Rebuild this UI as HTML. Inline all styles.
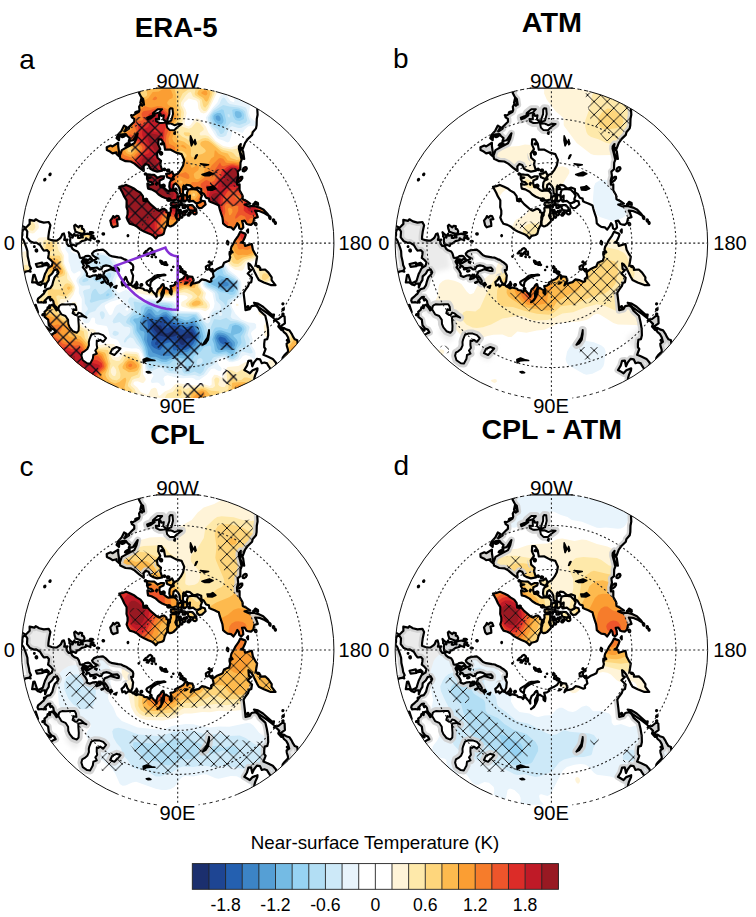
<!DOCTYPE html><html><head><meta charset="utf-8"><title>Near-surface Temperature</title><style>html,body{margin:0;padding:0;background:#fff}svg{display:block}</style></head><body>
<svg width="756" height="917" viewBox="0 0 756 917" font-family="'Liberation Sans', Arial, Helvetica, sans-serif" fill="#000">
<rect width="756" height="917" fill="#fff"/>
<defs>
<clipPath id="circ"><path d="M-19.3 -155.1L19.3 -155.1A156.3 156.3 0 0 1 20.9 154.9L-20.9 154.9A156.3 156.3 0 0 1 -19.3 -155.1Z"/></clipPath>
<g id="perim" fill="none" stroke="#111" stroke-width="1"><path d="M38 -151.6A156.3 156.3 0 0 1 60 144.3M-60 144.3A156.3 156.3 0 0 1 -38 -151.6" /><path d="M-21.5 -155.0H21.5" stroke-width="1.1"/><path stroke-dasharray="4.2 2.6" d="M-38 -151.6A156.3 156.3 0 0 1 -19.3 -155.1M19.3 -155.1A156.3 156.3 0 0 1 38 -151.6"/><path stroke-dasharray="3.2 3.4" stroke-width="0.95" d="M60 144.3A156.3 156.3 0 0 1 20.9 154.9M-20.9 154.9A156.3 156.3 0 0 1 -60 144.3"/></g>
<clipPath id="land"><path d="M75.1 -146.8L76.3 -140.5L80.3 -135.8L79.6 -134.0L79.9 -128.4L79.1 -124.2L78.9 -117.8L78.3 -114.7L75.0 -110.8L74.4 -108.2L70.3 -104.2L67.4 -100.3L65.0 -93.9L62.5 -96.3L63.1 -99.1L61.3 -96.7L61.2 -94.3L62.4 -89.8L63.9 -83.3L62.8 -80.4L62.6 -73.8L60.0 -71.5L60.5 -67.2L59.3 -62.5L59.5 -58.4L61.9 -58.7L61.9 -52.9L64.7 -47.9L65.1 -43.9L68.7 -42.1L72.5 -39.4L66.8 -38.6L70.7 -36.8L76.2 -37.2L81.7 -35.5L85.5 -33.7L89.3 -29.9L91.4 -27.1L86.9 -29.9L81.5 -32.1L77.4 -32.4L78.6 -30.2L80.1 -26.0L76.6 -24.9L75.6 -20.3L73.3 -18.3L70.2 -18.8L69.0 -19.1L66.9 -22.4L64.3 -22.1L65.2 -19.3L65.6 -15.7L63.6 -13.5L61.6 -14.8L61.0 -18.1L59.6 -19.9L58.4 -17.3L55.8 -13.4L53.4 -15.8L49.9 -16.2L47.6 -17.8L45.4 -19.7L45.1 -23.0L44.7 -25.8L43.5 -29.3L42.0 -34.0L41.1 -37.6L39.2 -38.5L36.9 -39.6L33.7 -40.9L31.6 -41.9L31.2 -44.5L28.4 -45.4L26.2 -49.2L23.7 -50.7L23.5 -54.1L19.7 -55.6L17.8 -54.8L15.3 -55.0L12.3 -57.7L8.7 -58.3L7.4 -56.6L6.1 -57.6L5.2 -54.1L5.3 -50.0L3.8 -47.7L2.2 -50.3L1.9 -54.3L0.5 -57.1L-2.1 -59.8L-4.1 -58.3L-4.7 -54.2L-7.5 -53.0L-8.4 -56.4L-8.0 -60.6L-6.6 -62.7L-3.9 -63.8L-4.6 -66.5L-3.0 -68.0L-0.0 -69.4L3.2 -73.5L5.4 -77.6L6.5 -83.1L3.9 -89.0L-1.6 -90.5L-7.4 -93.6L-12.6 -93.4L-13.7 -99.6L-16.4 -103.7L-19.2 -103.8L-19.5 -98.7L-17.4 -94.0L-20.7 -89.5L-20.2 -85.3L-16.7 -82.2L-17.4 -78.6L-15.4 -72.5L-20.5 -71.5L-25.1 -73.0L-27.3 -74.3L-29.2 -78.1L-32.0 -79.1L-34.1 -76.7L-33.9 -72.1L-38.5 -75.5L-43.2 -79.5L-47.1 -81.6L-52.2 -81.9L-57.4 -84.4L-57.9 -87.5L-55.9 -93.0L-50.9 -95.8L-43.4 -99.8L-41.2 -104.6L-40.0 -109.8L-41.4 -107.7L-44.7 -102.8L-49.0 -101.8L-47.9 -105.0L-50.4 -107.1L-52.0 -109.1L-55.4 -108.8L-58.4 -107.5L-58.7 -102.9L-61.1 -105.0L-59.9 -108.1L-56.1 -112.5L-53.6 -117.5L-51.1 -115.9L-53.2 -111.6L-48.7 -114.6L-49.1 -115.7L-45.7 -119.1L-43.4 -121.3L-43.5 -124.2L-45.8 -125.8L-46.1 -126.7L-43.1 -128.7L-38.9 -131.3L-38.2 -133.2L-38.6 -136.4L-37.2 -138.8L-35.5 -137.3L-37.4 -140.4L-36.4 -144.7L-33.7 -138.4L-34.6 -144.1L-36.3 -145.7L-38.9 -150.5L-36.8 -153.1L-33.6 -156.6L-31.0 -159.5L-28.6 -162.4L-26.6 -168.0L-27.1 -171.4L-15.1 -172.9L-3.0 -173.5L9.2 -173.3L21.3 -172.2L33.3 -170.3L45.1 -167.6L56.7 -164.0L68.1 -159.6L79.1 -154.5ZM-58.4 -56.2L-55.3 -50.6L-53.4 -46.4L-51.1 -42.8L-51.1 -39.2L-51.2 -35.9L-50.1 -32.6L-50.1 -28.9L-51.1 -25.5L-49.7 -22.1L-47.9 -19.3L-44.0 -18.2L-40.4 -16.3L-37.2 -13.5L-33.6 -11.6L-30.0 -10.0L-26.3 -8.5L-24.0 -6.9L-21.9 -4.6L-19.8 -7.2L-15.9 -8.1L-14.1 -9.2L-13.5 -11.3L-12.9 -13.8L-11.6 -16.6L-10.5 -18.2L-10.5 -20.6L-10.0 -23.5L-10.1 -25.7L-9.4 -28.8L-9.2 -30.2L-11.3 -30.9L-11.2 -32.4L-13.5 -34.3L-15.2 -34.2L-18.7 -32.4L-21.0 -33.6L-24.1 -36.3L-27.3 -39.0L-30.0 -42.1L-34.2 -42.2L-34.8 -47.0L-37.2 -50.3L-41.0 -52.5L-43.2 -54.3L-47.3 -56.3L-51.5 -58.2L-55.0 -56.9ZM-59.4 -27.1L-58.0 -24.0L-60.9 -23.4L-60.2 -19.6L-60.1 -17.2L-63.2 -16.3L-64.7 -15.8L-66.2 -17.7L-67.4 -22.5L-65.3 -25.1L-64.5 -27.0L-63.1 -25.5L-61.1 -27.2ZM-152.4 -14.9L-150.6 -16.6L-148.0 -19.2L-148.1 -23.2L-143.3 -22.2L-142.0 -23.8L-138.5 -21.7L-133.9 -20.5L-129.0 -21.1L-127.3 -17.9L-128.7 -11.3L-129.3 -6.8L-129.4 -4.1L-126.0 -2.9L-123.0 -2.4L-120.8 -2.5L-118.0 -4.5L-116.8 -5.7L-115.3 -9.1L-113.8 -9.6L-112.8 -5.9L-113.5 -3.2L-110.2 -3.5L-111.2 -1.9L-110.9 0.4L-109.1 2.9L-106.7 3.0L-105.4 5.5L-103.3 7.2L-100.2 8.4L-98.9 10.4L-98.4 12.1L-97.7 14.6L-96.5 14.9L-93.7 14.2L-92.1 13.1L-89.6 12.7L-87.8 13.3L-85.6 16.0L-88.4 16.1L-89.4 17.2L-91.9 16.2L-94.0 16.2L-95.0 16.8L-95.9 18.6L-95.0 20.2L-93.8 22.5L-94.9 24.2L-92.3 27.3L-90.7 30.3L-90.8 32.7L-87.9 33.8L-84.5 32.4L-81.5 32.1L-80.4 33.3L-81.3 36.2L-77.8 35.1L-75.9 33.0L-74.3 34.6L-72.4 38.5L-69.9 40.7L-69.6 37.8L-71.4 34.8L-74.4 31.6L-73.0 28.4L-69.8 27.2L-67.3 26.1L-64.6 26.8L-61.1 27.9L-59.0 27.9L-58.8 26.3L-60.5 24.4L-63.4 24.7L-65.8 24.6L-68.4 22.9L-71.6 22.3L-74.3 23.0L-75.4 24.2L-76.2 26.0L-78.3 26.2L-80.9 24.4L-84.0 24.9L-87.5 25.1L-89.0 23.0L-90.8 23.0L-91.3 20.9L-89.1 19.9L-85.8 17.9L-82.3 16.3L-81.3 15.8L-80.6 14.9L-82.8 13.9L-85.1 12.0L-85.6 10.5L-83.5 8.2L-80.2 7.0L-77.4 6.8L-74.7 6.5L-72.3 8.2L-70.0 10.5L-68.3 12.1L-65.3 13.3L-62.4 13.8L-59.5 14.3L-56.6 14.6L-53.9 16.0L-51.7 16.8L-49.8 18.1L-47.9 19.3L-45.0 21.8L-44.4 23.6L-44.7 26.9L-46.6 26.9L-45.8 29.8L-44.6 32.4L-45.2 37.9L-46.4 40.6L-48.5 40.7L-50.4 38.0L-51.3 35.3L-52.0 33.8L-53.8 37.0L-56.1 39.0L-55.3 42.4L-52.9 41.4L-51.9 43.5L-49.4 41.4L-46.1 42.2L-45.0 43.4L-42.9 41.7L-41.2 39.5L-41.1 38.8L-40.0 41.4L-42.1 44.4L-43.8 43.8L-41.5 45.3L-39.3 44.4L-34.3 45.6L-33.5 46.9L-29.7 47.5L-28.4 49.2L-26.4 46.6L-23.8 49.8L-22.7 50.9L-22.0 51.8L-21.1 53.6L-21.2 50.0L-20.7 48.8L-19.8 46.2L-17.4 44.3L-16.1 41.9L-14.1 42.1L-13.5 43.7L-14.7 46.7L-16.4 50.4L-16.2 54.7L-18.9 58.2L-20.4 59.1L-17.5 57.2L-15.4 53.6L-13.8 49.8L-13.7 46.2L-11.6 44.8L-9.8 46.0L-7.9 47.0L-7.9 49.7L-6.3 51.3L-5.9 48.1L-7.2 43.0L-4.5 42.5L-2.1 40.9L-2.8 39.5L-0.0 38.0L3.2 36.5L5.6 35.1L8.0 31.4L9.5 32.1L9.6 35.7L10.8 33.3L14.7 33.8L16.0 37.7L13.8 39.9L13.0 42.4L14.7 40.5L17.4 40.0L21.2 39.0L24.1 36.3L27.8 37.0L32.0 38.8L33.7 38.1L33.4 35.8L36.0 33.6L35.2 30.0L35.1 28.9L38.8 26.2L42.4 24.5L44.9 23.4L46.3 19.7L49.8 18.1L51.4 17.7L52.5 14.1L51.8 11.0L52.0 8.7L54.9 9.2L53.1 6.5L53.7 3.8L56.0 0.0L57.5 -3.0L60.7 -7.5L62.6 -11.3L67.4 -9.5L68.1 -8.4L67.0 -5.3L65.2 -1.7L63.3 -0.6L66.6 0.0L67.4 2.9L72.2 1.3L74.1 0.9L75.2 6.6L77.5 10.9L79.4 13.6L78.4 19.6L78.0 22.4L82.6 24.8L82.5 26.8L87.4 26.4L90.7 29.5L94.0 34.2L93.9 37.0L97.8 42.1L93.0 42.0L86.2 39.3L81.1 36.8L79.3 33.7L76.8 28.7L75.1 25.1L72.4 21.4L70.7 20.3L71.2 25.9L73.5 27.0L70.0 30.4L74.3 34.6L73.6 39.1L71.5 40.0L70.4 43.1L67.8 46.6L65.9 49.7L66.5 54.8L67.2 60.5L67.8 67.1L72.0 66.0L73.8 63.1L77.8 62.3L80.3 64.3L82.1 67.7L87.6 72.7L89.1 78.9L90.3 85.7L90.5 92.1L89.6 96.0L87.0 96.7L86.5 100.5L86.5 104.2L87.9 105.9L85.7 111.7L89.9 113.4L95.1 115.8L98.3 119.6L98.5 121.6L96.1 125.2L93.6 127.5L92.9 126.0L90.1 121.8L89.4 120.3L86.7 119.4L84.1 120.1L82.3 116.2L79.2 115.7L76.2 119.6L74.6 123.2L73.4 117.5L70.7 117.7L69.3 122.6L66.6 126.9L70.0 128.8L72.2 130.2L74.9 127.2L79.8 125.3L79.6 127.4L77.6 131.7L76.6 135.3L76.6 136.5L82.0 139.2L87.1 142.1L91.0 145.7L92.0 147.2L81.2 153.4L69.9 158.8L58.3 163.5L46.4 167.2L34.3 170.1L22.0 172.2L9.6 173.3L-2.9 173.5L-15.3 172.9L-27.7 171.3L-40.0 168.9L-52.0 165.6L-63.7 161.4L-75.2 156.4L-86.2 150.6L-96.8 144.0L-106.9 136.7L-116.4 128.7L-125.4 120.0L-133.7 110.7L-141.3 100.8L-136.8 95.1L-130.4 93.0L-126.8 91.8L-123.9 90.0L-122.0 89.3L-123.6 86.5L-126.4 85.3L-128.9 82.1L-129.6 76.6L-133.1 73.8L-132.9 70.7L-133.2 68.7L-130.6 66.6L-130.0 64.2L-127.8 65.1L-127.3 62.4L-125.5 61.7L-123.2 64.1L-121.2 67.2L-119.8 66.4L-121.0 64.3L-122.9 62.6L-124.0 60.5L-124.4 58.0L-126.0 56.1L-127.2 57.4L-128.2 55.2L-127.4 53.8L-129.4 53.9L-131.1 55.6L-133.0 57.8L-133.9 59.6L-135.9 59.1L-139.4 59.4L-140.2 57.5L-139.6 55.5L-137.2 53.5L-135.7 52.1L-134.1 50.7L-132.6 48.3L-130.7 46.0L-127.6 45.2L-125.4 42.0L-124.4 38.0L-123.0 34.1L-120.0 31.0L-119.2 29.1L-120.8 26.3L-123.7 27.2L-125.5 30.4L-128.7 33.3L-129.0 37.0L-131.0 40.1L-132.6 44.4L-132.5 40.5L-135.2 40.3L-137.0 42.2L-139.6 41.4L-141.5 39.8L-138.4 39.7L-134.9 37.9L-133.9 34.6L-132.6 30.6L-131.4 28.4L-129.8 25.2L-127.6 23.6L-125.9 22.7L-124.9 19.3L-127.1 16.7L-129.6 14.8L-129.0 11.3L-128.8 9.0L-130.5 7.1L-132.7 7.4L-133.9 7.5L-135.6 5.2L-137.6 1.9L-141.5 -0.5L-144.0 -0.3L-147.6 -1.8L-150.1 -5.0L-150.7 -5.8L-150.4 -11.6L-152.2 -14.4ZM-162.9 -25.8L-159.8 -21.3L-158.7 -18.9L-155.5 -17.2L-153.0 -15.8L-152.8 -14.2L-154.6 -13.5L-155.4 -10.9L-155.3 -8.1L-156.1 -5.4L-154.1 -2.7L-152.5 1.3L-151.1 5.3L-150.3 7.9L-150.0 13.1L-148.8 18.3L-148.2 22.2L-146.7 25.3L-147.8 26.9L-147.1 28.6L-149.3 27.9L-152.2 28.5L-153.6 29.9L-157.4 27.8L-159.2 30.9L-159.4 36.8L-159.8 43.4L-166.8 47.8L-170.2 48.8L-173.3 36.3L-175.5 23.6L-176.7 10.8L-177.1 -2.1L-176.4 -14.9L-174.9 -27.7ZM-108.9 -10.9L-108.2 -8.5L-108.3 -6.6L-107.2 -5.6L-107.6 -2.8L-107.3 0.6L-105.8 2.6L-105.0 1.5L-101.7 3.0L-100.6 0.5L-98.8 0.2L-95.9 -2.0L-93.3 -2.6L-91.8 -3.2L-91.8 -4.8L-90.4 -3.9L-87.6 -3.1L-87.3 -2.7L-87.1 -6.1L-84.4 -4.6L-84.2 -7.4L-87.2 -8.4L-89.7 -9.4L-92.9 -8.9L-94.4 -8.3L-95.3 -8.0L-94.9 -5.6L-96.3 -5.9L-98.1 -5.1L-99.6 -5.2L-99.4 -7.8L-100.9 -7.9L-102.4 -7.3L-103.4 -9.4L-104.4 -7.7L-105.1 -5.5L-105.6 -7.8L-107.5 -9.4ZM-102.3 -11.5L-99.2 -10.4L-95.8 -9.2L-93.7 -9.8L-93.2 -11.9L-94.3 -14.1L-95.7 -14.3L-95.6 -16.9L-97.9 -17.3L-99.1 -15.7L-101.4 -17.5L-102.4 -18.4L-103.5 -17.3L-103.1 -14.5L-102.4 -12.6ZM-29.6 -54.5L-26.2 -53.7L-21.8 -51.3L-19.1 -48.6L-15.5 -46.4L-12.5 -45.1L-9.8 -44.4L-7.1 -42.5L-3.8 -42.9L-0.4 -43.6L-0.0 -49.0L-1.8 -51.6L-4.6 -52.8L-9.2 -52.2L-11.3 -53.2L-14.4 -55.8L-17.1 -55.9L-18.3 -59.8L-18.0 -62.7L-14.2 -64.3L-13.6 -66.7L-16.7 -66.8L-20.0 -65.3L-23.5 -68.2L-27.0 -68.4L-30.6 -68.7L-30.7 -65.9L-27.1 -65.4L-30.7 -64.4L-29.3 -61.4L-26.6 -61.1L-24.5 -59.0L-27.2 -58.4L-30.3 -59.4L-30.0 -56.4ZM-9.7 -17.8L-7.8 -16.7L-6.2 -17.0L-4.4 -17.8L-2.7 -19.5L-1.1 -21.0L-0.0 -22.9L-1.3 -24.9L-2.4 -27.5L-1.3 -30.2L-1.1 -32.9L-1.2 -35.6L-5.7 -35.9L-7.1 -34.9L-6.8 -32.2L-7.7 -29.8L-7.7 -27.9L-9.0 -26.1L-9.2 -24.1L-9.8 -22.1L-9.9 -19.1ZM-1.1 -25.0L1.2 -23.1L2.7 -26.2L1.6 -30.2L-0.8 -30.3L-1.0 -27.6ZM-6.6 -37.7L-6.7 -40.1L-3.6 -40.8L-0.0 -40.6L1.4 -39.6L1.6 -36.1L-0.3 -35.6L-0.7 -38.0L-4.6 -37.2ZM10.4 -53.4L14.6 -54.3L19.4 -53.4L22.4 -50.4L24.2 -47.5L22.9 -43.9L23.6 -42.6L20.9 -40.1L17.9 -40.3L15.4 -42.2L11.9 -41.6L12.3 -47.4L9.2 -45.3L9.3 -50.3ZM27.1 -41.7L27.9 -38.6L24.2 -35.3L21.4 -34.9L19.3 -37.0L19.0 -39.8L22.7 -40.9L24.5 -42.4ZM10.9 -38.0L9.9 -35.6L11.4 -33.1L14.5 -32.5L17.0 -32.7L17.1 -35.1L14.6 -37.9ZM6.0 -48.6L5.3 -43.3L7.3 -41.6L9.7 -43.9L8.8 -47.3ZM0.4 -45.7L0.4 -42.5L3.7 -42.1L4.4 -46.1L2.9 -47.5ZM5.1 -38.7L5.0 -35.2L7.5 -35.3L7.4 -38.3ZM-11.6 -69.3L-10.4 -65.8L-6.2 -64.1L-3.5 -67.1L-5.6 -71.4L-8.5 -69.4ZM5.4 -56.3L6.1 -53.7L9.1 -54.4L7.9 -56.2ZM-59.5 -100.3L-59.5 -97.1L-58.8 -92.3L-58.5 -86.8L-61.1 -88.9L-61.2 -90.7L-65.2 -89.7L-67.7 -91.5L-70.8 -93.0L-71.0 -95.9L-67.1 -97.6L-65.2 -96.7ZM62.9 -95.3L65.4 -91.7L66.5 -84.2L65.0 -84.7L63.1 -89.4L62.2 -92.9ZM80.4 -38.3L76.5 -39.8L77.6 -41.3L80.2 -40.0ZM70.3 -10.5L70.3 -13.7L69.2 -12.2ZM76.3 59.6L80.3 60.5L85.3 63.6L89.8 67.6L94.3 71.6L96.3 71.5L95.7 74.8L90.9 71.0L84.8 66.7L81.2 64.2L77.9 61.3ZM103.7 87.0L100.6 83.5L101.6 80.8L96.9 76.2L100.7 75.9L104.9 72.6L106.9 73.5L107.2 80.2L102.8 83.2L104.7 84.8ZM120.0 101.0L119.6 97.2L117.1 96.2L115.2 93.3L114.0 90.7L111.7 87.3L108.5 86.3L106.1 84.7L105.2 87.3L106.2 89.1L108.6 91.1L110.3 94.2L111.5 98.7L108.9 100.5L109.1 102.8L110.2 106.4L110.4 108.5L106.6 112.3L105.0 114.6L104.2 119.9L107.1 123.2L113.8 126.4L126.4 113.8L123.2 107.1ZM-143.1 31.7L-140.6 39.3L-145.6 39.3L-144.4 32.0ZM-135.6 19.5L-135.0 23.1L-140.7 23.8L-141.8 20.9ZM-130.8 19.8L-128.9 21.6L-133.6 22.3L-134.1 20.8ZM-132.3 83.6L-130.4 84.7L-126.9 87.5L-129.7 87.5L-132.4 86.0ZM-142.0 61.7L-139.7 69.0L-142.1 66.3L-142.9 62.1ZM15.1 -31.6L15.1 -30.2L16.1 -29.0L17.6 -28.8L18.8 -29.6L19.0 -31.0L17.9 -32.3L16.2 -32.5ZM11.1 -30.1L11.1 -29.3L11.6 -28.7L12.4 -28.7L13.0 -29.4L13.0 -30.3L12.5 -30.9L11.7 -30.8ZM9.9 -28.6L9.9 -27.9L10.5 -27.4L11.3 -27.4L11.8 -27.9L11.8 -28.6L11.2 -29.1L10.4 -29.1ZM4.8 -29.6L5.0 -28.4L5.9 -27.8L7.0 -28.0L7.7 -29.0L7.5 -30.2L6.6 -30.9L5.4 -30.7ZM3.0 -30.7L3.1 -29.9L3.5 -29.5L4.0 -29.8L4.3 -30.5L4.2 -31.3L3.8 -31.6L3.3 -31.4ZM2.5 -39.2L2.7 -38.4L3.3 -38.0L4.0 -38.2L4.4 -39.1L4.2 -39.9L3.5 -40.4L2.8 -40.1ZM-10.5 -43.1L-9.8 -42.4L-8.6 -42.3L-7.5 -42.9L-7.2 -43.8L-7.8 -44.6L-9.1 -44.7L-10.2 -44.1ZM-15.2 -57.0L-14.6 -56.1L-13.7 -56.0L-13.1 -56.5L-13.0 -57.5L-13.5 -58.4L-14.4 -58.6L-15.1 -58.0ZM-10.8 -72.5L-10.4 -71.8L-9.4 -71.7L-8.6 -72.1L-8.3 -72.8L-8.7 -73.4L-9.7 -73.6L-10.6 -73.2ZM-14.0 -73.6L-13.7 -73.1L-13.1 -72.9L-12.6 -73.3L-12.5 -73.9L-12.8 -74.4L-13.4 -74.6L-13.9 -74.2ZM-16.9 -99.1L-16.4 -98.8L-15.3 -98.8L-14.2 -99.2L-13.8 -99.6L-14.3 -100.0L-15.5 -100.0L-16.6 -99.6ZM-52.7 -97.6L-51.7 -97.4L-49.9 -98.0L-48.4 -99.1L-47.9 -100.0L-48.9 -100.2L-50.8 -99.6L-52.3 -98.5ZM-56.3 -106.3L-55.4 -106.0L-53.8 -106.5L-52.5 -107.5L-52.1 -108.3L-53.0 -108.6L-54.6 -108.1L-56.0 -107.1ZM-33.0 -42.1L-32.2 -41.7L-31.1 -42.1L-30.5 -43.0L-30.6 -43.9L-31.5 -44.4L-32.6 -44.0L-33.2 -43.1ZM17.2 -33.3L17.1 -32.7L17.5 -32.2L18.1 -32.1L18.6 -32.5L18.6 -33.1L18.2 -33.6L17.6 -33.7ZM9.0 -37.4L9.0 -36.8L9.4 -36.5L10.0 -36.6L10.3 -37.1L10.2 -37.7L9.8 -38.1L9.3 -37.9ZM8.1 -32.2L8.1 -31.6L8.5 -31.2L9.1 -31.3L9.4 -31.8L9.4 -32.4L9.0 -32.8L8.4 -32.7ZM6.2 -31.8L6.3 -31.3L6.6 -31.0L7.0 -31.1L7.3 -31.6L7.2 -32.1L6.9 -32.3L6.4 -32.2ZM-0.5 -33.2L-0.2 -32.6L0.3 -32.4L0.8 -32.6L1.0 -33.2L0.8 -33.7L0.3 -34.0L-0.2 -33.7ZM2.0 -32.6L2.1 -32.0L2.5 -31.8L2.9 -32.0L3.1 -32.5L3.0 -33.1L2.6 -33.3L2.2 -33.1ZM10.8 -42.5L10.9 -41.8L11.5 -41.4L12.2 -41.4L12.6 -42.0L12.5 -42.7L12.0 -43.2L11.3 -43.1ZM-16.3 -57.0L-16.0 -56.4L-15.6 -56.3L-15.3 -56.6L-15.3 -57.2L-15.6 -57.7L-16.1 -57.9L-16.3 -57.6ZM-32.9 -68.9L-32.5 -68.5L-32.0 -68.6L-31.6 -68.9L-31.7 -69.5L-32.0 -69.8L-32.6 -69.8L-32.9 -69.4ZM-17.7 -89.6L-17.2 -88.7L-16.4 -88.4L-15.7 -88.9L-15.5 -90.0L-16.0 -90.9L-16.9 -91.2L-17.6 -90.6ZM3.6 -26.1L3.7 -25.6L4.0 -25.3L4.4 -25.5L4.7 -25.9L4.6 -26.4L4.2 -26.6L3.8 -26.5ZM-0.4 -35.0L-0.3 -34.7L-0.0 -34.5L0.3 -34.7L0.4 -35.0L0.3 -35.4L-0.0 -35.6L-0.3 -35.4ZM5.6 -42.1L5.8 -41.7L6.2 -41.5L6.7 -41.6L6.9 -41.9L6.8 -42.3L6.4 -42.6L5.9 -42.5ZM-2.5 -54.0L-2.3 -53.7L-1.9 -53.5L-1.5 -53.7L-1.3 -54.1L-1.5 -54.4L-1.9 -54.6L-2.3 -54.4ZM65.8 -74.9L64.9 -73.2L65.2 -71.9L66.5 -71.8L68.1 -72.8L69.1 -74.5L68.7 -75.8L67.4 -76.0ZM61.2 -64.7L59.8 -62.7L59.8 -61.3L61.2 -61.3L63.2 -62.7L64.6 -64.7L64.6 -66.2L63.2 -66.2ZM77.7 -20.2L77.2 -19.7L77.2 -18.8L77.6 -18.0L78.3 -17.8L78.8 -18.3L78.8 -19.2L78.3 -20.0ZM91.8 -27.0L91.4 -26.4L91.5 -25.4L92.0 -24.4L92.6 -24.1L92.9 -24.7L92.9 -25.8L92.4 -26.7ZM95.6 -23.8L95.2 -23.4L95.2 -22.5L95.6 -21.7L96.2 -21.5L96.6 -22.0L96.6 -22.8L96.2 -23.6ZM97.4 -21.2L97.1 -20.9L97.1 -20.1L97.4 -19.4L97.8 -19.2L98.2 -19.6L98.2 -20.3L97.9 -21.0ZM105.6 70.5L105.2 70.4L104.8 70.7L104.6 71.1L104.9 71.6L105.4 71.6L105.8 71.4L105.9 70.9ZM106.0 65.3L105.5 65.4L105.0 65.8L104.7 66.5L105.0 67.0L105.5 67.0L106.0 66.5L106.2 65.8ZM105.5 60.2L105.1 60.2L104.8 60.5L104.7 61.0L104.9 61.3L105.2 61.3L105.6 61.0L105.7 60.5ZM-141.2 8.5L-140.6 8.2L-140.5 7.4L-140.7 6.6L-141.3 6.3L-141.9 6.6L-142.1 7.4L-141.8 8.2ZM-82.9 28.3L-82.1 27.9L-81.9 27.4L-82.3 27.2L-83.3 27.3L-84.1 27.7L-84.3 28.2L-83.8 28.5ZM-86.0 26.1L-85.1 25.7L-84.7 25.4L-85.2 25.4L-86.2 25.6L-87.1 26.0L-87.5 26.2L-87.0 26.3ZM-78.2 33.5L-77.8 33.0L-77.9 32.3L-78.4 31.7L-79.0 31.6L-79.3 32.1L-79.2 32.8L-78.8 33.4ZM-77.0 32.7L-76.8 32.4L-76.8 32.0L-77.1 31.6L-77.4 31.6L-77.7 31.9L-77.6 32.3L-77.3 32.6ZM-91.1 20.1L-90.4 19.7L-90.2 19.0L-90.7 18.5L-91.5 18.4L-92.3 18.8L-92.5 19.5L-92.0 20.0ZM-92.3 17.6L-91.8 17.3L-91.7 16.8L-92.0 16.4L-92.5 16.3L-93.0 16.6L-93.1 17.1L-92.8 17.5ZM-93.3 19.5L-93.2 19.3L-93.2 18.8L-93.4 18.3L-93.6 18.2L-93.8 18.4L-93.8 18.9L-93.6 19.4ZM-91.2 24.6L-91.1 24.5L-91.0 24.2L-91.2 24.0L-91.4 24.0L-91.6 24.1L-91.6 24.4L-91.4 24.6ZM80.8 22.9L79.8 22.8L79.4 23.1L79.6 23.6L80.4 24.0L81.3 24.1L81.8 23.8L81.6 23.3ZM70.7 63.2L70.1 63.0L69.6 63.3L69.3 63.9L69.5 64.4L70.1 64.6L70.6 64.3L70.9 63.7ZM52.6 10.2L52.2 10.3L51.9 10.6L52.0 10.9L52.4 11.1L52.8 11.1L53.0 10.8L52.9 10.4ZM-134.4 72.1L-134.0 71.7L-133.9 71.2L-134.3 71.0L-134.9 71.1L-135.3 71.5L-135.4 72.0L-135.0 72.2ZM-127.7 63.7L-127.6 63.4L-127.7 62.8L-128.1 62.4L-128.4 62.3L-128.5 62.7L-128.4 63.2L-128.1 63.6ZM-131.9 59.5L-131.8 59.1L-132.0 58.2L-132.5 57.5L-132.9 57.2L-133.0 57.7L-132.7 58.5L-132.3 59.3ZM-133.0 48.2L-132.5 47.9L-132.3 47.6L-132.6 47.5L-133.2 47.6L-133.7 47.9L-133.8 48.2L-133.6 48.3ZM-129.2 23.8L-129.0 23.6L-129.0 23.4L-129.1 23.3L-129.3 23.2L-129.4 23.3L-129.4 23.5L-129.3 23.7ZM-143.3 3.9L-143.1 3.8L-143.0 3.5L-143.1 3.2L-143.3 3.1L-143.6 3.2L-143.7 3.5L-143.6 3.8ZM97.1 129.5L96.7 129.5L96.0 129.8L95.5 130.3L95.5 130.7L95.9 130.8L96.5 130.4L97.0 129.9ZM100.6 122.5L100.2 122.1L99.9 122.0L99.9 122.3L100.2 122.8L100.6 123.2L100.9 123.3L100.9 123.0ZM109.9 97.1L109.5 96.8L109.2 96.9L109.1 97.2L109.4 97.6L109.8 97.8L110.1 97.8L110.2 97.4ZM96.7 77.5L96.5 77.4L96.4 77.5L96.3 77.6L96.4 77.8L96.6 77.9L96.8 77.8L96.8 77.6ZM75.8 -39.3L75.5 -38.9L75.5 -38.5L75.9 -38.2L76.3 -38.2L76.6 -38.6L76.5 -39.0L76.2 -39.3ZM-42.5 -130.7L-41.9 -130.7L-40.6 -131.0L-39.3 -131.5L-38.8 -131.9L-39.4 -131.9L-40.7 -131.6L-42.0 -131.1ZM-46.6 -127.8L-46.5 -127.7L-46.3 -127.8L-46.0 -127.9L-46.0 -128.0L-46.1 -128.1L-46.4 -128.1L-46.6 -127.9ZM-17.6 -120.8L-17.2 -120.6L-16.3 -120.6L-15.4 -120.8L-15.1 -121.1L-15.5 -121.3L-16.4 -121.3L-17.3 -121.1ZM-96.8 -7.4L-96.5 -7.5L-96.4 -7.6L-96.5 -7.7L-96.8 -7.8L-97.1 -7.8L-97.2 -7.7L-97.1 -7.5Z"/></clipPath>
<path id="landp" d="M75.1 -146.8L76.3 -140.5L80.3 -135.8L79.6 -134.0L79.9 -128.4L79.1 -124.2L78.9 -117.8L78.3 -114.7L75.0 -110.8L74.4 -108.2L70.3 -104.2L67.4 -100.3L65.0 -93.9L62.5 -96.3L63.1 -99.1L61.3 -96.7L61.2 -94.3L62.4 -89.8L63.9 -83.3L62.8 -80.4L62.6 -73.8L60.0 -71.5L60.5 -67.2L59.3 -62.5L59.5 -58.4L61.9 -58.7L61.9 -52.9L64.7 -47.9L65.1 -43.9L68.7 -42.1L72.5 -39.4L66.8 -38.6L70.7 -36.8L76.2 -37.2L81.7 -35.5L85.5 -33.7L89.3 -29.9L91.4 -27.1L86.9 -29.9L81.5 -32.1L77.4 -32.4L78.6 -30.2L80.1 -26.0L76.6 -24.9L75.6 -20.3L73.3 -18.3L70.2 -18.8L69.0 -19.1L66.9 -22.4L64.3 -22.1L65.2 -19.3L65.6 -15.7L63.6 -13.5L61.6 -14.8L61.0 -18.1L59.6 -19.9L58.4 -17.3L55.8 -13.4L53.4 -15.8L49.9 -16.2L47.6 -17.8L45.4 -19.7L45.1 -23.0L44.7 -25.8L43.5 -29.3L42.0 -34.0L41.1 -37.6L39.2 -38.5L36.9 -39.6L33.7 -40.9L31.6 -41.9L31.2 -44.5L28.4 -45.4L26.2 -49.2L23.7 -50.7L23.5 -54.1L19.7 -55.6L17.8 -54.8L15.3 -55.0L12.3 -57.7L8.7 -58.3L7.4 -56.6L6.1 -57.6L5.2 -54.1L5.3 -50.0L3.8 -47.7L2.2 -50.3L1.9 -54.3L0.5 -57.1L-2.1 -59.8L-4.1 -58.3L-4.7 -54.2L-7.5 -53.0L-8.4 -56.4L-8.0 -60.6L-6.6 -62.7L-3.9 -63.8L-4.6 -66.5L-3.0 -68.0L-0.0 -69.4L3.2 -73.5L5.4 -77.6L6.5 -83.1L3.9 -89.0L-1.6 -90.5L-7.4 -93.6L-12.6 -93.4L-13.7 -99.6L-16.4 -103.7L-19.2 -103.8L-19.5 -98.7L-17.4 -94.0L-20.7 -89.5L-20.2 -85.3L-16.7 -82.2L-17.4 -78.6L-15.4 -72.5L-20.5 -71.5L-25.1 -73.0L-27.3 -74.3L-29.2 -78.1L-32.0 -79.1L-34.1 -76.7L-33.9 -72.1L-38.5 -75.5L-43.2 -79.5L-47.1 -81.6L-52.2 -81.9L-57.4 -84.4L-57.9 -87.5L-55.9 -93.0L-50.9 -95.8L-43.4 -99.8L-41.2 -104.6L-40.0 -109.8L-41.4 -107.7L-44.7 -102.8L-49.0 -101.8L-47.9 -105.0L-50.4 -107.1L-52.0 -109.1L-55.4 -108.8L-58.4 -107.5L-58.7 -102.9L-61.1 -105.0L-59.9 -108.1L-56.1 -112.5L-53.6 -117.5L-51.1 -115.9L-53.2 -111.6L-48.7 -114.6L-49.1 -115.7L-45.7 -119.1L-43.4 -121.3L-43.5 -124.2L-45.8 -125.8L-46.1 -126.7L-43.1 -128.7L-38.9 -131.3L-38.2 -133.2L-38.6 -136.4L-37.2 -138.8L-35.5 -137.3L-37.4 -140.4L-36.4 -144.7L-33.7 -138.4L-34.6 -144.1L-36.3 -145.7L-38.9 -150.5L-36.8 -153.1L-33.6 -156.6L-31.0 -159.5L-28.6 -162.4L-26.6 -168.0L-27.1 -171.4L-15.1 -172.9L-3.0 -173.5L9.2 -173.3L21.3 -172.2L33.3 -170.3L45.1 -167.6L56.7 -164.0L68.1 -159.6L79.1 -154.5ZM-58.4 -56.2L-55.3 -50.6L-53.4 -46.4L-51.1 -42.8L-51.1 -39.2L-51.2 -35.9L-50.1 -32.6L-50.1 -28.9L-51.1 -25.5L-49.7 -22.1L-47.9 -19.3L-44.0 -18.2L-40.4 -16.3L-37.2 -13.5L-33.6 -11.6L-30.0 -10.0L-26.3 -8.5L-24.0 -6.9L-21.9 -4.6L-19.8 -7.2L-15.9 -8.1L-14.1 -9.2L-13.5 -11.3L-12.9 -13.8L-11.6 -16.6L-10.5 -18.2L-10.5 -20.6L-10.0 -23.5L-10.1 -25.7L-9.4 -28.8L-9.2 -30.2L-11.3 -30.9L-11.2 -32.4L-13.5 -34.3L-15.2 -34.2L-18.7 -32.4L-21.0 -33.6L-24.1 -36.3L-27.3 -39.0L-30.0 -42.1L-34.2 -42.2L-34.8 -47.0L-37.2 -50.3L-41.0 -52.5L-43.2 -54.3L-47.3 -56.3L-51.5 -58.2L-55.0 -56.9ZM-59.4 -27.1L-58.0 -24.0L-60.9 -23.4L-60.2 -19.6L-60.1 -17.2L-63.2 -16.3L-64.7 -15.8L-66.2 -17.7L-67.4 -22.5L-65.3 -25.1L-64.5 -27.0L-63.1 -25.5L-61.1 -27.2ZM-152.4 -14.9L-150.6 -16.6L-148.0 -19.2L-148.1 -23.2L-143.3 -22.2L-142.0 -23.8L-138.5 -21.7L-133.9 -20.5L-129.0 -21.1L-127.3 -17.9L-128.7 -11.3L-129.3 -6.8L-129.4 -4.1L-126.0 -2.9L-123.0 -2.4L-120.8 -2.5L-118.0 -4.5L-116.8 -5.7L-115.3 -9.1L-113.8 -9.6L-112.8 -5.9L-113.5 -3.2L-110.2 -3.5L-111.2 -1.9L-110.9 0.4L-109.1 2.9L-106.7 3.0L-105.4 5.5L-103.3 7.2L-100.2 8.4L-98.9 10.4L-98.4 12.1L-97.7 14.6L-96.5 14.9L-93.7 14.2L-92.1 13.1L-89.6 12.7L-87.8 13.3L-85.6 16.0L-88.4 16.1L-89.4 17.2L-91.9 16.2L-94.0 16.2L-95.0 16.8L-95.9 18.6L-95.0 20.2L-93.8 22.5L-94.9 24.2L-92.3 27.3L-90.7 30.3L-90.8 32.7L-87.9 33.8L-84.5 32.4L-81.5 32.1L-80.4 33.3L-81.3 36.2L-77.8 35.1L-75.9 33.0L-74.3 34.6L-72.4 38.5L-69.9 40.7L-69.6 37.8L-71.4 34.8L-74.4 31.6L-73.0 28.4L-69.8 27.2L-67.3 26.1L-64.6 26.8L-61.1 27.9L-59.0 27.9L-58.8 26.3L-60.5 24.4L-63.4 24.7L-65.8 24.6L-68.4 22.9L-71.6 22.3L-74.3 23.0L-75.4 24.2L-76.2 26.0L-78.3 26.2L-80.9 24.4L-84.0 24.9L-87.5 25.1L-89.0 23.0L-90.8 23.0L-91.3 20.9L-89.1 19.9L-85.8 17.9L-82.3 16.3L-81.3 15.8L-80.6 14.9L-82.8 13.9L-85.1 12.0L-85.6 10.5L-83.5 8.2L-80.2 7.0L-77.4 6.8L-74.7 6.5L-72.3 8.2L-70.0 10.5L-68.3 12.1L-65.3 13.3L-62.4 13.8L-59.5 14.3L-56.6 14.6L-53.9 16.0L-51.7 16.8L-49.8 18.1L-47.9 19.3L-45.0 21.8L-44.4 23.6L-44.7 26.9L-46.6 26.9L-45.8 29.8L-44.6 32.4L-45.2 37.9L-46.4 40.6L-48.5 40.7L-50.4 38.0L-51.3 35.3L-52.0 33.8L-53.8 37.0L-56.1 39.0L-55.3 42.4L-52.9 41.4L-51.9 43.5L-49.4 41.4L-46.1 42.2L-45.0 43.4L-42.9 41.7L-41.2 39.5L-41.1 38.8L-40.0 41.4L-42.1 44.4L-43.8 43.8L-41.5 45.3L-39.3 44.4L-34.3 45.6L-33.5 46.9L-29.7 47.5L-28.4 49.2L-26.4 46.6L-23.8 49.8L-22.7 50.9L-22.0 51.8L-21.1 53.6L-21.2 50.0L-20.7 48.8L-19.8 46.2L-17.4 44.3L-16.1 41.9L-14.1 42.1L-13.5 43.7L-14.7 46.7L-16.4 50.4L-16.2 54.7L-18.9 58.2L-20.4 59.1L-17.5 57.2L-15.4 53.6L-13.8 49.8L-13.7 46.2L-11.6 44.8L-9.8 46.0L-7.9 47.0L-7.9 49.7L-6.3 51.3L-5.9 48.1L-7.2 43.0L-4.5 42.5L-2.1 40.9L-2.8 39.5L-0.0 38.0L3.2 36.5L5.6 35.1L8.0 31.4L9.5 32.1L9.6 35.7L10.8 33.3L14.7 33.8L16.0 37.7L13.8 39.9L13.0 42.4L14.7 40.5L17.4 40.0L21.2 39.0L24.1 36.3L27.8 37.0L32.0 38.8L33.7 38.1L33.4 35.8L36.0 33.6L35.2 30.0L35.1 28.9L38.8 26.2L42.4 24.5L44.9 23.4L46.3 19.7L49.8 18.1L51.4 17.7L52.5 14.1L51.8 11.0L52.0 8.7L54.9 9.2L53.1 6.5L53.7 3.8L56.0 0.0L57.5 -3.0L60.7 -7.5L62.6 -11.3L67.4 -9.5L68.1 -8.4L67.0 -5.3L65.2 -1.7L63.3 -0.6L66.6 0.0L67.4 2.9L72.2 1.3L74.1 0.9L75.2 6.6L77.5 10.9L79.4 13.6L78.4 19.6L78.0 22.4L82.6 24.8L82.5 26.8L87.4 26.4L90.7 29.5L94.0 34.2L93.9 37.0L97.8 42.1L93.0 42.0L86.2 39.3L81.1 36.8L79.3 33.7L76.8 28.7L75.1 25.1L72.4 21.4L70.7 20.3L71.2 25.9L73.5 27.0L70.0 30.4L74.3 34.6L73.6 39.1L71.5 40.0L70.4 43.1L67.8 46.6L65.9 49.7L66.5 54.8L67.2 60.5L67.8 67.1L72.0 66.0L73.8 63.1L77.8 62.3L80.3 64.3L82.1 67.7L87.6 72.7L89.1 78.9L90.3 85.7L90.5 92.1L89.6 96.0L87.0 96.7L86.5 100.5L86.5 104.2L87.9 105.9L85.7 111.7L89.9 113.4L95.1 115.8L98.3 119.6L98.5 121.6L96.1 125.2L93.6 127.5L92.9 126.0L90.1 121.8L89.4 120.3L86.7 119.4L84.1 120.1L82.3 116.2L79.2 115.7L76.2 119.6L74.6 123.2L73.4 117.5L70.7 117.7L69.3 122.6L66.6 126.9L70.0 128.8L72.2 130.2L74.9 127.2L79.8 125.3L79.6 127.4L77.6 131.7L76.6 135.3L76.6 136.5L82.0 139.2L87.1 142.1L91.0 145.7L92.0 147.2L81.2 153.4L69.9 158.8L58.3 163.5L46.4 167.2L34.3 170.1L22.0 172.2L9.6 173.3L-2.9 173.5L-15.3 172.9L-27.7 171.3L-40.0 168.9L-52.0 165.6L-63.7 161.4L-75.2 156.4L-86.2 150.6L-96.8 144.0L-106.9 136.7L-116.4 128.7L-125.4 120.0L-133.7 110.7L-141.3 100.8L-136.8 95.1L-130.4 93.0L-126.8 91.8L-123.9 90.0L-122.0 89.3L-123.6 86.5L-126.4 85.3L-128.9 82.1L-129.6 76.6L-133.1 73.8L-132.9 70.7L-133.2 68.7L-130.6 66.6L-130.0 64.2L-127.8 65.1L-127.3 62.4L-125.5 61.7L-123.2 64.1L-121.2 67.2L-119.8 66.4L-121.0 64.3L-122.9 62.6L-124.0 60.5L-124.4 58.0L-126.0 56.1L-127.2 57.4L-128.2 55.2L-127.4 53.8L-129.4 53.9L-131.1 55.6L-133.0 57.8L-133.9 59.6L-135.9 59.1L-139.4 59.4L-140.2 57.5L-139.6 55.5L-137.2 53.5L-135.7 52.1L-134.1 50.7L-132.6 48.3L-130.7 46.0L-127.6 45.2L-125.4 42.0L-124.4 38.0L-123.0 34.1L-120.0 31.0L-119.2 29.1L-120.8 26.3L-123.7 27.2L-125.5 30.4L-128.7 33.3L-129.0 37.0L-131.0 40.1L-132.6 44.4L-132.5 40.5L-135.2 40.3L-137.0 42.2L-139.6 41.4L-141.5 39.8L-138.4 39.7L-134.9 37.9L-133.9 34.6L-132.6 30.6L-131.4 28.4L-129.8 25.2L-127.6 23.6L-125.9 22.7L-124.9 19.3L-127.1 16.7L-129.6 14.8L-129.0 11.3L-128.8 9.0L-130.5 7.1L-132.7 7.4L-133.9 7.5L-135.6 5.2L-137.6 1.9L-141.5 -0.5L-144.0 -0.3L-147.6 -1.8L-150.1 -5.0L-150.7 -5.8L-150.4 -11.6L-152.2 -14.4ZM-162.9 -25.8L-159.8 -21.3L-158.7 -18.9L-155.5 -17.2L-153.0 -15.8L-152.8 -14.2L-154.6 -13.5L-155.4 -10.9L-155.3 -8.1L-156.1 -5.4L-154.1 -2.7L-152.5 1.3L-151.1 5.3L-150.3 7.9L-150.0 13.1L-148.8 18.3L-148.2 22.2L-146.7 25.3L-147.8 26.9L-147.1 28.6L-149.3 27.9L-152.2 28.5L-153.6 29.9L-157.4 27.8L-159.2 30.9L-159.4 36.8L-159.8 43.4L-166.8 47.8L-170.2 48.8L-173.3 36.3L-175.5 23.6L-176.7 10.8L-177.1 -2.1L-176.4 -14.9L-174.9 -27.7ZM-108.9 -10.9L-108.2 -8.5L-108.3 -6.6L-107.2 -5.6L-107.6 -2.8L-107.3 0.6L-105.8 2.6L-105.0 1.5L-101.7 3.0L-100.6 0.5L-98.8 0.2L-95.9 -2.0L-93.3 -2.6L-91.8 -3.2L-91.8 -4.8L-90.4 -3.9L-87.6 -3.1L-87.3 -2.7L-87.1 -6.1L-84.4 -4.6L-84.2 -7.4L-87.2 -8.4L-89.7 -9.4L-92.9 -8.9L-94.4 -8.3L-95.3 -8.0L-94.9 -5.6L-96.3 -5.9L-98.1 -5.1L-99.6 -5.2L-99.4 -7.8L-100.9 -7.9L-102.4 -7.3L-103.4 -9.4L-104.4 -7.7L-105.1 -5.5L-105.6 -7.8L-107.5 -9.4ZM-102.3 -11.5L-99.2 -10.4L-95.8 -9.2L-93.7 -9.8L-93.2 -11.9L-94.3 -14.1L-95.7 -14.3L-95.6 -16.9L-97.9 -17.3L-99.1 -15.7L-101.4 -17.5L-102.4 -18.4L-103.5 -17.3L-103.1 -14.5L-102.4 -12.6ZM-27.2 5.0L-25.5 6.4L-25.4 7.8L-27.4 9.4L-28.2 11.1L-29.9 10.3L-33.8 10.3L-31.9 8.0L-30.2 7.3L-28.9 5.6ZM-25.0 8.1L-23.5 8.5L-23.3 10.4L-23.4 11.9L-25.8 11.2L-26.0 9.4ZM-28.9 11.4L-29.5 12.8L-31.0 12.5ZM-17.5 17.5L-15.7 18.1L-15.7 19.4L-17.2 19.2ZM-14.1 19.4L-11.8 18.9L-11.1 20.9L-12.6 21.9L-14.3 21.1ZM-31.3 39.4L-30.6 41.3L-27.6 43.3L-27.0 39.2L-24.7 36.6L-21.7 34.7L-18.5 33.4L-15.0 32.2L-12.3 32.0L-13.7 31.4L-17.0 31.9L-20.0 32.0L-22.4 32.6L-25.6 35.3L-29.3 37.5L-30.5 38.3ZM2.5 28.8L3.1 25.6L4.6 25.9L5.3 28.5L4.1 29.2ZM5.3 30.3L6.5 28.2L8.1 29.2L7.5 31.2ZM1.3 24.9L2.0 23.0L3.2 24.2ZM28.4 26.4L28.1 23.6L30.1 22.3L31.8 22.2L31.4 25.0L30.0 26.6ZM33.6 28.2L34.8 25.8L35.2 27.5ZM32.1 21.7L34.0 19.2L34.2 21.0ZM50.3 1.3L49.0 0.0L49.7 -2.2L50.8 -0.9ZM-29.6 -54.5L-26.2 -53.7L-21.8 -51.3L-19.1 -48.6L-15.5 -46.4L-12.5 -45.1L-9.8 -44.4L-7.1 -42.5L-3.8 -42.9L-0.4 -43.6L-0.0 -49.0L-1.8 -51.6L-4.6 -52.8L-9.2 -52.2L-11.3 -53.2L-14.4 -55.8L-17.1 -55.9L-18.3 -59.8L-18.0 -62.7L-14.2 -64.3L-13.6 -66.7L-16.7 -66.8L-20.0 -65.3L-23.5 -68.2L-27.0 -68.4L-30.6 -68.7L-30.7 -65.9L-27.1 -65.4L-30.7 -64.4L-29.3 -61.4L-26.6 -61.1L-24.5 -59.0L-27.2 -58.4L-30.3 -59.4L-30.0 -56.4ZM-9.7 -17.8L-7.8 -16.7L-6.2 -17.0L-4.4 -17.8L-2.7 -19.5L-1.1 -21.0L-0.0 -22.9L-1.3 -24.9L-2.4 -27.5L-1.3 -30.2L-1.1 -32.9L-1.2 -35.6L-5.7 -35.9L-7.1 -34.9L-6.8 -32.2L-7.7 -29.8L-7.7 -27.9L-9.0 -26.1L-9.2 -24.1L-9.8 -22.1L-9.9 -19.1ZM-1.1 -25.0L1.2 -23.1L2.7 -26.2L1.6 -30.2L-0.8 -30.3L-1.0 -27.6ZM-6.6 -37.7L-6.7 -40.1L-3.6 -40.8L-0.0 -40.6L1.4 -39.6L1.6 -36.1L-0.3 -35.6L-0.7 -38.0L-4.6 -37.2ZM10.4 -53.4L14.6 -54.3L19.4 -53.4L22.4 -50.4L24.2 -47.5L22.9 -43.9L23.6 -42.6L20.9 -40.1L17.9 -40.3L15.4 -42.2L11.9 -41.6L12.3 -47.4L9.2 -45.3L9.3 -50.3ZM27.1 -41.7L27.9 -38.6L24.2 -35.3L21.4 -34.9L19.3 -37.0L19.0 -39.8L22.7 -40.9L24.5 -42.4ZM10.9 -38.0L9.9 -35.6L11.4 -33.1L14.5 -32.5L17.0 -32.7L17.1 -35.1L14.6 -37.9ZM6.0 -48.6L5.3 -43.3L7.3 -41.6L9.7 -43.9L8.8 -47.3ZM0.4 -45.7L0.4 -42.5L3.7 -42.1L4.4 -46.1L2.9 -47.5ZM5.1 -38.7L5.0 -35.2L7.5 -35.3L7.4 -38.3ZM-11.6 -69.3L-10.4 -65.8L-6.2 -64.1L-3.5 -67.1L-5.6 -71.4L-8.5 -69.4ZM5.4 -56.3L6.1 -53.7L9.1 -54.4L7.9 -56.2ZM-59.5 -100.3L-59.5 -97.1L-58.8 -92.3L-58.5 -86.8L-61.1 -88.9L-61.2 -90.7L-65.2 -89.7L-67.7 -91.5L-70.8 -93.0L-71.0 -95.9L-67.1 -97.6L-65.2 -96.7ZM62.9 -95.3L65.4 -91.7L66.5 -84.2L65.0 -84.7L63.1 -89.4L62.2 -92.9ZM80.4 -38.3L76.5 -39.8L77.6 -41.3L80.2 -40.0ZM70.3 -10.5L70.3 -13.7L69.2 -12.2ZM76.3 59.6L80.3 60.5L85.3 63.6L89.8 67.6L94.3 71.6L96.3 71.5L95.7 74.8L90.9 71.0L84.8 66.7L81.2 64.2L77.9 61.3ZM103.7 87.0L100.6 83.5L101.6 80.8L96.9 76.2L100.7 75.9L104.9 72.6L106.9 73.5L107.2 80.2L102.8 83.2L104.7 84.8ZM120.0 101.0L119.6 97.2L117.1 96.2L115.2 93.3L114.0 90.7L111.7 87.3L108.5 86.3L106.1 84.7L105.2 87.3L106.2 89.1L108.6 91.1L110.3 94.2L111.5 98.7L108.9 100.5L109.1 102.8L110.2 106.4L110.4 108.5L106.6 112.3L105.0 114.6L104.2 119.9L107.1 123.2L113.8 126.4L126.4 113.8L123.2 107.1ZM-143.1 31.7L-140.6 39.3L-145.6 39.3L-144.4 32.0ZM-135.6 19.5L-135.0 23.1L-140.7 23.8L-141.8 20.9ZM-130.8 19.8L-128.9 21.6L-133.6 22.3L-134.1 20.8ZM-132.3 83.6L-130.4 84.7L-126.9 87.5L-129.7 87.5L-132.4 86.0ZM-142.0 61.7L-139.7 69.0L-142.1 66.3L-142.9 62.1ZM15.1 -31.6L15.1 -30.2L16.1 -29.0L17.6 -28.8L18.8 -29.6L19.0 -31.0L17.9 -32.3L16.2 -32.5ZM11.1 -30.1L11.1 -29.3L11.6 -28.7L12.4 -28.7L13.0 -29.4L13.0 -30.3L12.5 -30.9L11.7 -30.8ZM9.9 -28.6L9.9 -27.9L10.5 -27.4L11.3 -27.4L11.8 -27.9L11.8 -28.6L11.2 -29.1L10.4 -29.1ZM4.8 -29.6L5.0 -28.4L5.9 -27.8L7.0 -28.0L7.7 -29.0L7.5 -30.2L6.6 -30.9L5.4 -30.7ZM3.0 -30.7L3.1 -29.9L3.5 -29.5L4.0 -29.8L4.3 -30.5L4.2 -31.3L3.8 -31.6L3.3 -31.4ZM2.5 -39.2L2.7 -38.4L3.3 -38.0L4.0 -38.2L4.4 -39.1L4.2 -39.9L3.5 -40.4L2.8 -40.1ZM-10.5 -43.1L-9.8 -42.4L-8.6 -42.3L-7.5 -42.9L-7.2 -43.8L-7.8 -44.6L-9.1 -44.7L-10.2 -44.1ZM-15.2 -57.0L-14.6 -56.1L-13.7 -56.0L-13.1 -56.5L-13.0 -57.5L-13.5 -58.4L-14.4 -58.6L-15.1 -58.0ZM-10.8 -72.5L-10.4 -71.8L-9.4 -71.7L-8.6 -72.1L-8.3 -72.8L-8.7 -73.4L-9.7 -73.6L-10.6 -73.2ZM-14.0 -73.6L-13.7 -73.1L-13.1 -72.9L-12.6 -73.3L-12.5 -73.9L-12.8 -74.4L-13.4 -74.6L-13.9 -74.2ZM-16.9 -99.1L-16.4 -98.8L-15.3 -98.8L-14.2 -99.2L-13.8 -99.6L-14.3 -100.0L-15.5 -100.0L-16.6 -99.6ZM-52.7 -97.6L-51.7 -97.4L-49.9 -98.0L-48.4 -99.1L-47.9 -100.0L-48.9 -100.2L-50.8 -99.6L-52.3 -98.5ZM-56.3 -106.3L-55.4 -106.0L-53.8 -106.5L-52.5 -107.5L-52.1 -108.3L-53.0 -108.6L-54.6 -108.1L-56.0 -107.1ZM-33.0 -42.1L-32.2 -41.7L-31.1 -42.1L-30.5 -43.0L-30.6 -43.9L-31.5 -44.4L-32.6 -44.0L-33.2 -43.1ZM17.2 -33.3L17.1 -32.7L17.5 -32.2L18.1 -32.1L18.6 -32.5L18.6 -33.1L18.2 -33.6L17.6 -33.7ZM9.0 -37.4L9.0 -36.8L9.4 -36.5L10.0 -36.6L10.3 -37.1L10.2 -37.7L9.8 -38.1L9.3 -37.9ZM8.1 -32.2L8.1 -31.6L8.5 -31.2L9.1 -31.3L9.4 -31.8L9.4 -32.4L9.0 -32.8L8.4 -32.7ZM6.2 -31.8L6.3 -31.3L6.6 -31.0L7.0 -31.1L7.3 -31.6L7.2 -32.1L6.9 -32.3L6.4 -32.2ZM-0.5 -33.2L-0.2 -32.6L0.3 -32.4L0.8 -32.6L1.0 -33.2L0.8 -33.7L0.3 -34.0L-0.2 -33.7ZM2.0 -32.6L2.1 -32.0L2.5 -31.8L2.9 -32.0L3.1 -32.5L3.0 -33.1L2.6 -33.3L2.2 -33.1ZM10.8 -42.5L10.9 -41.8L11.5 -41.4L12.2 -41.4L12.6 -42.0L12.5 -42.7L12.0 -43.2L11.3 -43.1ZM-16.3 -57.0L-16.0 -56.4L-15.6 -56.3L-15.3 -56.6L-15.3 -57.2L-15.6 -57.7L-16.1 -57.9L-16.3 -57.6ZM-32.9 -68.9L-32.5 -68.5L-32.0 -68.6L-31.6 -68.9L-31.7 -69.5L-32.0 -69.8L-32.6 -69.8L-32.9 -69.4ZM-17.7 -89.6L-17.2 -88.7L-16.4 -88.4L-15.7 -88.9L-15.5 -90.0L-16.0 -90.9L-16.9 -91.2L-17.6 -90.6ZM3.6 -26.1L3.7 -25.6L4.0 -25.3L4.4 -25.5L4.7 -25.9L4.6 -26.4L4.2 -26.6L3.8 -26.5ZM-0.4 -35.0L-0.3 -34.7L-0.0 -34.5L0.3 -34.7L0.4 -35.0L0.3 -35.4L-0.0 -35.6L-0.3 -35.4ZM5.6 -42.1L5.8 -41.7L6.2 -41.5L6.7 -41.6L6.9 -41.9L6.8 -42.3L6.4 -42.6L5.9 -42.5ZM-2.5 -54.0L-2.3 -53.7L-1.9 -53.5L-1.5 -53.7L-1.3 -54.1L-1.5 -54.4L-1.9 -54.6L-2.3 -54.4ZM65.8 -74.9L64.9 -73.2L65.2 -71.9L66.5 -71.8L68.1 -72.8L69.1 -74.5L68.7 -75.8L67.4 -76.0ZM61.2 -64.7L59.8 -62.7L59.8 -61.3L61.2 -61.3L63.2 -62.7L64.6 -64.7L64.6 -66.2L63.2 -66.2ZM77.7 -20.2L77.2 -19.7L77.2 -18.8L77.6 -18.0L78.3 -17.8L78.8 -18.3L78.8 -19.2L78.3 -20.0ZM91.8 -27.0L91.4 -26.4L91.5 -25.4L92.0 -24.4L92.6 -24.1L92.9 -24.7L92.9 -25.8L92.4 -26.7ZM95.6 -23.8L95.2 -23.4L95.2 -22.5L95.6 -21.7L96.2 -21.5L96.6 -22.0L96.6 -22.8L96.2 -23.6ZM97.4 -21.2L97.1 -20.9L97.1 -20.1L97.4 -19.4L97.8 -19.2L98.2 -19.6L98.2 -20.3L97.9 -21.0ZM105.6 70.5L105.2 70.4L104.8 70.7L104.6 71.1L104.9 71.6L105.4 71.6L105.8 71.4L105.9 70.9ZM106.0 65.3L105.5 65.4L105.0 65.8L104.7 66.5L105.0 67.0L105.5 67.0L106.0 66.5L106.2 65.8ZM105.5 60.2L105.1 60.2L104.8 60.5L104.7 61.0L104.9 61.3L105.2 61.3L105.6 61.0L105.7 60.5ZM-133.3 -62.6L-132.9 -62.7L-132.5 -63.2L-132.3 -63.8L-132.5 -64.2L-133.0 -64.1L-133.4 -63.6L-133.5 -63.0ZM-128.1 -68.0L-127.7 -68.0L-127.2 -68.5L-127.1 -69.1L-127.2 -69.5L-127.7 -69.5L-128.1 -69.0L-128.3 -68.3ZM-74.5 -8.5L-73.9 -8.6L-73.6 -9.0L-73.7 -9.5L-74.3 -9.8L-74.9 -9.7L-75.2 -9.2L-75.0 -8.7ZM-79.7 -1.4L-78.9 -1.5L-78.6 -1.8L-78.9 -2.1L-79.7 -2.2L-80.5 -2.1L-80.8 -1.8L-80.5 -1.5ZM-83.3 -3.9L-83.0 -4.0L-82.8 -4.3L-82.9 -4.7L-83.2 -4.8L-83.5 -4.7L-83.7 -4.4L-83.6 -4.1ZM-86.2 -10.0L-85.0 -10.1L-84.4 -10.4L-84.9 -10.8L-86.1 -11.1L-87.3 -11.1L-87.8 -10.8L-87.4 -10.3ZM-141.2 8.5L-140.6 8.2L-140.5 7.4L-140.7 6.6L-141.3 6.3L-141.9 6.6L-142.1 7.4L-141.8 8.2ZM-82.9 28.3L-82.1 27.9L-81.9 27.4L-82.3 27.2L-83.3 27.3L-84.1 27.7L-84.3 28.2L-83.8 28.5ZM-86.0 26.1L-85.1 25.7L-84.7 25.4L-85.2 25.4L-86.2 25.6L-87.1 26.0L-87.5 26.2L-87.0 26.3ZM-78.2 33.5L-77.8 33.0L-77.9 32.3L-78.4 31.7L-79.0 31.6L-79.3 32.1L-79.2 32.8L-78.8 33.4ZM-77.0 32.7L-76.8 32.4L-76.8 32.0L-77.1 31.6L-77.4 31.6L-77.7 31.9L-77.6 32.3L-77.3 32.6ZM-91.1 20.1L-90.4 19.7L-90.2 19.0L-90.7 18.5L-91.5 18.4L-92.3 18.8L-92.5 19.5L-92.0 20.0ZM-92.3 17.6L-91.8 17.3L-91.7 16.8L-92.0 16.4L-92.5 16.3L-93.0 16.6L-93.1 17.1L-92.8 17.5ZM-93.3 19.5L-93.2 19.3L-93.2 18.8L-93.4 18.3L-93.6 18.2L-93.8 18.4L-93.8 18.9L-93.6 19.4ZM-91.2 24.6L-91.1 24.5L-91.0 24.2L-91.2 24.0L-91.4 24.0L-91.6 24.1L-91.6 24.4L-91.4 24.6ZM-49.8 -6.8L-49.6 -7.0L-49.4 -7.4L-49.5 -7.8L-49.7 -8.0L-49.9 -7.9L-50.1 -7.5L-50.0 -7.0ZM-38.8 13.7L-38.7 13.5L-38.7 13.3L-38.8 13.2L-39.0 13.1L-39.2 13.3L-39.2 13.5L-39.0 13.7ZM-35.7 42.4L-35.4 41.7L-35.7 41.0L-36.3 40.9L-37.0 41.3L-37.3 42.0L-37.1 42.7L-36.4 42.8ZM-26.3 46.0L-26.1 45.4L-26.4 44.9L-27.0 44.8L-27.5 45.3L-27.7 46.0L-27.4 46.5L-26.8 46.5ZM-14.1 41.8L-14.1 41.3L-14.5 41.0L-15.0 41.0L-15.4 41.4L-15.4 41.9L-15.0 42.2L-14.4 42.2ZM80.8 22.9L79.8 22.8L79.4 23.1L79.6 23.6L80.4 24.0L81.3 24.1L81.8 23.8L81.6 23.3ZM70.7 63.2L70.1 63.0L69.6 63.3L69.3 63.9L69.5 64.4L70.1 64.6L70.6 64.3L70.9 63.7ZM-15.4 20.6L-15.4 20.3L-15.6 20.0L-16.0 19.9L-16.3 20.0L-16.3 20.3L-16.1 20.6L-15.7 20.8ZM-12.7 21.2L-12.8 20.9L-13.1 20.6L-13.5 20.4L-13.8 20.5L-13.8 20.8L-13.4 21.1L-13.0 21.3ZM-10.3 21.9L-10.3 21.7L-10.5 21.5L-10.7 21.5L-10.9 21.6L-10.9 21.8L-10.7 22.0L-10.5 22.0ZM-21.8 14.2L-21.7 14.1L-21.8 13.9L-21.9 13.7L-22.1 13.8L-22.2 13.9L-22.1 14.1L-22.0 14.2ZM-25.6 14.1L-25.5 13.9L-25.6 13.6L-25.8 13.4L-26.0 13.4L-26.1 13.5L-26.0 13.8L-25.8 14.1ZM-4.2 23.8L-4.2 23.7L-4.4 23.6L-4.5 23.6L-4.6 23.7L-4.6 23.9L-4.4 24.0L-4.3 24.0ZM-6.1 26.9L-6.1 26.8L-6.2 26.8L-6.3 26.8L-6.4 26.9L-6.3 27.0L-6.2 27.1L-6.1 27.0ZM31.7 18.3L31.4 18.3L31.1 18.7L30.9 19.1L31.1 19.4L31.4 19.4L31.8 19.1L31.9 18.6ZM33.2 26.1L32.9 26.1L32.5 26.3L32.3 26.7L32.5 27.0L32.8 27.1L33.1 26.8L33.3 26.4ZM52.6 10.2L52.2 10.3L51.9 10.6L52.0 10.9L52.4 11.1L52.8 11.1L53.0 10.8L52.9 10.4ZM-134.4 72.1L-134.0 71.7L-133.9 71.2L-134.3 71.0L-134.9 71.1L-135.3 71.5L-135.4 72.0L-135.0 72.2ZM-127.7 63.7L-127.6 63.4L-127.7 62.8L-128.1 62.4L-128.4 62.3L-128.5 62.7L-128.4 63.2L-128.1 63.6ZM-131.9 59.5L-131.8 59.1L-132.0 58.2L-132.5 57.5L-132.9 57.2L-133.0 57.7L-132.7 58.5L-132.3 59.3ZM-133.0 48.2L-132.5 47.9L-132.3 47.6L-132.6 47.5L-133.2 47.6L-133.7 47.9L-133.8 48.2L-133.6 48.3ZM-129.2 23.8L-129.0 23.6L-129.0 23.4L-129.1 23.3L-129.3 23.2L-129.4 23.3L-129.4 23.5L-129.3 23.7ZM-143.3 3.9L-143.1 3.8L-143.0 3.5L-143.1 3.2L-143.3 3.1L-143.6 3.2L-143.7 3.5L-143.6 3.8ZM97.1 129.5L96.7 129.5L96.0 129.8L95.5 130.3L95.5 130.7L95.9 130.8L96.5 130.4L97.0 129.9ZM100.6 122.5L100.2 122.1L99.9 122.0L99.9 122.3L100.2 122.8L100.6 123.2L100.9 123.3L100.9 123.0ZM109.9 97.1L109.5 96.8L109.2 96.9L109.1 97.2L109.4 97.6L109.8 97.8L110.1 97.8L110.2 97.4ZM96.7 77.5L96.5 77.4L96.4 77.5L96.3 77.6L96.4 77.8L96.6 77.9L96.8 77.8L96.8 77.6ZM75.8 -39.3L75.5 -38.9L75.5 -38.5L75.9 -38.2L76.3 -38.2L76.6 -38.6L76.5 -39.0L76.2 -39.3ZM-42.5 -130.7L-41.9 -130.7L-40.6 -131.0L-39.3 -131.5L-38.8 -131.9L-39.4 -131.9L-40.7 -131.6L-42.0 -131.1ZM-46.6 -127.8L-46.5 -127.7L-46.3 -127.8L-46.0 -127.9L-46.0 -128.0L-46.1 -128.1L-46.4 -128.1L-46.6 -127.9ZM-17.6 -120.8L-17.2 -120.6L-16.3 -120.6L-15.4 -120.8L-15.1 -121.1L-15.5 -121.3L-16.4 -121.3L-17.3 -121.1ZM-96.8 -7.4L-96.5 -7.5L-96.4 -7.6L-96.5 -7.7L-96.8 -7.8L-97.1 -7.8L-97.2 -7.7L-97.1 -7.5Z"/>
<path id="waterp" d="M-119.3 66.1L-116.3 71.2L-112.2 72.9L-109.6 76.8L-109.4 80.9L-108.0 84.3L-104.9 88.1L-101.0 89.7L-99.1 87.6L-98.9 83.0L-99.3 77.6L-99.4 74.9L-99.2 73.7L-95.1 73.0L-91.3 74.5L-93.5 73.1L-96.8 70.3L-99.2 69.5L-100.6 71.8L-102.5 71.8L-105.1 70.1L-104.0 66.2L-101.3 67.0L-101.7 63.6L-103.1 61.2L-107.4 61.2L-111.9 61.3L-115.5 61.2L-117.6 62.0L-118.7 63.1ZM-88.3 96.4L-86.4 91.7L-82.9 90.4L-78.7 90.5L-74.5 92.0L-71.6 95.1L-74.4 98.7L-77.5 96.7L-79.3 98.0L-80.9 97.5L-81.0 101.8L-80.5 104.9L-82.4 107.4L-80.9 110.5L-84.4 111.9L-84.9 115.6L-87.5 120.5L-90.6 120.2L-94.9 117.2L-96.3 112.7L-95.5 109.5L-92.9 108.0L-90.4 105.9L-88.8 102.2L-88.9 98.8ZM-67.5 110.1L-65.4 105.9L-61.2 103.9L-57.2 105.4L-60.4 108.9L-63.3 111.9ZM25.0 101.7L27.3 98.3L29.8 94.5L31.2 88.0L31.3 87.0L31.3 91.0L30.4 96.5L27.8 100.3ZM4.2 -119.2L-1.0 -115.4L-3.4 -112.9L-7.9 -113.0L-10.5 -115.5L-11.3 -119.4L-7.3 -119.7L-5.2 -118.9L-3.1 -117.8L1.0 -119.3ZM-5.2 -134.7L-4.7 -129.1L-6.4 -122.5L-10.6 -121.0L-9.8 -124.7L-8.3 -128.9L-8.2 -133.6L-7.1 -134.9ZM-11.2 -121.2L-13.7 -120.4L-18.0 -120.1L-21.5 -121.7L-21.9 -124.1L-18.5 -123.8L-18.7 -128.4L-17.3 -129.6L-16.5 -127.1L-13.9 -127.8L-14.5 -123.7ZM-15.5 -133.9L-18.4 -130.7L-25.0 -128.6L-24.6 -130.0L-20.0 -133.9ZM-23.0 -127.7L-26.6 -125.1L-30.1 -123.7L-30.6 -125.5L-27.0 -126.9Z"/>
<path id="bwaterp" d="M-34.5 116.4L-30.8 115.0L-25.9 116.8L-22.8 117.4L-27.1 117.4L-31.6 117.9L-34.3 119.7ZM-69.4 40.9L-66.3 39.5L-65.1 41.5L-67.0 43.2ZM-64.1 44.0L-60.7 42.5L-61.6 45.1ZM12.8 -107.2L15.6 -100.8L13.7 -97.3L12.6 -102.7ZM30.9 -78.4L26.7 -77.5L22.7 -79.3L27.1 -78.8ZM35.3 -69.3L31.4 -67.4L27.2 -67.4L24.3 -68.6L27.5 -69.7L31.6 -71.0ZM38.2 -54.6L34.4 -52.9L30.1 -53.2L29.4 -55.8L33.1 -56.2L35.1 -57.3ZM17.3 -103.5L18.4 -99.5L17.4 -98.5L16.6 -101.3ZM19.6 -88.3L18.0 -84.9L17.2 -84.5L18.3 -87.7ZM-2.3 -111.2L-2.7 -108.8L-3.8 -109.3L-3.5 -110.8ZM-82.8 18.2L-80.6 18.9L-81.2 20.2L-82.8 19.4ZM-31.4 128.8L-28.5 128.5L-26.8 129.5L-29.5 129.9ZM-20.1 -60.1L-21.1 -58.0L-22.1 -59.1L-21.1 -60.6ZM6.8 40.9L8.3 39.2L10.2 39.3L8.6 40.5ZM-76.7 39.4L-74.1 38.2L-74.2 39.3L-76.2 40.2Z"/>
<g id="coast"><use href="#landp" fill="none" stroke="#000" stroke-width="2.2" stroke-linejoin="round"/><use href="#waterp" fill="#fff" stroke="#000" stroke-width="2.0" stroke-linejoin="round"/><use href="#bwaterp" fill="#000" stroke="#000" stroke-width="1.6" stroke-linejoin="round"/></g>
<g id="grat" fill="none" stroke="#222" stroke-width="1.05" stroke-dasharray="2.0 2.45"><circle r="39.6"/><circle r="80.5"/><circle r="124.5"/><path d="M-156.3 0H156.3M0 -156.3V156.3"/></g>
<pattern id="xha" width="13.1" height="13.1" patternUnits="userSpaceOnUse" patternTransform="translate(3.4,2.6)"><path d="M0 0L13.1 13.1M0 13.1L13.1 0" stroke="#0a0a14" stroke-width="1.3" fill="none" stroke-linecap="square"/></pattern><pattern id="xh" width="13.1" height="13.1" patternUnits="userSpaceOnUse" patternTransform="translate(3.4,2.6)"><path d="M0 0L13.1 13.1M0 13.1L13.1 0" stroke="#0c0c0c" stroke-width="0.92" fill="none" stroke-linecap="square"/></pattern><clipPath id="greyzone"><path clip-rule="evenodd" d="M-170 -170H170V170H-170ZM-80.5 0A80.5 80.5 0 1 0 80.5 0A80.5 80.5 0 1 0 -80.5 0ZM9.9 -80.5L5.7 -80.9L1.4 -81.1L-2.8 -81.1L-7.1 -80.8L-11.3 -80.3L-15.5 -79.6L-19.6 -78.7L-30.2 -105.2L-24.6 -106.6L-19.0 -107.7L-13.3 -108.6L-7.6 -109.1L-1.9 -109.4L3.8 -109.3L9.5 -109.0ZM72.9 35.6L74.7 31.7L76.2 27.7L77.6 23.7L78.7 19.6L106.2 26.5L104.6 32.0L102.8 37.4L100.7 42.7L98.3 48.0Z"/><path d="M-55.4 -25.8L-57.1 -21.9L-58.5 -17.9L-59.6 -13.8L-60.4 -9.6L-60.9 -5.3L-61.1 -1.1L-61.1 3.2L-60.7 7.5L-60.0 11.7L-59.1 15.8L-57.8 19.9L-56.3 23.9L-54.5 27.8L-52.4 31.5L-81.2 48.8L-84.4 43.0L-87.2 37.0L-89.6 30.9L-91.5 24.5L-93.0 18.1L-94.1 11.6L-94.6 5.0L-94.8 -1.7L-94.4 -8.3L-93.6 -14.8L-92.3 -21.3L-90.6 -27.7L-88.5 -34.0L-85.9 -40.1ZM-47.5 3.3L-47.1 6.6L-46.6 9.9L-45.8 13.1L-44.7 16.3L-43.5 19.4L-42.0 22.4L-40.4 25.2L-53.0 33.1L-55.2 29.4L-57.1 25.4L-58.8 21.4L-60.1 17.2L-61.2 13.0L-61.9 8.7L-62.4 4.4Z"/></clipPath><g id="grey0"><g clip-path="url(#land)"><path d="M-101.6 -19.7L-102.5 -14.2L-103.1 -8.6L-103.5 -2.9L-103.5 2.7L-103.2 8.3L-102.6 14.0L-101.6 19.5L-100.4 25.0L-148.6 37.1L-150.4 28.9L-151.8 20.7L-152.7 12.4L-153.1 4.0L-153.1 -4.3L-152.6 -12.7L-151.7 -21.0L-150.3 -29.2ZM-78.8 -16.7L-79.6 -12.6L-80.1 -8.4L-80.4 -4.2L-80.5 0.0L-80.4 4.2L-112.2 5.9L-112.4 0.0L-112.2 -5.9L-111.8 -11.7L-111.0 -17.6L-109.9 -23.4ZM74.8 95.7L79.7 91.7L84.4 87.4L88.8 82.8L93.0 78.1L97.0 73.1L100.7 67.9L143.9 97.0L138.6 104.4L132.9 111.6L126.9 118.4L120.6 124.8L113.9 131.0L106.8 136.8ZM-120.3 58.7L-114.7 68.9L-122.9 73.8L-128.9 62.9ZM-105.5 82.4L-101.0 87.8L-96.3 93.0L-103.1 99.6L-108.2 94.1L-113.0 88.3ZM-64.5 99.3L-55.6 104.5L-62.8 118.2L-72.9 112.2Z" fill="#ebebeb" filter="url(#gb)"/></g></g><filter id="gb" x="-10%" y="-10%" width="120%" height="120%"><feGaussianBlur stdDeviation="2.5"/></filter><g id="grey" opacity="0.9"><g clip-path="url(#greyzone)"><g clip-path="url(#land)"><use href="#landp" fill="none" stroke="#d0d0d0" stroke-width="7" stroke-linejoin="round"/><use href="#waterp" fill="none" stroke="#d0d0d0" stroke-width="8" stroke-linejoin="round"/></g></g></g>
</defs>
<g transform="translate(177.7,243.1) scale(1,1.0)"><g clip-path="url(#circ)"><g clip-path="url(#land)"><g fill-rule="evenodd"><path fill="#fff4d8" d="M-160.0 -160.0L39.1 -160.0L38.4 -157.0L39.9 -152.5L39.7 -151.0L31.7 -134.5L29.0 -130.9L26.0 -129.7L23.0 -130.6L20.7 -134.5L20.0 -140.6L18.5 -142.6L11.0 -144.5L6.5 -140.3L5.7 -137.5L8.2 -133.0L8.9 -130.0L6.9 -119.5L8.0 -117.7L11.0 -116.9L12.9 -118.0L17.0 -123.8L18.5 -124.8L21.5 -124.2L28.1 -116.5L30.7 -110.5L38.0 -102.0L45.4 -97.0L53.0 -95.6L60.5 -98.4L62.0 -98.6L68.0 -96.6L69.5 -97.4L72.3 -106.0L72.5 -111.2L74.0 -112.3L78.5 -110.7L80.0 -111.2L84.5 -122.3L86.0 -123.4L90.4 -124.0L89.0 -133.1L80.7 -137.5L81.2 -139.0L85.1 -143.5L86.1 -146.5L84.5 -149.6L79.8 -151.0L78.1 -152.5L77.1 -155.5L77.2 -160.0L128.7 -160.0L126.4 -155.5L126.8 -154.0L129.5 -152.8L131.0 -153.0L132.5 -154.8L132.1 -160.0L161.0 -160.0L161.0 161.0L-160.0 161.0L-160.0 49.5L-155.5 49.9L-153.3 48.5L-154.0 42.4L-151.0 41.6L-145.0 42.2L-144.5 41.0L-144.9 38.0L-146.5 36.1L-155.5 36.1L-160.0 35.3L-160.0 12.4L-155.5 8.9L-151.6 8.0L-150.2 5.0L-151.5 3.5L-154.0 2.8L-157.3 0.5L-160.0 -0.1L-160.0 -12.4L-157.4 -11.5L-156.0 -10.0L-154.0 -5.4L-150.4 -2.5L-146.5 4.3L-145.7 8.0L-148.4 14.0L-146.4 20.0L-145.0 22.0L-143.5 22.7L-142.0 21.5L-140.6 18.5L-140.0 11.0L-136.4 5.0L-137.0 2.0L-140.8 -1.0L-140.3 -4.0L-138.1 -5.5L-128.5 -6.1L-119.5 -9.9L-116.5 -9.9L-116.2 -8.5L-117.7 0.5L-116.8 6.5L-113.6 12.5L-113.5 20.4L-107.1 35.0L-102.7 42.5L-102.2 45.5L-104.1 51.5L-107.5 56.1L-109.0 57.7L-113.5 59.3L-114.4 60.5L-115.6 66.5L-113.5 67.2L-110.5 66.2L-109.0 65.0L-106.7 60.5L-105.0 59.0L-103.0 58.7L-101.5 59.5L-100.2 63.5L-100.2 68.0L-103.9 74.0L-103.7 75.5L-100.0 78.0L-94.0 83.7L-89.5 85.4L-84.9 86.0L-82.0 87.5L-82.5 98.0L-79.8 101.0L-77.5 102.0L-71.5 100.7L-63.7 101.0L-62.7 102.5L-62.7 104.0L-64.7 111.5L-64.1 113.0L-62.5 114.1L-59.5 114.1L-55.0 109.6L-52.0 108.2L-41.5 108.9L-39.1 110.0L-34.9 120.5L-34.7 131.0L-32.0 135.5L-32.0 137.0L-34.0 139.7L-35.5 139.9L-40.0 138.1L-43.0 138.3L-44.3 140.0L-44.1 141.5L-40.4 144.5L-37.0 148.9L-31.0 151.7L-29.5 151.3L-26.6 146.0L-23.5 144.7L-22.0 145.0L-21.0 146.0L-19.0 152.7L-17.5 152.3L-13.0 148.5L-7.0 146.0L-2.5 141.2L0.5 140.1L17.0 142.3L26.0 140.8L32.0 142.8L34.0 141.5L34.0 135.5L36.5 131.7L39.5 131.8L45.5 135.1L48.1 126.5L50.0 124.0L60.5 122.9L68.0 118.8L72.5 119.7L83.0 126.5L86.0 125.8L88.3 123.5L89.9 119.0L92.0 116.8L101.0 115.2L101.1 110.0L99.5 102.5L99.6 92.0L101.0 90.8L105.4 89.0L105.0 83.0L105.5 82.1L107.0 81.9L111.5 83.7L113.0 83.3L113.8 81.5L113.0 75.5L114.1 69.5L117.5 66.6L122.6 65.0L124.3 63.5L124.5 62.0L122.0 55.2L120.5 53.4L119.0 52.9L116.4 53.0L115.1 57.5L113.0 59.5L111.5 60.4L110.0 59.0L110.4 56.0L111.5 53.7L113.0 52.9L116.0 52.8L116.5 51.5L116.0 47.9L114.5 45.5L110.0 44.7L104.0 39.7L95.0 38.6L86.0 41.6L83.0 41.3L81.5 40.1L79.2 30.5L75.8 26.0L75.9 24.5L78.5 19.5L84.0 15.5L83.0 13.9L81.5 13.9L75.5 17.8L69.5 19.3L68.0 21.0L66.5 25.2L65.0 27.1L63.5 27.7L57.5 26.7L51.5 22.6L49.4 18.5L48.4 12.5L47.0 10.7L45.5 10.0L42.5 10.2L38.0 12.8L30.1 24.5L22.3 39.5L23.3 44.0L28.3 50.0L27.3 54.5L27.9 56.0L30.9 59.0L32.4 62.0L32.0 64.4L30.7 66.5L27.5 68.2L23.0 66.3L14.0 66.5L4.0 63.5L3.3 62.0L3.9 59.0L9.2 56.0L10.1 54.5L8.9 53.0L6.5 52.1L0.5 52.0L-5.5 54.3L-10.0 54.8L-19.0 53.9L-40.0 50.1L-47.5 44.3L-48.9 42.5L-48.6 39.5L-44.0 32.0L-45.3 21.5L-47.5 19.2L-52.1 18.5L-53.4 17.0L-54.5 12.5L-55.7 11.0L-62.5 11.1L-79.0 4.0L-85.0 3.0L-90.8 0.5L-95.5 -0.5L-98.8 -2.5L-101.8 -5.5L-103.0 -12.2L-112.0 -14.7L-118.0 -18.2L-125.5 -19.3L-131.5 -25.5L-134.5 -25.4L-139.0 -23.2L-139.7 -22.0L-138.8 -16.0L-139.2 -14.5L-143.4 -10.0L-145.0 -9.6L-148.0 -10.2L-152.1 -13.0L-154.1 -16.0L-152.8 -22.0L-153.1 -25.0L-155.5 -28.0L-160.0 -29.0L-160.0 -62.1L-158.8 -62.5L-158.3 -64.0L-160.0 -64.0ZM115.0 -154.0L113.8 -151.0L114.5 -149.9L116.0 -149.5L119.0 -151.4L120.0 -154.0L117.5 -155.4ZM138.1 -143.5L137.0 -143.2L134.6 -140.5L134.6 -137.5L137.0 -135.5L141.5 -133.9L144.5 -131.4L146.0 -131.6L146.0 -135.5L142.6 -137.5L140.0 -142.3ZM117.1 -134.5L117.1 -133.0L119.0 -131.8L120.0 -133.0L119.0 -134.9ZM83.0 -109.0L82.6 -107.5L84.5 -105.7L86.0 -105.5L87.8 -107.5L87.5 -109.3ZM-139.7 27.5L-139.0 29.2L-136.4 29.0L-136.5 27.5L-137.5 26.9ZM133.3 32.0L133.8 35.0L135.5 36.2L137.9 35.0L138.6 33.5L138.0 32.0L135.5 30.6L134.0 30.7ZM131.8 54.5L131.5 57.5L132.5 61.3L135.5 62.1L138.3 60.5L138.0 57.5L135.9 54.5L134.0 53.6L132.5 53.6ZM-29.5 152.5L-30.6 155.0L-29.5 156.2L-27.2 155.0ZM-20.8 155.0L-21.9 156.5L-20.5 159.0L-19.0 158.0L-19.0 154.3ZM59.0 60.4L60.5 61.2L61.0 62.0L60.5 62.7L59.0 62.9L57.9 62.0ZM83.0 67.1L87.5 66.6L89.0 68.0L89.4 69.5L89.0 73.0L87.5 73.6L81.5 71.3L80.6 69.5ZM89.0 77.7L90.5 77.9L95.5 81.5L97.1 83.0L97.5 84.5L96.5 87.5L93.5 91.3L89.0 93.5L87.5 93.3L86.6 92.0L86.1 83.0Z"/><path fill="#fee9aa" d="M-160.0 -160.0L-157.1 -160.0L-156.3 -157.0L-154.0 -155.7L-151.6 -157.0L-150.5 -160.0L36.4 -160.0L35.8 -155.5L37.1 -151.0L36.8 -149.5L30.5 -135.1L29.0 -132.9L27.5 -132.0L26.0 -132.0L23.6 -134.5L22.5 -137.5L22.3 -142.0L21.5 -143.3L15.2 -146.5L13.1 -151.0L11.0 -150.5L8.0 -147.7L3.3 -140.5L3.3 -137.5L5.7 -133.0L6.4 -130.0L5.5 -124.0L3.1 -118.0L4.1 -116.5L11.0 -114.3L14.0 -115.6L18.5 -120.8L20.0 -120.9L22.1 -119.5L25.9 -115.0L26.0 -113.2L22.5 -110.5L21.8 -109.0L22.9 -107.5L27.5 -107.8L30.5 -107.1L39.5 -98.8L45.5 -95.2L54.5 -93.6L62.0 -94.9L68.0 -92.8L71.0 -93.4L73.1 -95.5L73.8 -101.5L75.5 -103.9L78.5 -104.5L84.5 -101.7L87.5 -101.7L89.6 -103.0L95.2 -112.0L95.9 -115.0L94.9 -119.5L94.9 -124.0L92.0 -130.0L93.3 -136.0L92.0 -137.5L87.5 -137.7L85.9 -139.0L89.0 -145.3L90.5 -146.2L95.0 -145.1L99.5 -141.8L102.5 -141.3L108.5 -144.6L114.5 -144.0L117.5 -144.7L122.0 -150.8L123.5 -151.8L126.5 -151.4L131.8 -149.5L133.2 -148.0L133.5 -145.0L131.9 -139.0L133.3 -136.0L146.0 -127.4L147.5 -128.0L148.5 -130.0L149.3 -136.0L150.9 -140.5L149.5 -143.5L149.5 -145.0L152.0 -145.9L154.0 -145.0L155.5 -140.5L161.0 -137.3L161.0 4.0L159.9 5.0L159.5 6.5L161.0 8.2L161.0 42.3L156.6 44.0L156.6 45.5L161.0 48.3L161.0 117.3L159.5 119.1L158.6 123.5L159.2 126.5L161.0 128.9L161.0 161.0L-15.5 161.0L-11.5 151.8L-10.0 150.4L-4.8 149.0L-1.7 144.5L0.5 142.9L3.5 143.0L8.0 145.8L12.5 144.2L18.5 144.0L24.5 142.7L32.0 145.0L35.0 145.0L37.4 143.0L36.5 136.3L38.0 134.4L39.5 134.3L41.3 135.5L41.8 137.0L40.5 141.5L41.6 143.0L44.0 143.9L47.0 143.8L48.4 141.5L49.4 137.0L49.0 129.5L50.0 127.5L51.5 126.7L54.5 127.3L59.0 129.7L65.0 126.0L66.5 126.0L68.7 129.5L70.6 131.0L80.0 131.9L89.0 129.3L92.0 129.1L95.0 130.8L101.0 138.6L104.0 139.3L106.0 138.5L106.5 135.5L105.5 132.8L98.7 128.0L97.5 123.5L98.0 121.0L99.5 119.7L107.5 119.0L107.2 117.5L103.6 111.5L101.7 104.0L101.4 101.0L102.5 96.8L104.0 94.8L110.0 94.9L111.9 93.5L113.9 87.5L118.3 80.0L116.2 74.0L117.8 69.5L122.0 67.8L131.0 67.3L137.0 65.7L141.5 65.9L142.4 62.0L140.5 56.0L138.5 53.1L134.5 50.0L133.9 48.5L134.1 41.0L135.0 39.5L140.7 35.0L141.7 30.5L129.5 23.9L128.8 24.5L128.0 26.0L128.0 29.0L130.4 33.5L130.9 38.0L130.3 39.5L125.0 45.5L122.0 47.1L120.1 45.5L119.8 41.0L117.5 39.3L111.5 41.7L110.0 41.3L107.3 38.0L105.5 36.9L96.5 35.5L87.5 39.3L84.5 39.3L83.0 38.3L82.0 35.0L81.7 30.5L79.3 24.5L80.2 21.5L81.5 19.9L84.5 18.9L86.0 19.3L89.0 25.3L90.5 26.2L96.5 24.7L99.5 25.9L102.8 26.0L106.7 24.5L106.3 23.0L101.0 20.9L96.5 22.9L95.0 22.4L92.0 19.0L89.0 14.2L84.5 11.5L81.5 11.5L75.5 15.5L68.0 17.6L63.5 22.4L60.5 23.6L57.5 23.9L54.5 22.8L51.6 20.0L50.8 12.5L48.5 8.4L47.0 7.7L44.0 7.9L35.0 11.2L32.0 10.0L30.8 11.0L32.9 14.0L32.7 15.5L30.5 20.3L26.3 26.0L24.7 32.0L21.6 38.0L21.1 41.0L21.9 44.0L25.9 50.0L24.6 54.5L25.1 56.0L28.9 60.5L29.9 63.5L29.0 65.1L27.5 65.5L23.0 64.6L14.0 65.4L9.9 63.5L8.2 62.0L8.2 60.5L14.8 54.5L14.9 53.0L14.0 52.0L9.5 49.8L6.5 49.2L0.5 49.9L-8.5 53.3L-17.5 52.8L-26.5 50.8L-37.7 45.5L-46.0 42.6L-46.5 41.0L-46.0 39.5L-41.4 33.5L-40.1 30.5L-42.5 20.0L-44.8 15.5L-53.8 8.0L-56.5 7.6L-61.0 8.4L-64.0 8.1L-72.6 5.0L-77.5 1.3L-84.1 0.5L-89.5 -2.8L-94.0 -2.5L-95.5 -3.0L-98.3 -5.5L-98.9 -7.0L-96.8 -19.0L-98.5 -20.4L-101.5 -20.7L-102.8 -22.0L-104.5 -25.8L-106.0 -27.2L-109.0 -27.5L-112.2 -26.5L-114.7 -25.0L-116.5 -21.8L-121.0 -21.1L-124.0 -21.9L-126.1 -23.5L-130.0 -30.4L-131.5 -31.1L-134.3 -31.0L-137.5 -27.8L-145.1 -26.5L-146.3 -25.0L-146.1 -23.5L-143.1 -19.0L-142.2 -16.0L-143.5 -13.3L-145.0 -12.3L-148.0 -12.8L-149.9 -14.5L-151.0 -17.5L-148.5 -23.5L-148.9 -26.5L-150.2 -28.0L-154.0 -30.0L-160.0 -30.9L-160.0 -54.7L-156.7 -56.5L-154.3 -62.5L-153.7 -65.5L-154.0 -67.9L-155.5 -69.3L-160.0 -69.4L-160.0 -138.8L-158.6 -140.5L-158.3 -143.5L-158.5 -146.9L-160.0 -148.6ZM107.8 -139.0L106.5 -137.5L105.1 -130.0L105.5 -129.5L108.5 -128.4L114.5 -129.3L117.5 -128.5L121.2 -127.0L122.0 -126.0L122.8 -121.0L124.1 -119.5L128.0 -118.5L131.0 -119.8L132.1 -122.5L131.8 -124.0L129.5 -126.1L123.8 -128.5L123.4 -134.5L122.0 -137.3L120.5 -138.7L117.5 -139.7L113.0 -140.0ZM-71.5 -112.0L-70.0 -110.9L-68.7 -112.0L-70.0 -113.5ZM-138.9 -49.0L-142.6 -41.5L-142.5 -40.0L-141.2 -40.0L-137.5 -42.4L-133.0 -42.7L-130.0 -42.0L-127.5 -40.0L-126.6 -34.0L-125.5 -31.9L-124.0 -32.1L-122.1 -35.5L-121.6 -38.5L-122.9 -41.5L-122.5 -42.5L-121.0 -43.0L-118.0 -41.4L-116.5 -41.7L-115.7 -43.0L-116.5 -44.5L-124.0 -48.6L-128.5 -47.7L-136.0 -49.6ZM145.2 21.5L142.6 23.0L142.1 24.5L142.5 29.0L147.7 32.0L150.5 35.2L150.7 33.5L149.8 32.0L148.4 23.0L147.5 21.3ZM143.0 74.9L139.4 80.0L133.2 86.0L133.4 87.5L135.5 88.3L138.5 87.8L146.0 83.0L146.5 81.5L146.0 78.0L144.5 75.8ZM80.0 -160.0L81.5 -160.0L125.7 -160.0L123.5 -157.4L122.0 -157.3L117.5 -159.1L116.0 -158.5L108.5 -151.0L104.0 -149.9L99.5 -150.8L97.1 -155.5L90.5 -158.9L86.0 -154.3L83.0 -154.3L81.5 -155.0L80.1 -157.0ZM134.5 -160.0L137.0 -160.0L158.3 -160.0L156.5 -155.4L153.5 -152.0L143.0 -148.4L137.0 -149.7L135.1 -151.0ZM159.5 -147.0L161.0 -148.0L161.0 -144.2L158.9 -145.0ZM87.5 -119.9L89.7 -118.0L89.3 -115.0L87.5 -113.2L84.5 -113.3L84.5 -117.0L86.0 -119.5ZM-160.0 -10.3L-158.1 -8.5L-157.8 -7.0L-158.5 -5.2L-160.0 -4.2ZM-133.7 -2.5L-121.0 -6.1L-120.4 -5.5L-120.6 2.0L-118.9 8.0L-116.4 11.0L-115.0 13.9L-115.2 20.0L-110.5 30.5L-110.6 35.0L-110.1 36.5L-106.0 39.9L-103.7 44.0L-104.6 48.5L-109.7 54.5L-112.0 55.8L-117.1 56.0L-117.7 57.5L-118.6 68.0L-116.5 70.2L-112.0 71.5L-109.0 70.3L-104.5 63.7L-103.0 63.6L-102.2 66.5L-102.6 68.0L-107.4 72.5L-107.0 75.5L-104.5 78.2L-101.3 80.0L-97.0 83.8L-90.9 87.5L-90.0 89.0L-89.7 95.0L-83.9 101.0L-77.5 104.7L-70.0 103.8L-67.0 104.7L-66.2 107.0L-67.1 113.0L-65.5 115.9L-64.0 117.0L-61.0 118.0L-58.0 117.6L-53.9 111.5L-52.0 110.4L-41.5 110.8L-40.0 111.6L-35.8 122.0L-37.3 132.5L-38.5 134.6L-43.0 135.6L-45.4 137.0L-47.2 141.5L-46.5 143.0L-43.0 146.0L-41.4 150.5L-35.8 153.5L-32.5 159.2L-31.0 160.3L-27.2 161.0L-160.0 161.0L-160.0 51.9L-152.5 52.7L-145.0 55.2L-143.5 55.2L-140.5 53.4L-135.3 53.0L-133.7 51.5L-134.1 44.0L-134.9 42.5L-139.2 39.5L-140.2 36.5L-139.0 34.4L-133.0 30.8L-132.3 29.0L-133.0 25.7L-136.6 18.5L-137.4 12.5L-134.5 5.0L-134.7 -1.0ZM-65.1 123.5L-66.9 126.5L-66.9 129.5L-65.5 132.0L-64.0 132.8L-62.5 132.8L-61.3 129.5L-61.7 126.5L-64.0 123.1ZM-158.5 16.9L-157.4 18.5L-157.9 20.0L-160.0 21.5L-160.0 16.5ZM-155.5 22.6L-151.0 21.6L-148.0 24.1L-147.0 26.0L-146.8 29.0L-148.7 32.0L-154.0 33.6L-160.0 32.3L-160.0 25.1ZM90.5 82.7L92.2 83.0L93.6 84.5L93.3 86.0L92.0 87.4L90.5 87.7L89.2 84.5Z"/><path fill="#fed67c" d="M-148.6 -160.0L-141.5 -160.0L-140.5 -158.5L-136.0 -155.6L-133.0 -154.9L-131.9 -155.5L-131.2 -157.0L-131.7 -160.0L-97.1 -160.0L-95.5 -156.2L-94.0 -156.4L-93.8 -157.0L-94.7 -160.0L-32.4 -160.0L-31.0 -157.9L-28.0 -157.1L-25.0 -157.5L-22.8 -160.0L17.1 -160.0L17.0 -156.8L12.5 -155.1L4.9 -149.5L1.2 -142.0L1.3 -137.5L3.6 -131.5L3.0 -124.0L-1.0 -118.1L-1.3 -116.5L-1.0 -113.4L0.5 -109.8L5.0 -106.0L8.0 -104.8L12.5 -101.6L15.5 -100.7L17.0 -100.6L24.5 -104.6L27.5 -105.1L30.5 -104.5L42.5 -94.7L45.5 -93.2L53.8 -91.0L56.0 -89.6L58.6 -86.5L60.5 -85.7L77.0 -93.7L83.0 -94.4L87.5 -97.5L90.2 -97.0L91.0 -94.0L93.5 -94.2L94.1 -95.5L93.9 -98.5L95.6 -104.5L99.0 -112.0L97.8 -122.5L98.6 -124.0L101.0 -125.6L104.0 -126.4L114.5 -126.7L117.5 -125.5L118.9 -124.0L119.5 -119.5L120.5 -117.9L128.0 -115.6L131.0 -115.9L132.5 -117.0L134.2 -121.0L134.4 -124.0L133.0 -127.0L128.0 -129.6L126.7 -131.5L126.4 -137.5L123.2 -146.5L123.4 -148.0L125.0 -149.0L127.8 -148.0L128.7 -146.5L128.4 -140.5L129.0 -137.5L135.5 -131.4L140.7 -128.5L144.5 -123.2L146.0 -122.9L150.1 -127.0L150.9 -133.0L152.8 -136.0L155.0 -136.4L161.0 -133.4L161.0 -68.2L158.6 -67.0L161.0 -58.8L161.0 -14.0L157.0 -13.0L156.9 -11.5L161.0 -7.7L161.0 0.3L157.3 3.5L156.6 6.5L157.1 9.5L158.0 10.6L161.0 11.1L161.0 37.8L159.5 37.7L157.7 36.5L158.1 32.0L159.8 27.5L159.2 26.0L155.1 23.0L154.6 21.5L156.3 14.0L156.1 12.5L155.0 11.5L150.5 12.0L143.5 17.0L141.5 17.6L134.0 15.1L128.0 11.9L125.5 12.5L123.5 15.6L122.0 15.3L119.0 12.3L116.0 11.7L115.4 12.5L116.0 15.7L117.4 18.5L120.5 20.6L121.4 23.0L119.5 26.0L114.5 28.5L112.0 27.5L112.0 26.0L115.4 20.0L114.5 19.0L113.0 18.5L105.5 19.1L99.5 13.5L98.0 13.2L95.0 16.0L91.1 12.5L84.5 8.8L81.5 9.3L74.0 14.4L66.5 16.2L60.5 20.8L56.0 20.5L53.9 18.5L53.3 12.5L51.5 8.0L50.0 6.0L47.0 4.8L38.0 8.2L30.5 6.3L29.0 6.7L27.5 8.4L27.2 11.0L28.6 15.5L28.5 18.5L23.1 26.0L23.0 32.0L20.0 41.0L20.3 44.0L23.2 48.5L23.4 50.0L21.5 52.8L20.7 53.0L21.0 54.5L25.1 59.0L25.8 62.0L17.0 64.2L12.5 63.3L11.4 62.0L11.4 60.5L14.0 57.9L19.3 54.5L19.9 53.0L15.5 48.9L9.5 46.0L6.5 46.1L-10.0 52.2L-17.3 51.5L-24.0 50.0L-27.4 48.5L-30.5 45.5L-33.4 41.0L-38.5 40.6L-41.1 39.5L-41.4 38.0L-38.3 32.0L-37.8 29.0L-39.2 21.5L-38.6 17.0L-40.0 14.4L-44.5 11.2L-49.0 6.5L-52.0 4.7L-55.0 4.2L-61.0 5.7L-64.0 5.7L-68.5 4.9L-71.3 3.5L-74.8 -1.0L-74.6 -7.0L-77.5 -9.4L-79.0 -9.5L-81.1 -8.5L-83.5 -4.3L-94.0 -6.4L-95.1 -8.5L-93.2 -14.5L-93.1 -17.5L-93.8 -20.5L-95.0 -22.0L-100.0 -24.0L-106.0 -29.0L-109.0 -29.3L-116.5 -27.9L-118.0 -28.0L-119.7 -29.5L-120.1 -32.5L-119.1 -35.5L-116.5 -37.7L-111.5 -40.0L-110.5 -41.5L-111.0 -44.5L-112.4 -46.0L-124.0 -51.4L-130.0 -50.7L-133.6 -52.0L-137.5 -54.0L-142.0 -58.0L-151.0 -58.8L-151.8 -61.0L-151.0 -71.9L-152.5 -72.4L-160.0 -71.5L-160.0 -94.3L-158.5 -94.3L-157.2 -95.5L-158.0 -98.5L-160.0 -101.0L-160.0 -131.1L-155.9 -136.0L-155.4 -137.5L-155.9 -143.5L-154.8 -151.0L-149.8 -155.5ZM-104.1 -146.5L-101.5 -146.4L-101.5 -147.8L-103.0 -147.6ZM-138.8 -142.0L-140.8 -140.5L-141.6 -139.0L-141.1 -134.5L-142.0 -133.0L-145.0 -132.8L-146.7 -131.5L-145.6 -130.0L-139.0 -127.2L-131.5 -127.6L-128.5 -125.7L-125.5 -125.5L-122.5 -128.3L-118.5 -134.5L-117.4 -137.5L-118.1 -139.0L-122.5 -142.8L-124.0 -143.1L-130.0 -141.2L-136.0 -142.4ZM-73.6 -121.0L-79.6 -116.5L-79.5 -113.5L-73.0 -107.6L-68.5 -105.6L-67.0 -106.1L-65.0 -110.5L-64.9 -113.5L-70.0 -120.6L-71.5 -121.4ZM106.2 -104.5L104.3 -100.0L104.0 -97.0L105.5 -95.2L110.0 -94.3L111.6 -95.5L112.4 -103.0L110.0 -105.1L108.5 -105.4ZM127.7 -100.0L122.0 -98.9L120.5 -97.8L119.3 -95.5L119.1 -92.5L123.5 -88.1L126.9 -94.0L131.7 -98.5L132.3 -100.0L131.0 -101.5ZM-150.6 -85.0L-151.7 -82.0L-151.0 -80.1L-149.5 -79.6L-148.0 -80.6L-147.1 -83.5L-148.0 -85.5L-149.5 -85.8ZM120.2 -65.5L119.9 -64.0L120.5 -63.0L122.6 -64.0L122.0 -66.4ZM120.9 -17.5L120.3 -16.0L122.0 -13.4L123.5 -13.5L124.7 -14.5L125.0 -16.0L124.0 -17.5L122.0 -18.0ZM24.5 -160.0L34.6 -160.0L33.6 -155.5L34.9 -151.0L34.4 -148.0L30.5 -138.8L27.5 -135.3L26.0 -136.3L25.4 -137.5L24.0 -143.5L17.3 -148.0L16.9 -149.5L18.3 -155.5L23.0 -156.7ZM96.5 -160.0L98.0 -160.0L112.5 -160.0L108.5 -154.6L105.5 -153.4L103.8 -154.0L102.5 -155.5L101.0 -158.8L99.5 -159.7ZM137.0 -160.0L144.4 -160.0L144.9 -157.0L143.9 -154.0L141.5 -152.4L138.5 -153.3L137.0 -157.3ZM99.5 -137.8L102.5 -136.7L103.0 -134.5L102.5 -133.1L99.5 -130.8L96.5 -129.9L95.4 -131.5L95.9 -133.0L98.0 -137.1ZM6.5 -110.9L11.4 -110.5L12.9 -109.0L12.6 -107.5L11.0 -106.8L8.0 -107.0L5.9 -109.0ZM-151.0 -52.5L-149.5 -52.5L-146.5 -50.7L-144.5 -47.5L-147.3 -40.0L-147.4 -37.0L-146.5 -35.8L-139.0 -35.7L-136.0 -39.5L-133.0 -40.2L-130.2 -38.5L-130.2 -35.5L-133.0 -34.7L-137.5 -35.3L-140.3 -31.0L-142.0 -30.5L-145.0 -31.8L-148.0 -35.4L-160.0 -32.9L-160.0 -41.8L-155.5 -43.3L-154.4 -46.0L-154.7 -49.0L-154.2 -50.5ZM-130.0 -0.8L-125.4 -1.0L-123.9 5.0L-124.5 6.5L-128.4 9.5L-128.9 11.0L-127.0 12.6L-119.5 12.4L-118.0 13.0L-116.9 15.5L-116.4 21.5L-113.1 27.5L-112.5 30.5L-113.5 32.3L-122.5 36.1L-125.6 39.5L-127.4 44.0L-124.0 46.3L-118.0 46.4L-115.0 44.6L-112.6 41.0L-110.5 40.1L-107.5 40.9L-105.2 44.0L-106.0 47.7L-112.0 53.3L-113.5 53.5L-119.5 52.1L-121.2 53.0L-121.4 54.5L-119.6 60.5L-121.2 66.5L-120.2 69.5L-115.0 74.2L-107.5 78.2L-103.6 81.5L-100.0 85.8L-94.0 88.2L-92.8 95.0L-88.0 101.0L-79.0 106.1L-69.8 107.0L-69.1 108.5L-69.1 114.5L-67.2 120.5L-69.3 131.0L-68.4 134.0L-65.5 136.5L-61.0 137.3L-58.1 135.5L-57.4 134.0L-57.3 131.0L-59.6 123.5L-58.8 122.0L-55.1 119.0L-52.0 114.0L-50.5 113.1L-47.5 112.8L-43.0 113.3L-41.5 114.1L-37.4 120.5L-37.0 125.0L-40.0 131.3L-46.3 134.0L-49.5 140.0L-49.8 143.0L-45.3 147.5L-44.7 153.5L-38.2 155.0L-36.7 156.5L-34.6 161.0L-160.0 161.0L-160.0 54.6L-152.5 55.5L-149.8 57.5L-149.3 59.0L-150.5 63.5L-149.5 65.1L-148.0 64.9L-145.0 60.7L-140.5 59.6L-136.0 56.8L-131.5 55.9L-128.9 54.5L-130.0 49.8L-129.0 44.0L-134.7 36.5L-134.1 35.0L-131.1 32.0L-129.9 29.0L-134.8 12.5L-132.6 6.5L-131.5 0.8ZM-154.0 25.5L-151.1 26.0L-150.7 29.0L-152.5 30.8L-155.5 31.0L-157.7 29.0L-157.0 27.5ZM86.0 30.1L87.5 30.1L90.5 31.5L91.3 33.5L90.7 35.0L87.5 37.1L84.8 36.5L84.1 35.0L84.5 32.0ZM104.0 30.6L107.0 31.1L107.0 32.5L105.5 33.1L102.8 32.0ZM137.8 41.0L143.0 36.9L144.5 37.7L144.5 39.5L141.5 42.6L138.5 43.9ZM153.5 48.3L161.0 50.4L161.0 113.5L158.0 117.7L157.1 123.5L158.8 131.0L159.5 132.7L161.0 133.9L161.0 161.0L150.6 161.0L150.4 158.0L149.0 156.8L147.4 158.0L146.2 161.0L1.9 161.0L2.2 156.5L2.9 155.0L3.5 154.5L6.5 155.4L9.7 155.0L11.9 147.5L14.0 146.4L23.0 144.5L26.0 144.5L33.5 147.6L41.0 148.2L41.7 149.0L41.7 152.0L42.5 152.9L44.0 152.7L46.9 149.0L50.6 146.0L51.1 140.0L52.3 135.5L51.9 131.0L53.0 130.5L54.5 131.4L56.5 135.5L59.0 137.2L63.7 137.0L66.5 134.3L69.5 134.4L72.9 135.5L78.1 141.5L77.5 146.0L79.1 147.5L81.5 148.1L84.5 148.0L86.8 144.5L87.0 143.0L86.0 141.5L80.0 140.8L78.7 140.0L81.3 135.5L84.5 133.4L87.5 133.6L90.5 136.2L95.0 136.8L101.0 141.7L108.5 140.9L109.1 138.5L107.5 131.0L101.0 126.5L100.5 123.5L102.5 122.0L104.0 122.4L108.5 126.7L110.0 127.2L111.5 126.7L112.6 125.0L113.9 119.0L111.8 116.0L106.1 111.5L105.1 108.5L104.5 101.0L105.5 99.3L110.0 99.0L111.5 98.1L113.7 95.0L116.0 88.8L119.0 85.3L120.5 84.8L123.5 85.3L124.3 86.0L124.2 90.5L126.5 91.2L140.0 90.2L147.5 85.3L148.8 83.0L150.0 75.5L145.4 69.5L144.5 60.5L140.9 50.0L143.0 49.0L149.0 49.5ZM144.5 93.3L141.5 94.4L138.0 101.0L138.0 102.5L140.0 104.7L143.0 105.0L147.5 102.8L153.5 103.1L156.5 101.0L156.2 98.0L153.5 95.2ZM126.5 124.4L124.6 128.0L125.0 130.3L126.5 129.8L127.7 126.5L127.3 125.0ZM129.5 70.7L134.0 70.2L135.4 71.0L137.3 77.0L136.2 80.0L134.8 81.5L131.0 84.0L128.0 84.8L126.4 84.5L125.7 83.0L125.6 74.0L126.5 72.4ZM2.0 145.9L3.5 146.8L4.2 149.0L3.5 151.7L2.0 153.2L0.5 152.2L0.0 150.5L0.3 147.5ZM-10.0 159.4L-5.5 159.3L-5.1 161.0L-12.1 161.0Z"/><path fill="#fdba4e" d="M-124.8 -160.0L-101.7 -160.0L-99.3 -154.0L-100.0 -152.5L-101.5 -151.6L-109.0 -148.2L-116.5 -145.9L-118.6 -146.5L-119.7 -148.0L-120.4 -152.5L-123.0 -154.0L-125.4 -148.0L-128.5 -145.2L-139.0 -144.0L-142.0 -142.3L-145.0 -139.4L-148.0 -137.9L-151.0 -138.8L-152.5 -140.6L-153.5 -143.5L-152.5 -148.6L-145.0 -158.4L-134.5 -152.3L-131.5 -152.0L-124.3 -155.5ZM-90.4 -160.0L-77.8 -160.0L-77.5 -158.7L-76.4 -160.0L-35.0 -160.0L-35.7 -155.5L-43.4 -151.0L-43.6 -149.5L-34.0 -145.8L-31.6 -146.5L-30.5 -148.0L-31.1 -152.5L-30.2 -154.0L-22.7 -155.5L-20.6 -157.0L-18.9 -160.0L-4.2 -160.0L-1.3 -146.5L-1.3 -139.0L1.0 -127.0L0.7 -124.0L-2.5 -120.0L-3.2 -118.0L-3.0 -113.5L-1.4 -106.0L0.5 -103.0L6.5 -101.4L12.1 -97.0L13.3 -94.0L13.1 -88.0L14.0 -86.1L15.5 -85.7L18.5 -87.9L24.5 -89.2L27.7 -91.0L28.1 -92.5L27.1 -94.0L23.4 -97.0L22.6 -98.5L22.7 -100.0L23.9 -101.5L27.5 -102.6L30.5 -102.0L33.5 -100.2L44.0 -91.2L50.0 -89.5L53.0 -85.0L59.0 -83.2L62.0 -83.5L75.5 -89.9L90.5 -89.8L99.5 -93.3L107.0 -92.4L112.8 -89.5L118.3 -88.0L119.7 -85.0L119.3 -80.5L119.8 -77.5L120.5 -76.2L122.0 -76.5L125.0 -78.4L131.0 -79.7L132.1 -80.5L132.1 -82.0L128.5 -86.5L128.2 -89.5L129.5 -92.6L134.6 -97.0L136.6 -101.5L135.6 -104.5L131.0 -108.6L130.3 -110.5L135.2 -115.0L138.1 -125.5L140.0 -124.6L142.6 -118.0L145.9 -112.0L147.5 -110.2L149.0 -109.7L152.0 -110.6L154.3 -113.5L153.9 -115.0L150.5 -117.1L149.1 -119.5L150.2 -122.5L152.0 -123.1L153.5 -121.4L155.6 -116.5L161.0 -113.1L161.0 -99.7L158.5 -95.5L155.5 -92.5L155.4 -91.0L158.0 -90.1L161.0 -90.1L161.0 -77.1L158.7 -73.0L154.5 -70.0L154.1 -67.0L155.9 -61.0L153.0 -56.5L152.4 -53.5L153.5 -50.5L156.5 -49.3L161.0 -48.8L161.0 -16.1L154.6 -16.0L150.0 -11.5L149.8 -10.0L156.5 -7.9L158.8 -5.5L158.8 -2.5L153.5 3.7L152.0 4.4L147.5 3.8L144.5 5.4L141.5 8.0L140.0 11.4L138.5 12.6L134.0 12.1L126.5 8.1L125.0 7.8L120.5 8.7L117.4 8.0L114.8 6.5L114.9 5.0L121.7 0.5L123.5 -5.8L130.0 -16.0L125.0 -19.9L120.5 -20.7L118.9 -20.5L117.3 -19.0L117.6 -16.0L119.3 -11.5L119.0 -10.0L113.6 -5.5L110.0 3.4L107.0 1.5L104.0 1.4L99.5 6.0L92.0 9.3L89.0 8.6L84.5 5.3L81.5 6.6L77.0 10.8L74.2 12.5L65.0 14.4L60.5 17.0L59.0 17.1L57.5 15.6L52.4 5.0L50.0 2.3L47.0 1.7L38.0 5.8L35.5 5.0L32.0 2.6L30.5 2.8L26.0 4.8L24.7 6.5L24.7 18.5L21.1 24.5L21.4 32.0L17.0 45.0L6.5 44.1L-8.5 50.6L-11.5 51.1L-16.0 50.4L-25.9 47.0L-28.0 44.6L-31.0 38.1L-37.0 36.5L-35.8 29.0L-35.5 17.0L-36.5 14.0L-37.9 12.5L-43.0 9.6L-49.0 3.1L-55.0 -1.9L-59.5 -4.5L-60.3 -4.0L-59.2 0.5L-60.0 2.0L-62.5 3.1L-67.0 3.3L-70.0 2.1L-71.4 0.5L-72.3 -2.5L-72.0 -7.0L-72.6 -8.5L-76.0 -11.1L-79.0 -12.1L-82.0 -12.1L-85.2 -8.5L-86.5 -7.9L-89.8 -8.5L-90.8 -10.0L-89.7 -16.0L-91.0 -20.5L-92.8 -23.5L-100.0 -26.6L-106.0 -30.7L-109.0 -31.1L-113.5 -30.5L-116.5 -31.4L-117.1 -32.5L-116.5 -34.5L-107.6 -38.5L-104.5 -41.5L-103.9 -43.0L-106.0 -46.0L-112.0 -50.2L-113.5 -51.1L-118.0 -51.7L-120.0 -53.5L-120.4 -55.0L-118.0 -56.8L-116.5 -56.3L-113.5 -53.7L-110.5 -54.5L-107.6 -58.0L-107.5 -59.8L-109.0 -62.0L-110.5 -62.7L-115.0 -62.7L-116.5 -63.5L-119.5 -67.4L-121.0 -68.0L-122.7 -67.0L-123.9 -64.0L-122.6 -56.5L-124.2 -55.0L-128.5 -53.8L-135.0 -56.5L-139.8 -61.0L-146.5 -61.6L-148.3 -62.5L-149.1 -64.0L-148.9 -67.0L-148.0 -68.6L-145.0 -69.5L-140.5 -68.7L-139.0 -70.0L-139.5 -74.5L-141.7 -79.0L-141.2 -85.0L-138.7 -89.5L-138.9 -91.0L-141.3 -92.5L-149.5 -93.9L-150.8 -95.5L-145.7 -103.0L-146.6 -104.5L-149.5 -104.9L-154.0 -102.2L-155.5 -102.4L-157.0 -104.5L-156.3 -112.0L-160.0 -113.1L-160.0 -120.2L-157.4 -121.0L-157.5 -127.0L-156.4 -130.0L-154.0 -132.1L-152.5 -132.4L-148.0 -126.8L-142.0 -123.5L-134.5 -124.3L-130.0 -122.4L-127.0 -122.1L-122.5 -123.7L-119.5 -129.0L-116.5 -132.6L-115.0 -134.0L-110.5 -135.5L-106.0 -141.9L-103.0 -142.7L-100.0 -142.5L-95.5 -138.1L-92.5 -137.4L-89.5 -138.0L-87.7 -139.0L-86.8 -140.5L-87.1 -142.0L-89.4 -145.0L-94.0 -147.8L-94.4 -149.5L-90.1 -155.5ZM-80.5 -148.9L-85.6 -139.0L-84.9 -134.5L-85.0 -127.4L-83.5 -125.9L-77.5 -126.1L-76.0 -126.9L-74.2 -131.5L-78.1 -140.5ZM-105.8 -130.0L-108.5 -128.5L-109.5 -125.5L-107.5 -123.5L-104.5 -123.3L-101.7 -125.5L-99.4 -130.0L-101.5 -130.5ZM-75.0 -124.0L-79.0 -120.8L-82.7 -119.5L-83.5 -118.0L-83.2 -116.5L-80.7 -110.5L-77.5 -107.5L-72.9 -104.5L-70.0 -99.1L-63.8 -103.0L-62.5 -108.9L-61.0 -111.5L-56.5 -111.7L-55.0 -113.5L-56.5 -114.5L-61.0 -113.6L-64.0 -118.0L-65.3 -122.5L-67.0 -124.2L-70.0 -125.0ZM-143.1 -118.0L-141.6 -115.0L-139.0 -114.0L-139.0 -116.0L-140.5 -118.0L-142.0 -118.9ZM-121.6 -112.0L-124.2 -110.5L-124.8 -107.5L-122.4 -104.5L-118.0 -103.1L-116.5 -104.1L-115.7 -106.0L-116.0 -110.5L-118.0 -112.0ZM-83.4 -98.5L-84.5 -97.0L-84.4 -95.5L-83.5 -94.6L-82.0 -94.4L-80.1 -95.5L-79.2 -97.0L-79.6 -98.5L-80.5 -99.2ZM-50.3 -97.0L-50.8 -95.5L-50.1 -92.5L-49.0 -91.2L-47.0 -91.0L-45.6 -92.5L-45.6 -94.0L-47.5 -96.4L-49.0 -97.3ZM3.3 -92.5L1.0 -91.0L-0.0 -88.0L2.0 -84.6L5.0 -83.8L7.4 -85.0L8.8 -86.5L9.0 -88.0L6.5 -91.1ZM147.4 -92.5L143.0 -87.7L141.0 -86.5L140.3 -85.0L141.0 -83.5L143.0 -82.0L147.5 -80.2L149.0 -81.1L150.9 -88.0L149.0 -92.0ZM117.7 -71.5L117.2 -70.0L117.5 -61.0L120.5 -60.1L123.6 -61.0L125.6 -62.5L126.1 -64.0L125.0 -67.8L120.5 -72.3L119.0 -72.4ZM14.7 -49.0L14.6 -47.5L15.5 -46.5L17.4 -47.5L17.0 -49.6L15.5 -49.9ZM127.8 -29.5L128.5 -28.0L132.1 -25.0L132.6 -17.5L134.0 -17.0L137.0 -17.6L138.8 -20.5L138.5 -25.0L132.5 -27.7L130.6 -29.5ZM-1.0 -160.0L0.5 -160.0L11.6 -160.0L8.9 -155.5L6.5 -153.8L5.0 -153.5L0.6 -155.5L-0.5 -157.0ZM26.9 -160.0L32.2 -160.0L30.9 -155.5L32.8 -149.5L30.5 -143.2L29.0 -141.4L27.5 -142.1L25.6 -145.0L20.7 -148.0L19.6 -149.5L20.8 -152.5L25.6 -155.5L26.9 -157.0ZM104.0 -124.3L111.5 -124.7L114.2 -124.0L115.2 -122.5L114.1 -116.5L116.0 -112.1L122.0 -112.9L123.9 -112.0L124.2 -109.0L122.0 -104.1L120.5 -103.4L117.5 -103.5L113.0 -107.4L105.5 -109.5L101.0 -118.3L100.3 -121.0L101.0 -122.7ZM101.0 -103.2L101.0 -99.7L99.5 -97.2L98.5 -100.0L99.5 -102.9ZM-160.0 -91.2L-154.4 -88.0L-154.0 -77.5L-154.1 -76.0L-155.3 -74.5L-160.0 -73.2ZM111.5 5.7L111.2 14.0L110.6 15.5L108.5 16.8L105.5 16.5L102.7 12.5L102.5 10.1L108.5 8.0ZM158.6 15.5L161.0 14.0L161.0 23.0L158.4 21.5L157.7 18.5ZM-128.5 15.1L-122.5 15.1L-119.5 16.4L-118.1 21.5L-115.4 26.0L-114.5 29.0L-115.1 30.5L-116.5 31.3L-124.0 32.7L-128.5 37.1L-129.7 36.5L-129.8 35.0L-127.4 32.0L-127.2 30.5L-130.6 18.5L-130.0 15.8ZM-109.0 43.3L-107.5 44.0L-107.4 45.5L-109.0 47.1L-110.7 45.5L-110.3 44.0ZM153.5 52.8L156.5 51.6L161.0 52.7L161.0 65.2L158.0 66.5L155.0 70.4L152.0 70.7L149.0 69.6L147.9 68.0L147.3 65.0L147.3 59.0L147.5 57.5L152.0 54.7ZM-160.0 57.5L-155.5 57.7L-154.0 58.5L-153.0 65.0L-152.0 66.5L-149.5 67.9L-143.5 68.2L-139.0 71.4L-133.0 69.7L-121.0 71.9L-115.0 77.4L-110.5 78.8L-107.5 80.8L-105.1 84.5L-103.0 90.5L-101.5 91.7L-97.0 93.2L-88.0 103.9L-80.5 107.3L-73.0 109.4L-71.7 111.5L-69.2 120.5L-69.7 125.0L-72.3 131.0L-72.2 132.5L-70.8 135.5L-67.0 138.7L-62.5 140.3L-58.0 138.6L-53.5 135.0L-52.0 134.7L-51.4 137.0L-53.3 144.5L-52.0 146.9L-48.3 149.0L-47.5 156.8L-46.0 157.5L-40.0 156.8L-38.2 158.0L-36.8 161.0L-160.0 161.0ZM18.5 57.4L21.5 57.7L22.8 59.0L23.0 60.5L21.2 62.0L18.5 62.6L15.5 62.7L14.2 62.0L14.0 60.5L15.4 59.0ZM-125.5 58.7L-124.0 58.1L-122.6 59.0L-122.5 61.1L-124.0 62.3L-126.6 60.5ZM129.5 73.3L132.5 73.0L134.4 75.5L134.0 78.9L131.0 80.9L129.0 80.0L128.0 77.3L128.0 75.5ZM153.5 79.5L161.0 79.1L161.0 84.2L156.5 87.9L151.9 89.0L150.9 87.5L151.9 81.5ZM117.5 93.3L119.0 92.9L122.0 94.5L129.5 96.5L131.0 96.5L135.5 93.9L137.0 95.4L134.4 102.5L134.5 104.0L136.0 105.5L140.0 107.2L143.0 107.3L149.0 105.1L153.5 105.4L158.0 104.7L160.7 105.5L160.1 110.0L155.9 119.0L155.7 129.5L155.0 132.5L155.2 134.0L157.1 135.5L161.0 137.0L161.0 161.0L153.3 161.0L152.6 155.0L150.5 151.3L147.5 151.1L144.5 153.9L143.0 154.3L142.1 153.5L140.9 150.5L141.2 149.0L143.5 147.5L143.9 146.0L143.0 143.7L141.5 142.2L138.5 147.4L131.7 149.0L130.6 152.0L131.5 155.0L137.0 158.0L139.0 161.0L120.0 161.0L117.5 156.8L114.5 155.9L112.7 156.5L111.8 158.0L112.2 161.0L43.1 161.0L44.8 156.5L53.9 146.0L54.3 140.0L56.0 139.3L66.5 139.0L69.5 140.2L72.8 144.5L73.1 152.0L74.0 154.2L78.5 151.3L86.0 151.3L90.5 149.7L95.0 149.2L104.0 143.9L107.0 144.2L110.0 146.3L113.5 146.0L115.0 144.5L115.1 143.0L111.5 137.9L110.9 134.0L111.5 132.1L117.5 125.1L119.0 124.4L120.5 125.4L119.3 131.0L119.8 134.0L122.5 138.5L125.0 144.9L126.5 145.7L128.0 145.4L130.3 141.5L132.5 139.6L139.5 137.0L140.0 134.0L134.0 133.3L131.0 131.1L130.8 126.5L132.3 123.5L135.5 121.7L143.0 122.0L145.9 119.0L145.8 116.0L144.5 115.1L141.5 114.9L137.0 117.2L135.5 116.8L129.5 112.3L128.0 113.3L125.7 117.5L123.5 119.8L122.0 120.3L120.5 119.8L110.8 111.5L109.2 108.5L111.0 104.0L115.3 98.0ZM158.6 93.5L161.0 92.4L161.0 97.0L158.8 95.0ZM-49.0 115.9L-44.5 115.8L-40.0 119.4L-38.5 121.7L-38.3 123.5L-40.0 127.1L-43.0 128.6L-49.0 129.2L-55.0 125.4L-55.2 123.5L-52.7 119.0ZM24.5 145.9L28.6 147.5L33.5 152.9L38.0 156.2L39.5 158.0L40.4 161.0L28.5 161.0L27.5 159.8L25.8 161.0L4.8 161.0L6.5 158.8L11.0 157.7L12.4 156.5L13.9 150.5L15.4 149.0Z"/><path fill="#fb9e33" d="M-116.2 -160.0L-106.3 -160.0L-103.0 -155.9L-103.2 -154.0L-109.0 -151.3L-112.0 -152.2L-115.7 -157.0ZM-145.0 -154.0L-143.5 -154.5L-140.5 -153.8L-135.2 -149.5L-135.0 -148.0L-145.0 -142.9L-146.5 -142.7L-147.9 -143.5L-148.7 -145.0L-148.7 -148.0L-147.5 -151.0ZM-14.5 -154.2L-11.5 -154.9L-8.5 -154.6L-6.5 -152.5L-4.8 -148.0L-5.2 -145.0L-8.5 -143.5L-10.6 -140.5L-10.3 -139.0L-8.8 -137.5L-5.3 -136.0L-1.3 -127.0L-2.0 -124.0L-5.0 -119.5L-4.4 -109.0L-5.4 -104.5L-4.1 -101.5L1.8 -97.0L-2.1 -88.0L0.8 -80.5L0.6 -76.0L2.0 -73.9L3.5 -73.7L4.9 -74.5L6.1 -80.5L9.5 -82.6L11.0 -81.8L14.0 -75.1L20.0 -78.0L21.5 -76.0L20.7 -73.0L16.8 -70.0L16.0 -68.5L16.7 -65.5L18.5 -63.9L21.5 -64.4L25.9 -68.5L27.4 -76.0L30.5 -79.5L33.5 -84.7L36.4 -86.5L37.0 -92.5L38.0 -92.6L41.0 -89.4L47.0 -86.7L50.0 -82.5L60.5 -81.1L66.5 -83.7L74.0 -85.9L78.5 -84.5L84.5 -86.4L89.0 -84.1L93.1 -88.0L95.0 -88.8L98.0 -88.4L102.5 -84.7L105.5 -89.4L107.0 -89.5L111.5 -87.2L115.5 -86.5L117.0 -85.0L116.9 -77.5L116.0 -76.0L114.5 -75.3L110.9 -74.5L110.7 -73.0L114.7 -67.0L115.1 -61.0L116.0 -58.9L119.0 -58.0L126.5 -58.6L131.1 -59.5L132.4 -61.0L124.7 -73.0L124.8 -74.5L126.2 -76.0L129.5 -76.5L134.8 -76.0L134.1 -71.5L134.4 -68.5L137.5 -64.0L138.4 -59.5L140.0 -58.1L141.5 -57.8L144.7 -59.5L145.1 -61.0L141.8 -65.5L140.0 -76.0L143.0 -76.8L150.5 -75.0L151.7 -76.0L152.2 -80.5L153.5 -84.0L156.5 -86.2L161.0 -86.9L161.0 -80.4L159.5 -79.4L156.5 -75.2L152.0 -73.4L152.0 -64.0L149.6 -59.5L149.6 -55.0L148.2 -49.0L149.0 -46.6L155.0 -47.1L161.0 -46.1L161.0 -25.8L153.5 -24.8L152.5 -23.5L153.3 -20.5L152.4 -19.0L149.0 -15.6L144.6 -13.0L144.9 -10.0L146.5 -7.0L149.0 -5.8L155.0 -5.5L155.9 -4.0L155.0 -1.8L152.0 0.2L146.0 1.5L141.5 5.0L135.5 7.7L132.5 7.5L127.7 5.0L125.8 -1.0L126.1 -4.0L128.0 -5.5L133.4 -5.5L133.8 -7.0L133.1 -10.0L134.4 -13.0L141.9 -16.0L142.1 -20.5L144.0 -28.0L146.3 -31.0L146.0 -32.8L144.5 -34.2L140.0 -33.4L132.5 -35.2L126.5 -34.5L123.5 -32.5L120.5 -28.0L119.0 -27.0L113.0 -26.0L110.0 -24.4L109.5 -22.0L110.0 -20.5L115.1 -14.5L116.0 -11.5L114.5 -10.0L111.5 -9.1L105.5 -11.2L102.5 -10.0L102.5 -8.0L108.5 -8.1L109.6 -7.0L108.8 -4.0L102.5 -1.8L96.5 3.2L92.0 4.8L90.5 4.4L87.5 0.7L86.0 0.8L79.8 5.0L75.5 9.3L72.4 11.0L69.5 11.9L65.0 11.6L60.5 12.2L57.5 9.9L54.1 2.0L50.0 -2.1L47.0 -2.1L41.0 0.2L36.5 -2.6L32.0 -2.9L21.3 3.5L19.1 6.5L21.7 11.0L22.4 17.0L21.6 20.0L19.2 24.5L19.6 33.5L17.0 41.0L15.7 42.5L14.0 43.1L6.5 42.7L3.5 43.2L-8.5 49.2L-11.5 50.0L-16.7 48.5L-25.0 42.7L-28.1 36.5L-29.5 35.0L-32.6 33.5L-33.5 32.0L-33.0 27.5L-29.5 23.0L-36.2 11.0L-43.0 6.9L-61.0 -11.8L-64.0 -12.5L-68.5 -11.5L-71.5 -11.7L-80.5 -15.7L-85.0 -16.5L-86.7 -17.5L-89.6 -23.5L-92.5 -26.9L-99.8 -29.5L-106.2 -34.0L-105.5 -35.5L-100.3 -40.0L-99.2 -43.0L-100.2 -46.0L-105.2 -50.5L-105.8 -52.0L-103.9 -58.0L-106.4 -62.5L-109.0 -64.5L-115.0 -67.1L-119.5 -71.1L-121.0 -71.3L-124.0 -69.9L-126.2 -67.0L-127.5 -64.0L-127.7 -59.5L-128.5 -58.5L-131.5 -59.4L-133.4 -61.0L-136.2 -73.0L-136.3 -76.0L-135.0 -80.5L-135.9 -86.5L-133.0 -95.0L-127.0 -101.3L-125.5 -102.0L-120.5 -100.0L-118.8 -98.5L-118.2 -97.0L-123.0 -91.0L-123.2 -89.5L-121.0 -88.6L-116.5 -89.0L-112.0 -86.3L-107.5 -94.6L-106.0 -95.4L-98.5 -95.8L-91.0 -98.9L-89.5 -97.6L-88.9 -94.0L-83.5 -89.5L-82.0 -89.7L-76.0 -94.9L-74.5 -95.4L-69.2 -95.5L-64.0 -97.9L-56.5 -98.0L-55.0 -97.6L-53.5 -95.7L-51.9 -91.0L-50.7 -89.5L-47.5 -88.3L-46.0 -88.5L-43.3 -91.0L-41.7 -94.0L-42.6 -95.5L-47.5 -99.7L-52.7 -103.0L-55.0 -106.0L-55.3 -107.5L-50.3 -115.0L-51.9 -122.5L-49.0 -124.3L-46.0 -127.6L-45.5 -130.0L-46.9 -133.0L-43.6 -137.5L-47.0 -142.0L-47.8 -145.0L-44.5 -145.5L-35.5 -143.1L-32.5 -143.1L-29.3 -145.0L-25.0 -151.0L-19.0 -151.7ZM-111.5 -83.5L-113.5 -81.7L-114.5 -79.0L-113.5 -76.7L-110.5 -74.2L-109.0 -73.7L-104.5 -76.6L-99.8 -77.5L-99.9 -79.0L-101.5 -80.6ZM2.0 -62.5L1.4 -61.0L2.0 -59.7L4.1 -59.5L5.0 -61.4L3.5 -62.6ZM125.0 -54.0L122.1 -50.5L122.0 -49.0L123.5 -47.5L126.5 -46.7L131.0 -42.4L134.0 -44.0L135.2 -46.0L134.9 -47.5L132.6 -49.0L129.5 -49.7L126.5 -53.4ZM13.3 -52.0L12.2 -49.0L12.8 -46.0L14.3 -44.5L17.0 -44.2L19.8 -47.5L20.0 -50.5L17.0 -52.6L15.5 -52.9ZM106.8 -41.5L107.0 -39.9L108.5 -39.5L109.5 -40.0L109.9 -41.5L108.5 -42.8ZM101.9 -32.5L100.7 -31.0L101.3 -28.0L102.5 -27.2L105.5 -27.7L106.3 -29.5L105.5 -31.9L104.0 -33.0ZM-0.1 -13.0L-2.3 -11.5L-3.1 -10.0L-3.5 -5.5L-2.5 -2.0L-1.0 0.1L2.0 0.6L3.5 -0.4L4.5 -2.5L4.7 -7.0L3.2 -11.5L2.0 -12.9ZM-86.5 -152.6L-86.0 -149.5L-86.5 -148.5L-88.0 -148.5L-89.1 -149.5L-88.9 -151.0ZM27.5 -152.8L29.0 -152.2L29.8 -149.5L29.0 -148.2L27.5 -147.7L23.7 -149.5L23.8 -151.0ZM-73.0 -150.9L-71.5 -150.5L-70.3 -148.0L-71.5 -144.8L-73.0 -145.0L-73.8 -146.5L-73.8 -149.5ZM-68.5 -142.9L-61.0 -144.8L-58.0 -143.7L-51.0 -134.5L-50.9 -133.0L-52.5 -130.0L-53.5 -124.7L-59.5 -127.4L-64.0 -130.9L-67.0 -131.9L-69.6 -134.5L-71.0 -137.5L-70.6 -140.5ZM-106.0 -138.7L-103.0 -140.3L-100.3 -139.0L-99.9 -136.0L-103.0 -133.0L-106.0 -132.6L-107.1 -133.0L-107.5 -134.5ZM-113.5 -130.3L-112.7 -128.5L-113.5 -124.4L-115.0 -123.0L-116.5 -123.1L-118.0 -125.1L-117.7 -127.0L-116.5 -128.7ZM105.5 -121.7L108.5 -121.7L110.0 -121.0L108.5 -118.5L107.0 -118.2L104.5 -119.5L104.1 -121.0ZM-134.5 -120.4L-130.0 -119.0L-124.0 -118.9L-122.3 -118.0L-121.5 -116.5L-122.6 -115.0L-128.5 -111.4L-131.5 -111.0L-133.7 -113.5L-135.9 -119.5ZM-109.7 -119.5L-106.5 -119.5L-106.0 -118.4L-107.5 -116.4L-109.6 -118.0ZM-88.0 -115.6L-86.5 -115.4L-85.0 -113.5L-81.3 -106.0L-81.1 -104.5L-82.5 -103.0L-86.8 -101.5L-88.0 -102.7L-89.5 -106.3L-92.5 -108.5L-94.0 -108.1L-100.0 -102.6L-106.0 -99.2L-107.5 -98.8L-109.0 -99.4L-109.7 -101.5L-108.3 -104.5L-98.5 -114.3L-97.0 -114.8L-92.5 -112.2ZM153.5 -107.6L156.5 -107.7L158.2 -106.0L158.5 -103.0L156.5 -99.0L155.0 -98.7L153.5 -99.3L150.2 -103.0L150.0 -104.5L150.8 -106.0ZM141.5 -106.5L143.0 -106.8L143.5 -106.0L144.0 -98.5L143.0 -96.6L140.0 -95.3L139.8 -97.0L142.4 -101.5ZM-143.5 -98.6L-140.5 -98.6L-138.8 -97.0L-140.5 -96.2L-143.5 -96.8ZM2.5 -97.0L5.0 -98.3L6.5 -97.7L8.6 -95.5L8.6 -94.0ZM135.5 -92.8L136.8 -92.5L135.5 -89.3L134.0 -88.1L132.5 -88.8L132.7 -91.0ZM-160.0 -88.7L-157.0 -86.5L-156.7 -83.5L-157.4 -77.5L-158.1 -76.0L-160.0 -75.3ZM161.0 -23.9L161.0 -18.3L157.7 -19.0L156.0 -20.5L158.0 -22.8ZM-68.5 -4.5L-67.0 -5.0L-66.5 -4.0L-66.0 -1.0L-67.0 -0.3L-68.7 -1.0ZM-127.0 17.5L-124.0 17.5L-122.2 18.5L-117.3 26.0L-116.7 27.5L-117.1 29.0L-121.0 29.8L-124.0 28.4L-127.9 20.0L-127.9 18.5ZM156.5 56.7L161.0 57.1L161.0 61.3L156.5 63.1L153.5 65.2L152.0 65.6L150.8 65.0L150.6 62.0ZM-158.5 60.4L-156.3 62.0L-154.9 66.5L-153.4 68.0L-149.5 69.9L-144.7 71.0L-140.5 75.4L-139.0 75.3L-134.5 72.5L-131.5 72.1L-121.0 75.5L-116.5 79.4L-110.9 81.5L-108.6 84.5L-108.6 87.5L-109.7 90.5L-109.6 92.0L-108.4 93.5L-98.5 95.8L-95.5 98.1L-89.5 105.8L-77.2 110.0L-74.7 111.5L-70.6 122.0L-71.7 126.5L-75.8 131.0L-75.4 134.0L-72.7 138.5L-68.2 143.0L-63.8 149.0L-63.6 152.0L-62.5 153.2L-55.0 152.5L-52.0 153.2L-51.0 156.5L-51.9 161.0L-160.0 161.0L-160.0 60.3ZM-146.9 86.0L-149.2 87.5L-149.5 89.0L-146.5 90.5L-144.2 89.0L-144.2 87.5L-145.0 86.0ZM122.0 99.0L126.5 99.8L128.2 101.0L128.9 102.5L128.3 105.5L126.1 108.5L124.1 114.5L122.0 116.0L119.0 115.1L115.8 113.0L114.2 111.5L112.8 108.5L113.3 105.5L114.5 103.6ZM147.5 108.4L155.0 107.9L156.5 108.5L157.2 110.0L156.6 113.0L154.1 117.5L153.5 127.3L152.0 129.6L149.0 131.2L147.5 130.7L145.0 126.5L145.3 125.0L149.8 117.5L149.0 113.8L145.7 110.0ZM-49.0 118.2L-46.0 117.8L-43.8 119.0L-40.9 122.0L-40.6 123.5L-41.5 124.9L-47.5 126.8L-51.5 125.0L-52.1 122.0L-50.5 119.3ZM134.0 125.9L135.5 125.2L137.0 125.5L138.4 126.5L138.5 128.0L136.8 129.5L134.3 129.5L133.3 128.0ZM147.5 136.1L149.0 136.1L150.5 137.1L152.3 140.0L150.5 143.7L149.0 144.4L147.5 143.6L145.7 140.0L146.0 137.9ZM60.5 141.3L65.2 141.5L67.8 144.5L68.9 149.0L66.8 153.5L70.0 158.0L71.1 161.0L45.3 161.0L46.1 158.0L48.1 155.0L51.5 151.4L56.0 148.4L57.8 143.0ZM61.0 150.5L60.2 152.0L62.0 154.1L66.2 153.5L66.3 152.0L63.9 150.5ZM134.0 142.1L135.5 142.0L136.2 143.0L135.5 144.6L133.3 144.5L133.0 143.0ZM161.0 145.7L161.0 161.0L155.3 161.0L155.2 153.5L156.0 150.5ZM119.0 146.8L120.5 146.8L122.4 149.0L122.9 150.5L122.1 152.0L110.0 154.1L109.0 155.0L108.7 156.5L109.8 161.0L95.6 161.0L95.5 153.5L98.0 150.4L104.0 148.0L107.0 150.4L108.5 150.6ZM21.5 148.8L24.5 147.9L26.8 149.0L27.6 150.5L27.1 153.5L22.7 161.0L13.4 161.0L15.8 153.5ZM80.0 154.7L83.0 154.1L86.5 155.0L87.4 156.5L87.2 161.0L79.5 161.0L78.9 156.5ZM-41.5 159.4L-40.0 160.0L-39.4 161.0L-43.7 161.0Z"/><path fill="#f67c2b" d="M-142.0 -151.3L-140.3 -149.5L-141.7 -148.0L-143.5 -147.9L-144.1 -149.5L-143.5 -150.9ZM-22.0 -146.6L-20.4 -145.0L-21.3 -143.5L-23.5 -142.9L-25.4 -143.5L-23.5 -146.2ZM-64.0 -142.3L-61.0 -142.7L-57.3 -140.5L-55.7 -137.5L-56.5 -134.0L-58.0 -133.0L-59.5 -133.1L-65.9 -136.0L-66.9 -139.0L-66.4 -140.5ZM-34.0 -136.4L-32.5 -137.1L-29.5 -135.8L-26.5 -135.4L-20.5 -136.9L-16.0 -136.7L-10.0 -133.5L-4.9 -128.5L-4.3 -125.5L-6.8 -121.0L-6.8 -110.5L-9.4 -104.5L-8.5 -99.3L-4.0 -97.0L-2.4 -95.5L-2.6 -92.5L-4.7 -88.0L-3.6 -83.5L-4.6 -77.5L0.5 -70.1L2.0 -69.1L8.0 -71.0L11.1 -68.5L11.9 -65.5L11.0 -64.3L9.5 -64.2L2.0 -67.2L-1.0 -64.9L-2.2 -61.0L-0.5 -58.0L3.5 -54.8L8.0 -56.9L10.2 -56.5L10.7 -55.0L10.2 -47.5L11.6 -44.5L14.0 -42.2L17.0 -41.7L19.5 -43.0L22.2 -47.5L22.8 -50.5L21.4 -53.5L14.5 -56.5L13.1 -58.0L14.0 -61.0L20.0 -60.8L26.8 -65.5L33.9 -77.5L41.0 -84.5L42.5 -85.2L45.5 -84.3L48.1 -80.5L50.0 -80.0L56.0 -80.3L60.5 -79.4L68.0 -81.8L69.5 -81.4L75.5 -75.7L77.0 -75.2L81.5 -78.7L84.5 -78.9L89.0 -75.5L90.5 -75.2L95.0 -76.0L99.5 -70.5L105.5 -71.3L108.5 -70.4L110.0 -69.2L112.0 -67.0L113.1 -64.0L111.5 -58.6L109.6 -56.5L109.2 -50.5L108.1 -47.5L101.0 -41.2L99.5 -41.8L95.0 -46.6L92.2 -46.0L90.5 -44.5L90.2 -43.0L91.1 -38.5L90.5 -37.6L87.5 -37.6L86.7 -35.5L87.5 -32.4L95.0 -28.9L98.0 -23.0L104.0 -23.0L105.5 -22.3L108.6 -17.5L108.5 -15.4L107.0 -14.5L102.5 -13.9L95.0 -6.5L87.5 -4.3L80.0 2.0L69.5 6.9L65.0 6.0L62.0 6.5L60.5 5.7L58.9 0.5L52.5 -7.0L52.1 -10.0L53.0 -13.4L51.5 -14.1L48.5 -11.2L42.5 -9.1L38.0 -5.7L32.0 -5.3L24.5 -2.7L17.0 -2.8L13.9 0.5L10.7 8.0L12.1 11.0L18.5 12.4L20.3 15.5L20.2 18.5L17.0 26.0L18.1 33.5L16.1 39.5L14.8 41.0L12.5 41.8L5.0 41.4L0.5 42.1L-4.3 45.5L-10.0 48.3L-13.0 48.4L-15.4 47.0L-22.6 39.5L-24.6 33.5L-28.0 29.0L-27.1 24.5L-27.4 21.5L-32.0 11.0L-31.8 9.5L-29.5 7.9L-28.0 5.3L-28.0 -1.1L-29.5 -1.3L-34.0 0.2L-36.4 -1.0L-38.5 -3.8L-40.0 -3.9L-39.0 2.0L-39.5 3.5L-41.5 4.0L-46.0 0.6L-59.5 -13.9L-62.5 -14.9L-70.0 -14.5L-73.0 -15.0L-76.0 -16.9L-79.0 -20.3L-82.0 -20.5L-83.5 -21.6L-85.2 -25.0L-88.0 -26.9L-91.0 -30.9L-94.8 -34.0L-94.9 -40.0L-97.0 -47.5L-97.5 -52.0L-96.6 -55.0L-93.1 -61.0L-93.9 -64.0L-98.5 -69.2L-100.0 -69.4L-101.4 -64.0L-103.0 -63.2L-106.7 -65.5L-108.3 -67.0L-108.6 -68.5L-103.0 -73.1L-98.5 -71.8L-94.8 -76.0L-94.9 -77.5L-100.0 -86.0L-104.5 -85.3L-106.5 -86.5L-106.8 -89.5L-106.0 -90.9L-104.5 -91.7L-101.3 -91.0L-98.5 -86.9L-88.0 -84.5L-79.0 -85.7L-77.5 -85.2L-73.2 -82.0L-68.0 -80.5L-65.5 -74.9L-62.5 -72.5L-60.6 -73.0L-62.1 -80.5L-61.5 -86.5L-60.2 -91.0L-58.0 -93.5L-56.5 -93.9L-55.3 -92.5L-54.7 -89.5L-53.6 -88.0L-47.5 -85.8L-44.5 -86.4L-38.6 -92.5L-37.8 -95.5L-39.1 -97.0L-44.5 -99.6L-50.5 -104.4L-52.4 -107.5L-50.5 -110.9L-45.9 -113.5L-46.8 -119.5L-45.7 -122.5L-41.2 -127.0L-39.2 -131.5ZM-82.2 -73.0L-82.5 -71.5L-82.0 -69.8L-80.5 -71.0L-80.4 -73.0ZM100.2 -61.0L97.8 -56.5L98.0 -54.9L99.5 -53.7L101.6 -55.0L104.5 -59.5L104.2 -61.0L102.5 -62.2ZM50.1 -34.0L51.5 -27.8L53.0 -28.0L54.8 -31.0L54.5 -34.0L51.5 -35.5ZM-12.5 -26.5L-13.4 -22.0L-15.3 -17.5L-15.2 -16.0L-13.9 -14.5L-11.5 -13.4L-7.0 -14.0L-6.2 -13.0L-6.5 -5.5L-4.3 2.0L-2.6 3.5L-1.0 3.8L6.5 2.1L7.3 0.5L7.0 -5.5L5.1 -16.0L3.5 -20.5L0.5 -23.1L-5.5 -22.9L-10.0 -26.9ZM61.4 -22.0L59.7 -20.5L59.4 -17.5L61.0 -16.0L63.5 -15.2L66.9 -16.0L66.9 -17.5L65.0 -21.2L63.5 -22.4ZM95.0 -85.4L97.0 -85.0L98.8 -82.0L98.0 -79.4L96.5 -78.2L95.0 -78.5L93.5 -82.0L93.6 -83.5ZM111.5 -83.7L113.0 -83.7L114.5 -82.6L114.8 -80.5L114.1 -79.0L111.5 -78.9L109.8 -80.5L109.6 -82.0ZM-122.5 -82.1L-119.5 -82.6L-118.8 -82.0L-118.4 -76.0L-119.6 -74.5L-125.5 -72.0L-130.0 -68.0L-131.5 -68.7L-133.1 -71.5L-133.0 -74.6ZM144.5 -73.1L147.5 -72.9L149.5 -70.0L149.4 -65.5L147.5 -64.1L146.0 -64.4L143.7 -67.0L143.3 -70.0ZM114.5 -55.2L119.8 -55.0L120.0 -53.5L119.0 -51.5L116.0 -48.4L114.5 -48.7L113.0 -52.0L113.0 -54.4ZM131.5 -55.0L137.0 -55.7L141.1 -53.5L141.6 -52.0L140.0 -50.1L138.5 -50.1L133.0 -52.0L131.0 -53.5ZM140.0 -47.4L141.5 -47.2L143.0 -45.1L143.4 -40.0L141.5 -37.5L138.5 -36.9L135.7 -38.5L135.0 -40.0L136.3 -43.0ZM153.5 -44.6L156.5 -45.0L161.0 -43.8L161.0 -29.1L156.5 -28.1L153.5 -28.5L151.9 -29.5L149.9 -32.5L148.1 -38.5L149.8 -41.5ZM110.8 -34.0L113.0 -35.3L117.5 -34.4L119.1 -32.5L117.5 -30.4L114.5 -30.3L111.3 -32.5ZM138.5 -11.1L140.3 -10.0L140.0 -8.2L138.5 -8.3L137.3 -10.0ZM141.5 -1.4L142.0 0.5L140.5 2.0L139.5 2.0L139.2 0.5ZM-160.0 68.1L-145.8 74.0L-145.3 75.5L-146.5 78.3L-149.5 80.6L-160.0 79.5ZM-134.5 75.2L-131.5 74.4L-129.1 75.5L-127.6 77.0L-125.6 81.5L-124.0 82.4L-119.5 81.2L-116.2 83.0L-115.6 84.5L-116.0 86.0L-119.5 92.0L-113.5 98.7L-110.5 99.1L-106.0 97.5L-98.5 98.6L-95.5 100.9L-92.5 106.3L-91.0 107.7L-79.0 111.1L-76.3 113.0L-72.3 120.5L-72.0 123.5L-73.0 125.8L-77.1 129.5L-77.9 131.0L-77.3 144.5L-73.0 146.3L-71.7 147.5L-69.4 153.5L-67.6 155.0L-62.5 156.4L-55.0 155.0L-53.5 156.5L-53.6 161.0L-73.5 161.0L-73.3 156.5L-74.5 155.6L-77.5 156.6L-78.9 161.0L-160.0 161.0L-160.0 93.4L-155.5 94.2L-149.5 93.0L-143.5 92.9L-141.2 92.0L-140.2 90.5L-140.3 83.0ZM117.5 106.8L120.8 108.5L121.5 110.0L120.5 112.1L117.7 111.5L116.1 110.0L116.0 107.8ZM-47.5 120.3L-46.0 120.8L-45.3 122.0L-45.9 123.5L-47.5 124.1L-49.2 123.5L-49.5 122.0ZM99.5 152.1L102.5 152.1L103.8 153.5L107.2 161.0L99.0 161.0L97.8 155.0ZM53.0 153.2L56.0 153.2L60.5 157.2L66.5 158.4L68.6 161.0L46.7 161.0L48.5 156.8ZM18.5 154.8L21.5 154.1L21.9 155.0L19.7 161.0L17.9 161.0L17.1 158.0ZM161.0 154.8L161.0 161.0L157.2 161.0L158.0 156.5L159.5 155.1Z"/><path fill="#ee552b" d="M-62.5 -140.7L-60.0 -140.5L-58.5 -139.0L-58.3 -137.5L-59.5 -136.3L-61.0 -136.2L-63.5 -137.5L-64.1 -139.0ZM-22.0 -134.5L-17.5 -134.7L-13.0 -133.0L-9.9 -130.0L-8.2 -127.0L-9.1 -113.5L-11.3 -107.5L-11.9 -100.0L-9.2 -92.5L-9.7 -88.0L-6.9 -83.5L-8.7 -77.5L-8.6 -74.5L-4.4 -70.0L-3.8 -68.5L-4.9 -62.5L-4.0 -59.5L0.5 -53.5L3.5 -47.6L8.0 -44.7L9.3 -43.0L10.9 -37.0L20.0 -32.6L23.0 -32.8L24.5 -34.0L26.0 -37.0L26.5 -40.0L25.4 -46.0L25.9 -52.0L23.3 -56.5L22.8 -58.0L23.4 -59.5L27.5 -62.7L29.0 -63.0L33.5 -60.9L36.5 -62.3L38.9 -67.0L37.3 -70.0L37.1 -73.0L42.3 -80.5L43.7 -77.5L45.5 -76.9L54.5 -79.1L60.5 -77.9L66.5 -79.5L68.0 -79.3L71.9 -76.0L75.5 -70.0L83.0 -73.8L89.0 -68.0L94.4 -65.5L96.1 -64.0L96.2 -62.5L94.2 -56.5L93.5 -50.9L87.5 -46.0L84.5 -41.4L83.2 -38.5L83.0 -32.5L84.5 -29.6L90.5 -25.8L95.0 -19.8L99.3 -16.0L98.5 -13.0L96.5 -10.6L95.0 -9.9L90.5 -9.4L86.0 -7.3L80.0 -0.8L74.0 -0.7L69.5 1.2L65.0 0.8L56.4 -8.5L56.0 -10.0L56.5 -11.5L57.5 -12.8L59.0 -13.3L66.5 -12.5L68.4 -11.5L72.5 -7.6L74.0 -8.4L77.8 -16.0L77.4 -23.5L75.5 -25.2L72.8 -25.0L71.2 -23.5L71.0 -22.0L69.5 -21.0L67.3 -26.5L63.5 -28.0L62.0 -27.7L59.2 -25.0L57.5 -24.4L57.6 -26.5L60.5 -32.3L60.6 -37.0L56.0 -37.6L50.0 -39.6L48.5 -39.3L47.0 -37.0L47.7 -31.0L46.1 -25.0L47.0 -23.2L50.6 -20.5L50.8 -19.0L47.0 -14.1L45.5 -13.3L39.5 -12.1L34.6 -8.5L26.0 -5.3L21.5 -5.2L15.5 -7.0L11.0 -4.9L9.3 -7.0L6.7 -19.0L4.1 -23.5L0.5 -25.4L-5.5 -26.1L-10.0 -29.3L-13.0 -28.9L-15.5 -26.5L-17.9 -19.0L-18.0 -16.0L-17.4 -14.5L-12.6 -10.0L-11.2 -1.0L-11.7 3.5L-9.9 9.5L-7.0 10.6L-4.0 10.2L2.0 6.6L3.5 6.6L11.0 15.2L17.0 14.8L18.4 17.0L17.6 20.0L14.1 26.0L16.3 33.5L15.9 36.5L14.3 39.5L12.5 40.5L9.5 40.6L-2.5 38.4L-5.5 43.1L-9.5 45.5L-11.5 45.9L-14.3 42.5L-19.0 39.4L-20.1 36.5L-18.7 32.0L-23.5 28.2L-24.8 26.0L-26.7 11.0L-25.8 8.0L-22.6 2.0L-23.9 -4.0L-26.5 -5.8L-32.5 -4.2L-34.0 -4.3L-38.1 -7.0L-40.0 -7.5L-42.7 -7.0L-44.5 -4.3L-46.0 -3.8L-49.0 -8.4L-55.1 -14.5L-61.0 -16.8L-70.0 -16.8L-73.0 -17.8L-74.0 -19.0L-74.6 -23.5L-76.0 -26.4L-79.0 -28.9L-83.5 -29.3L-86.5 -31.0L-90.0 -37.0L-93.6 -49.0L-93.1 -53.5L-90.5 -61.0L-91.7 -64.0L-94.2 -67.0L-95.6 -70.0L-95.3 -71.5L-92.5 -74.2L-89.5 -75.3L-88.0 -75.0L-86.5 -73.7L-85.5 -71.5L-84.8 -62.5L-83.5 -60.7L-82.0 -60.6L-79.0 -67.0L-74.0 -73.0L-75.2 -77.5L-74.5 -78.0L-72.3 -77.5L-70.3 -74.5L-63.1 -70.0L-58.0 -68.0L-56.5 -68.6L-55.5 -71.5L-58.9 -79.0L-58.0 -82.9L-56.5 -84.0L-53.5 -84.6L-50.5 -84.2L-47.5 -82.9L-44.5 -83.2L-36.0 -92.5L-35.3 -94.0L-35.5 -96.1L-37.0 -98.1L-43.0 -101.0L-49.3 -107.5L-47.5 -108.9L-44.5 -107.7L-43.0 -108.0L-41.5 -109.4L-41.2 -112.0L-43.8 -118.0L-43.3 -121.0L-41.5 -122.2L-35.5 -122.7L-34.5 -124.0L-36.2 -128.5L-35.9 -130.0L-34.0 -132.2L-28.0 -132.8ZM56.9 -47.5L57.1 -46.0L60.5 -42.6L62.0 -41.6L63.5 -42.9L64.1 -44.5L63.5 -46.2L59.0 -48.3ZM-76.0 -40.6L-82.0 -38.4L-83.6 -37.0L-82.6 -35.5L-77.5 -32.2L-74.5 -33.9L-73.5 -37.0L-74.5 -40.2ZM83.3 -17.5L82.7 -16.0L86.0 -13.2L89.0 -12.6L90.5 -14.3L90.4 -16.0L88.8 -17.5L86.0 -18.1ZM-82.0 -82.2L-79.7 -82.0L-78.4 -80.5L-79.8 -79.0L-83.5 -78.0L-85.0 -77.9L-87.3 -79.0L-86.9 -80.5ZM104.0 -50.7L104.0 -48.3L102.5 -47.1L101.0 -47.5L101.4 -49.0ZM155.0 -42.0L158.0 -41.6L158.4 -40.0L155.0 -37.1L153.7 -38.5L153.5 -40.0ZM155.0 -36.9L158.6 -34.0L159.3 -32.5L158.0 -31.1L155.3 -31.0L153.8 -32.5L153.5 -35.2ZM-160.0 71.6L-156.8 72.5L-156.0 74.0L-157.0 75.6L-160.0 76.2ZM-133.0 79.5L-131.5 79.4L-130.0 80.6L-125.5 86.6L-124.0 87.5L-124.4 92.0L-123.8 93.5L-119.2 96.5L-115.0 100.6L-112.0 101.5L-107.5 101.2L-103.0 102.7L-98.5 101.9L-97.0 102.8L-92.5 109.4L-85.0 112.2L-79.0 113.4L-74.5 119.4L-73.5 123.5L-74.2 125.0L-78.8 129.5L-81.7 138.5L-82.6 146.0L-82.0 147.5L-78.9 150.5L-78.6 152.0L-81.9 161.0L-160.0 161.0L-160.0 96.2L-155.5 97.0L-149.5 95.1L-143.5 95.4L-140.5 96.6L-136.0 104.6L-134.5 104.8L-129.0 102.5L-127.9 101.0L-128.4 98.0L-134.5 94.2L-137.1 86.0L-136.5 83.0ZM-153.5 111.5L-154.3 113.0L-152.5 114.1L-150.4 113.0L-150.3 111.5L-151.0 110.7ZM53.0 156.2L56.0 157.5L57.8 161.0L48.1 161.0L50.0 157.5ZM-68.5 158.6L-56.5 157.2L-55.6 158.0L-55.2 161.0L-70.2 161.0Z"/><path fill="#dc2c28" d="M-20.5 -133.1L-17.5 -132.9L-13.9 -131.5L-11.5 -128.5L-10.7 -125.5L-11.0 -119.5L-13.2 -112.0L-14.0 -100.0L-12.0 -92.5L-13.4 -86.5L-11.5 -80.5L-11.5 -74.5L-10.6 -68.5L-6.1 -59.5L-1.6 -53.5L1.9 -46.0L4.8 -41.5L5.1 -37.0L8.7 -34.0L14.8 -31.0L17.8 -28.0L14.8 -23.5L14.5 -20.5L15.5 -18.0L17.0 -17.7L20.0 -20.5L20.9 -23.5L20.3 -26.5L21.2 -28.0L24.5 -29.8L27.6 -34.0L29.3 -52.0L28.1 -56.5L29.0 -57.9L33.5 -57.1L37.0 -58.0L42.9 -67.0L43.7 -71.5L49.4 -76.0L53.0 -77.7L56.0 -77.7L60.5 -76.3L66.5 -77.2L68.0 -76.8L70.4 -74.5L71.9 -68.5L74.0 -65.6L77.0 -65.3L80.0 -68.6L81.5 -69.7L83.0 -69.7L91.4 -62.5L91.9 -61.0L89.3 -56.5L88.8 -52.0L80.7 -40.0L80.0 -28.9L78.5 -28.0L72.5 -28.2L68.0 -30.5L66.0 -32.5L66.2 -40.0L70.0 -46.0L70.3 -47.5L69.3 -49.0L57.5 -52.7L53.0 -53.4L50.0 -51.8L45.4 -44.5L44.7 -37.0L45.0 -31.0L41.6 -26.5L41.2 -25.0L44.5 -20.5L45.2 -19.0L44.9 -17.5L42.5 -16.3L36.5 -15.0L28.0 -8.5L24.5 -6.9L21.5 -7.1L13.9 -11.5L11.0 -15.4L6.9 -23.5L5.0 -25.3L2.0 -26.9L-4.0 -28.0L-8.5 -30.7L-13.0 -30.5L-16.0 -28.9L-17.7 -26.5L-20.2 -20.5L-20.7 -17.5L-20.2 -14.5L-19.0 -12.6L-15.9 -10.0L-15.3 -8.5L-16.0 -2.8L-17.5 -2.2L-23.5 -7.5L-26.5 -8.1L-34.0 -7.5L-44.5 -11.1L-47.5 -13.1L-52.0 -18.2L-56.5 -18.4L-61.0 -19.9L-65.5 -19.6L-70.1 -20.5L-73.7 -28.0L-73.2 -31.0L-70.0 -35.4L-68.5 -36.0L-64.0 -34.5L-62.7 -35.5L-62.4 -37.0L-64.0 -38.7L-68.5 -38.6L-69.9 -40.0L-68.6 -46.0L-68.9 -47.5L-70.0 -48.8L-73.0 -48.7L-79.7 -43.0L-83.5 -42.7L-86.5 -43.6L-89.4 -46.0L-90.2 -49.0L-89.6 -50.5L-88.0 -51.5L-85.0 -51.3L-83.9 -52.0L-82.6 -55.0L-77.8 -58.0L-77.4 -64.0L-76.0 -66.5L-74.5 -67.4L-70.0 -69.4L-67.0 -69.7L-62.5 -67.5L-58.0 -63.7L-56.5 -64.0L-53.2 -67.0L-51.2 -70.0L-51.0 -73.0L-52.0 -75.8L-54.7 -79.0L-54.2 -80.5L-52.0 -81.0L-47.5 -79.9L-43.0 -81.3L-38.5 -87.4L-32.9 -92.5L-32.3 -94.0L-32.8 -97.0L-34.0 -98.9L-41.4 -103.0L-41.6 -104.5L-39.6 -107.5L-38.7 -110.5L-40.1 -118.0L-38.5 -118.9L-32.5 -118.5L-30.4 -121.0L-29.2 -128.5L-25.1 -131.5ZM-92.5 -71.7L-89.5 -72.4L-87.9 -71.5L-86.9 -68.5L-88.0 -65.1L-89.5 -64.8L-92.5 -67.4L-93.5 -70.0ZM81.5 -25.6L83.0 -26.0L85.9 -25.0L88.6 -22.0L87.5 -21.3L83.0 -21.5L81.5 -23.2ZM80.0 -12.5L83.0 -11.8L83.9 -10.0L80.0 -5.4L78.5 -5.1L77.2 -7.0L77.3 -8.5L78.5 -11.2ZM63.5 -10.3L66.5 -10.1L68.1 -8.5L69.6 -4.0L68.7 -2.5L66.5 -2.2L63.5 -4.7L62.0 -8.5ZM-22.0 8.0L-20.5 7.5L-18.0 8.0L-16.6 9.5L-16.8 11.0L-19.0 12.4L-22.0 12.5L-23.3 11.0L-23.2 9.5ZM-5.5 13.9L0.5 15.5L5.0 14.7L7.6 17.0L8.8 21.5L5.1 27.5L5.2 29.0L6.5 29.9L11.0 30.1L13.7 32.0L14.4 33.5L14.3 36.5L12.5 38.9L9.5 39.4L4.7 38.0L-1.0 34.2L-2.5 34.0L-8.5 36.4L-10.9 36.5L-12.3 35.0L-13.4 30.5L-14.5 29.2L-22.0 25.7L-23.4 21.5L-23.2 20.0L-22.0 18.5L-16.0 18.5L-10.0 15.1ZM-149.5 97.3L-145.0 97.4L-142.2 99.5L-140.1 104.0L-140.2 108.5L-139.5 110.0L-136.0 112.9L-133.0 112.8L-132.1 111.5L-132.5 108.5L-131.5 106.3L-128.5 105.0L-125.5 104.9L-125.2 107.0L-128.4 113.0L-127.0 115.3L-125.5 116.0L-124.0 115.5L-118.0 110.4L-115.0 104.3L-112.0 103.9L-109.0 104.4L-106.0 106.1L-100.0 105.2L-98.5 105.5L-95.0 110.0L-92.5 112.0L-83.5 116.9L-80.5 117.2L-77.5 118.8L-75.8 120.5L-75.3 123.5L-79.5 128.0L-82.7 134.0L-86.5 138.2L-89.5 144.1L-94.0 147.4L-96.0 150.5L-95.5 152.3L-94.0 152.8L-92.4 152.0L-89.5 147.5L-86.5 148.9L-83.5 151.9L-82.8 153.5L-83.0 156.5L-84.5 161.0L-160.0 161.0L-160.0 116.0L-154.0 116.9L-151.0 116.6L-148.4 114.5L-147.4 111.5L-148.0 109.2L-151.0 106.4L-152.5 106.4L-157.0 110.4L-160.0 111.0L-160.0 100.4L-154.0 100.0ZM-146.8 152.0L-148.1 153.5L-147.7 155.0L-146.5 155.5L-144.9 153.5L-145.6 152.0ZM-124.0 98.8L-122.5 98.4L-120.0 99.5L-119.1 101.0L-119.5 101.9L-124.0 103.0ZM51.5 159.0L53.0 159.0L54.8 161.0L49.7 161.0ZM-62.4 161.0L-58.0 159.8L-57.4 161.0Z"/><path fill="#bf1a27" d="M-22.0 -130.3L-19.0 -131.1L-16.0 -130.5L-13.8 -128.5L-13.0 -125.5L-13.6 -122.5L-14.5 -121.8L-17.5 -122.1L-19.0 -121.5L-24.9 -113.5L-23.5 -111.6L-17.5 -110.2L-16.0 -109.2L-15.2 -107.5L-16.0 -98.5L-14.0 -92.5L-16.0 -88.9L-18.3 -88.0L-19.8 -86.5L-14.7 -77.5L-14.3 -74.5L-15.0 -68.5L-9.8 -62.5L-2.1 -50.5L-0.8 -44.5L-3.5 -41.5L-3.7 -40.0L-2.5 -36.7L-1.0 -35.4L11.3 -29.5L12.4 -28.0L12.3 -26.5L11.0 -24.2L9.5 -24.6L6.5 -27.3L-5.5 -32.4L-14.5 -31.4L-18.9 -28.0L-23.2 -20.5L-23.0 -11.5L-25.0 -10.6L-32.5 -10.1L-45.3 -14.5L-46.8 -16.0L-49.1 -22.0L-50.5 -22.7L-55.0 -22.3L-56.5 -23.1L-60.4 -29.5L-60.0 -38.5L-61.0 -40.5L-65.6 -43.0L-67.0 -49.7L-70.0 -51.6L-77.5 -51.3L-78.3 -52.0L-77.9 -53.5L-75.4 -56.5L-74.8 -62.5L-74.0 -64.0L-67.0 -67.0L-64.0 -65.8L-59.5 -60.9L-56.1 -61.0L-52.0 -64.6L-49.0 -68.5L-47.3 -76.0L-41.5 -78.9L-35.5 -87.6L-29.5 -89.5L-28.2 -91.0L-28.3 -95.5L-35.5 -107.5L-35.5 -112.0L-34.5 -113.5L-29.5 -116.0L-26.5 -125.1ZM53.0 -76.2L56.0 -76.2L60.5 -74.7L65.0 -75.2L67.4 -74.5L68.6 -73.0L69.5 -67.0L71.0 -64.4L74.0 -62.6L79.5 -61.0L84.5 -55.2L84.8 -52.0L83.4 -47.5L81.5 -45.0L78.5 -44.3L75.5 -46.3L73.0 -50.5L71.0 -52.3L56.0 -56.7L51.5 -56.2L47.7 -53.5L43.0 -46.0L42.3 -34.0L41.0 -31.0L35.8 -26.5L29.3 -23.5L26.0 -21.0L25.3 -25.0L29.9 -34.0L30.5 -44.5L32.0 -49.9L33.5 -52.1L39.8 -55.0L41.4 -61.0L45.1 -65.5L47.1 -71.5ZM69.5 -40.1L71.0 -41.0L72.5 -40.4L77.0 -36.8L77.9 -34.0L76.3 -31.0L74.0 -30.6L70.5 -32.5L69.2 -35.5ZM-68.5 -31.7L-65.3 -31.0L-64.5 -29.5L-67.3 -28.0L-70.0 -28.4L-70.0 -30.5ZM23.0 -17.6L24.5 -18.6L26.0 -17.7L28.0 -14.5L25.5 -10.0L23.0 -9.0L20.7 -10.0L19.6 -13.0ZM-5.5 17.0L-1.0 18.0L3.5 17.7L5.0 18.2L6.0 20.0L5.0 23.2L0.6 26.0L-1.9 29.0L-5.5 30.1L-6.2 29.0L-5.3 26.0L-10.0 26.4L-12.9 24.5L-13.4 23.0L-12.7 21.5ZM8.0 33.5L11.0 33.2L12.4 35.0L12.1 36.5L11.0 37.5L8.0 36.9L6.6 35.0ZM-148.8 101.0L-146.5 99.8L-145.0 100.5L-143.4 102.5L-143.5 105.5L-145.0 106.5L-146.5 105.9L-148.0 104.0ZM-160.0 103.9L-157.0 105.5L-157.4 107.0L-160.0 108.1ZM-112.0 106.8L-106.0 108.9L-100.0 108.2L-95.5 113.0L-89.5 116.3L-85.0 119.9L-78.2 122.0L-77.8 123.5L-78.8 125.0L-85.0 132.3L-88.0 134.5L-91.0 140.6L-98.0 149.0L-98.5 153.9L-97.0 156.0L-93.0 158.0L-94.1 161.0L-97.4 161.0L-98.5 159.5L-100.0 159.5L-100.9 161.0L-136.0 161.0L-136.6 158.0L-139.6 152.0L-141.1 146.0L-142.0 137.7L-143.5 134.8L-146.5 135.3L-148.6 137.0L-148.9 140.0L-145.8 146.0L-149.5 149.5L-151.1 152.0L-152.0 161.0L-160.0 161.0L-160.0 119.1L-154.0 119.5L-149.5 118.9L-148.0 117.9L-145.0 112.0L-143.5 110.9L-140.5 112.0L-136.0 115.1L-131.5 116.2L-129.9 117.5L-127.8 122.0L-125.5 122.6L-120.6 116.0L-116.5 112.1L-113.5 107.6ZM-100.3 120.5L-101.0 122.0L-100.6 123.5L-98.5 123.6L-98.5 120.4ZM-146.1 123.5L-146.5 126.5L-143.5 132.1L-142.0 133.4L-139.0 132.4L-138.1 128.0L-138.7 125.0L-140.5 123.4L-143.5 122.3L-145.0 122.5ZM-132.6 146.0L-132.6 147.5L-131.5 148.5L-130.0 148.7L-128.2 147.5L-128.4 146.0L-130.0 144.7L-131.5 144.9ZM-88.0 153.2L-86.1 155.0L-86.5 156.9L-88.0 157.9L-91.0 157.2L-91.6 156.5L-90.5 155.0Z"/><path fill="#981922" d="M-29.5 -109.3L-28.0 -109.8L-20.5 -108.6L-17.5 -106.8L-17.1 -104.5L-18.5 -98.5L-16.6 -94.0L-17.5 -91.9L-20.5 -91.6L-23.0 -92.5L-25.7 -97.0L-28.5 -100.0L-30.0 -104.5L-30.2 -107.5ZM-34.0 -85.5L-26.5 -86.0L-25.0 -85.7L-22.2 -83.5L-20.1 -79.0L-21.5 -74.5L-21.3 -73.0L-17.6 -67.0L-11.5 -61.8L-4.8 -52.0L-3.9 -49.0L-4.5 -46.0L-6.8 -43.0L-6.2 -37.0L-6.8 -35.5L-9.0 -34.0L-17.5 -31.6L-23.5 -25.2L-28.4 -22.0L-28.1 -14.5L-31.0 -13.6L-41.5 -15.6L-44.5 -16.9L-45.7 -19.0L-46.2 -22.0L-45.1 -29.5L-49.0 -30.6L-50.5 -30.1L-52.0 -27.6L-53.5 -26.6L-57.0 -34.0L-57.2 -44.5L-58.0 -45.5L-62.5 -46.3L-65.5 -53.5L-71.4 -55.0L-72.5 -58.0L-71.5 -61.5L-68.5 -62.7L-66.7 -62.5L-62.8 -59.5L-59.5 -58.1L-56.5 -57.8L-53.5 -58.8L-49.0 -64.4L-44.5 -72.1L-41.5 -73.8L-35.5 -75.3L-36.2 -82.0L-35.5 -84.2ZM51.5 -73.2L54.5 -74.5L59.0 -72.7L65.1 -73.0L66.3 -71.5L66.5 -70.0L63.5 -59.1L62.0 -58.6L56.0 -60.0L53.0 -59.9L45.5 -55.8L44.0 -56.4L44.0 -60.4L47.3 -64.0L48.7 -70.0ZM72.5 -58.2L74.6 -58.0L79.1 -53.5L80.1 -52.0L80.0 -49.5L78.5 -49.0L77.0 -50.4L74.8 -55.0L72.7 -56.5ZM35.0 -49.1L38.0 -50.2L39.5 -50.1L40.7 -49.0L40.6 -40.0L37.4 -32.5L35.0 -29.7L33.5 -28.9L31.7 -29.5L32.6 -34.0L31.9 -41.5L33.0 -46.0ZM-110.5 111.2L-102.7 113.0L-102.7 116.0L-105.9 125.0L-104.7 126.5L-101.5 127.6L-95.5 126.9L-94.0 127.7L-90.9 132.5L-92.2 138.5L-99.9 147.5L-102.0 153.5L-103.4 161.0L-133.8 161.0L-133.7 155.0L-133.0 153.3L-130.0 153.2L-125.5 155.2L-122.3 153.5L-120.3 150.5L-122.5 146.0L-127.0 141.5L-128.5 135.7L-133.0 135.1L-134.5 133.1L-135.9 129.5L-135.1 123.5L-136.1 122.0L-143.5 118.3L-144.3 116.0L-143.6 114.5L-142.0 113.9L-140.5 114.4L-134.0 119.0L-132.4 122.0L-125.5 126.6L-124.0 126.3L-121.0 122.4L-119.5 121.5L-115.0 122.3L-113.5 122.2L-112.0 120.8L-110.6 116.0L-111.8 111.5ZM-113.6 147.5L-117.6 150.5L-117.4 152.0L-115.0 155.6L-113.5 156.0L-110.3 153.5L-108.9 149.0L-109.0 147.5L-110.5 146.5ZM-94.0 118.2L-92.5 117.8L-90.0 119.0L-87.7 122.0L-88.0 122.7L-92.5 123.3L-94.0 122.2L-94.5 120.5ZM-160.0 122.5L-154.0 123.5L-151.4 125.0L-149.5 127.9L-148.9 131.0L-151.1 134.0L-152.2 138.5L-150.3 146.0L-154.7 155.0L-157.0 156.7L-160.0 156.4ZM-137.5 136.8L-133.0 136.3L-131.7 138.5L-131.9 140.0L-136.0 144.2L-137.5 144.2L-139.0 141.5L-139.2 138.5Z"/><path fill="#e8f4fc" d="M66.5 -157.6L68.0 -156.8L70.2 -152.5L70.2 -145.0L71.0 -143.6L75.5 -144.2L76.5 -143.5L76.1 -142.0L72.5 -138.6L71.4 -130.0L73.0 -125.5L78.5 -120.8L79.2 -119.5L78.9 -118.0L77.0 -117.1L72.5 -117.2L70.4 -116.5L67.0 -113.5L65.0 -110.1L57.5 -112.3L54.5 -112.0L53.9 -107.5L51.8 -101.5L50.0 -100.6L48.5 -101.0L45.5 -102.7L41.0 -104.0L38.5 -106.0L29.2 -121.0L28.1 -125.5L35.0 -135.4L39.7 -140.5L42.2 -146.5L44.0 -148.4L47.0 -149.2L48.5 -148.4L52.8 -142.0L56.0 -140.9L56.9 -142.0L56.1 -145.0L56.7 -146.5L60.5 -149.6L63.7 -155.5ZM-109.0 -3.5L-107.5 -3.0L-104.5 2.0L-106.7 8.0L-105.5 9.5L-100.0 11.3L-97.0 13.7L-94.0 14.1L-89.5 13.7L-85.0 9.7L-83.5 9.2L-73.0 10.3L-68.1 12.5L-61.0 19.7L-56.6 23.0L-55.7 24.5L-56.0 26.0L-58.9 32.0L-61.2 35.0L-62.1 38.0L-61.4 47.0L-60.9 48.5L-59.5 49.6L-58.0 49.6L-52.0 46.7L-48.5 48.5L-41.5 54.1L-38.5 55.2L-34.0 55.9L-28.0 55.3L-4.0 58.3L-1.5 60.5L0.5 66.9L3.5 67.8L20.0 68.6L21.7 69.5L25.9 75.5L29.0 77.1L30.5 76.0L31.5 71.0L36.0 65.0L36.9 60.5L34.7 50.0L26.0 44.0L24.5 41.0L24.6 39.5L26.0 36.9L32.8 29.0L35.5 21.5L38.0 17.6L41.0 15.0L44.0 14.8L45.5 16.3L47.8 21.5L51.5 27.1L59.0 33.0L62.2 36.5L63.7 39.5L63.6 47.0L64.8 53.0L63.8 54.5L57.5 56.7L54.3 59.0L53.5 62.0L54.5 64.7L57.9 71.0L63.5 76.3L71.0 79.4L76.8 80.0L78.4 81.5L78.5 85.0L74.0 88.6L73.2 90.5L75.1 96.5L73.9 102.5L77.0 107.2L77.9 110.0L77.4 116.0L77.0 116.4L71.6 113.0L68.0 111.8L65.1 113.0L62.8 116.0L60.6 117.5L54.5 119.2L51.5 118.9L47.0 115.6L44.0 115.5L41.0 117.1L40.1 119.0L41.0 121.9L43.8 125.0L43.8 126.5L42.8 128.0L41.0 128.0L36.5 125.5L33.5 125.9L29.0 131.7L21.5 136.9L18.5 137.2L16.4 135.5L14.0 134.7L5.0 135.2L-1.0 134.6L-10.0 132.2L-13.0 133.1L-14.4 135.5L-12.6 141.5L-13.8 143.0L-16.0 142.6L-18.8 140.0L-20.5 139.5L-25.9 140.0L-26.8 138.5L-26.6 137.0L-24.1 132.5L-25.5 131.0L-29.5 129.6L-31.5 128.0L-32.5 125.3L-33.1 119.0L-36.1 110.0L-38.5 106.1L-41.5 105.1L-46.0 105.5L-56.5 103.6L-59.5 97.9L-61.2 96.5L-66.4 95.0L-67.8 93.5L-70.0 85.0L-71.2 83.0L-80.5 81.5L-82.5 80.0L-82.8 75.5L-83.5 74.7L-85.0 74.4L-86.5 75.4L-87.7 78.5L-89.5 80.2L-92.5 80.4L-94.6 78.5L-96.1 72.5L-95.9 56.0L-98.9 50.0L-98.8 44.0L-101.5 38.0L-100.5 35.0L-97.6 32.0L-96.9 29.0L-98.5 28.0L-103.0 30.3L-104.5 30.1L-106.7 27.5L-107.8 21.5L-109.1 18.5L-109.3 11.0L-112.0 6.8L-112.4 5.0ZM-56.5 55.7L-67.0 58.6L-72.6 62.0L-73.0 63.5L-72.5 65.0L-68.5 71.6L-67.0 72.2L-65.5 70.9L-63.1 65.0L-61.0 62.1L-56.5 60.4L-55.0 59.1L-55.0 56.4ZM-51.6 65.0L-52.4 66.5L-50.5 67.9L-49.0 66.5L-49.8 65.0ZM75.5 39.2L75.9 41.0L75.5 41.6L74.0 41.0L74.1 39.5ZM84.5 46.8L89.0 48.1L95.0 47.5L99.3 51.5L100.0 53.0L99.5 54.5L96.5 56.3L95.0 56.4L89.0 54.5L80.0 55.5L76.1 57.5L74.0 60.0L69.5 56.5L68.9 54.5L71.0 51.1L74.0 50.1L78.5 50.6ZM90.8 99.5L93.5 98.2L95.3 99.5L95.0 102.8L93.5 104.1L92.0 103.7L90.5 101.4Z"/><path fill="#cde9f8" d="M65.0 -151.1L66.5 -151.6L66.8 -148.0L65.0 -144.2L63.5 -143.6L61.7 -145.0ZM45.5 -145.5L47.0 -145.1L50.1 -140.5L52.2 -139.0L63.5 -137.1L68.0 -135.7L69.3 -133.0L70.4 -127.0L72.9 -121.0L71.9 -119.5L63.5 -115.2L60.5 -115.2L54.5 -116.9L53.0 -116.3L50.8 -113.5L48.5 -107.5L45.5 -106.2L42.5 -106.0L39.9 -107.5L37.6 -112.0L33.5 -116.3L30.4 -122.5L30.1 -125.5L35.0 -133.1L41.7 -139.0L44.0 -144.4ZM-82.0 12.2L-77.5 11.6L-73.0 12.3L-70.0 13.6L-67.9 15.5L-63.4 23.0L-62.1 30.5L-64.8 36.5L-65.2 39.5L-62.3 53.0L-64.0 54.9L-76.0 60.5L-80.6 65.0L-82.5 68.0L-88.0 69.6L-91.0 73.5L-92.5 73.4L-92.5 69.6L-89.8 66.5L-90.0 65.0L-92.8 60.5L-93.3 54.5L-94.8 48.5L-93.3 47.0L-88.0 45.6L-87.2 44.0L-88.0 42.1L-95.5 42.6L-97.0 41.9L-99.0 39.5L-98.7 36.5L-94.4 32.0L-92.0 26.0L-92.8 24.5L-98.0 20.0L-97.5 18.5L-95.4 17.0L-92.5 16.1L-85.0 16.8ZM39.5 18.2L42.5 17.0L44.0 17.7L50.5 29.0L57.5 33.6L62.0 39.5L61.4 51.5L59.0 54.1L53.6 57.5L51.9 60.5L52.1 63.5L54.0 68.0L52.9 74.0L54.5 75.7L60.5 77.1L67.0 80.0L71.3 83.0L71.9 84.5L69.8 92.0L72.1 96.5L71.6 102.5L74.9 108.5L74.7 110.0L72.5 110.5L64.6 108.5L63.5 108.9L60.5 115.1L57.5 116.9L54.5 117.7L51.5 117.2L47.0 113.7L44.0 113.8L39.5 115.2L37.4 117.5L36.5 121.1L30.5 124.9L26.0 131.3L21.5 133.5L17.0 131.8L6.5 132.9L-1.0 130.7L-10.0 129.9L-13.0 128.6L-14.5 125.9L-16.0 124.8L-19.0 125.0L-26.5 128.1L-29.5 127.4L-31.1 125.0L-31.9 119.0L-36.0 107.0L-38.5 103.4L-41.2 101.0L-44.5 95.3L-47.5 94.2L-50.4 96.5L-52.0 99.1L-53.6 99.5L-53.9 98.0L-52.2 95.0L-49.0 92.0L-47.5 89.5L-47.5 85.1L-49.0 83.9L-53.5 83.3L-58.0 79.0L-64.0 80.5L-65.2 78.5L-64.0 75.6L-59.5 69.7L-58.0 69.5L-53.5 72.8L-52.0 72.9L-47.3 69.5L-46.0 67.1L-45.8 65.0L-49.7 59.0L-49.7 57.5L-48.1 54.5L-46.0 54.1L-40.0 56.6L-35.5 57.6L-26.5 57.3L-5.5 59.7L-3.0 62.0L-2.5 66.5L-1.0 68.6L2.0 69.3L18.7 69.5L21.0 71.0L24.5 76.6L29.0 80.2L30.5 80.5L32.4 78.5L33.5 72.2L35.0 69.5L38.0 67.4L42.5 66.9L43.3 65.0L42.8 62.0L38.5 57.5L37.2 50.0L35.0 47.9L27.7 44.0L25.9 41.0L26.7 38.0L35.0 29.0L37.2 21.5ZM42.5 68.5L40.9 71.0L41.4 72.5L42.5 73.0L44.1 72.5L44.6 71.0L44.0 69.5ZM-77.5 68.9L-76.0 68.1L-74.5 68.5L-73.0 70.4L-73.0 73.2L-74.5 75.9L-76.0 76.2L-76.3 75.5L-78.0 71.0ZM-64.0 87.8L-62.5 87.6L-59.2 89.0L-58.9 90.5L-59.7 92.0L-62.5 92.9L-64.7 92.0L-65.3 90.5Z"/><path fill="#b2def4" d="M45.5 -138.1L51.5 -136.6L60.5 -135.6L65.0 -133.9L67.5 -131.5L69.5 -122.5L68.0 -120.4L62.0 -118.3L59.0 -118.8L54.5 -121.2L53.0 -120.9L48.1 -115.0L46.1 -110.5L44.0 -109.0L42.5 -109.3L40.4 -113.5L35.0 -117.3L32.3 -122.5L31.9 -125.5L33.1 -128.5L36.5 -132.6ZM50.0 -129.0L50.0 -126.9L51.5 -125.3L52.2 -127.0L51.8 -128.5ZM-91.0 18.9L-89.0 20.0L-89.5 21.3L-91.8 20.0ZM41.0 19.7L42.5 19.7L44.0 20.8L48.6 30.5L57.5 35.6L59.7 38.0L60.8 41.0L60.1 48.5L59.0 51.3L56.0 54.0L50.0 57.0L48.5 63.4L45.5 59.2L41.4 56.0L40.7 51.5L38.7 48.5L36.5 46.8L30.0 44.0L27.5 41.0L28.5 38.0L36.2 30.5L39.2 21.5ZM-85.0 22.8L-82.0 23.3L-80.4 27.5L-74.5 32.1L-73.0 32.1L-68.5 29.3L-66.5 30.5L-66.5 33.5L-71.5 40.5L-73.0 41.0L-77.5 38.7L-82.0 38.6L-84.7 36.5L-83.4 30.5L-83.5 29.0L-85.9 24.5ZM-91.0 35.0L-88.9 36.5L-89.9 38.0L-94.0 39.1L-95.5 38.5L-94.9 36.5L-92.5 35.0ZM-83.5 45.8L-82.0 45.6L-79.0 50.3L-77.5 51.4L-74.5 50.4L-68.5 45.5L-67.0 45.7L-65.2 50.0L-65.4 53.0L-70.3 56.0L-77.5 57.0L-86.5 59.7L-87.8 59.0L-87.9 57.5L-86.9 56.0L-86.6 51.5L-85.5 48.5ZM-43.0 58.5L-37.0 59.7L-28.0 59.1L-8.5 60.5L-5.7 62.0L-4.5 68.0L-3.3 69.5L-1.0 70.6L18.5 70.8L28.1 83.0L30.5 89.9L32.3 89.0L33.0 84.5L36.5 76.0L42.5 76.8L48.5 74.7L53.0 77.9L59.0 78.4L62.0 79.4L66.3 81.5L68.8 84.5L68.8 87.5L66.4 93.5L68.1 99.5L68.0 104.5L65.0 104.3L62.0 105.5L59.6 113.0L56.0 115.9L53.0 116.2L48.5 112.4L47.0 111.9L36.5 113.8L35.0 114.9L32.9 119.0L27.5 122.9L25.7 128.0L23.0 130.6L21.5 130.7L17.0 128.5L11.0 130.7L6.5 130.3L4.7 128.0L3.9 122.0L2.0 120.6L0.5 120.6L-1.0 121.9L-2.8 126.5L-5.5 128.1L-8.5 128.0L-12.5 123.5L-17.5 122.0L-22.0 122.4L-25.4 125.0L-28.0 125.3L-29.4 123.5L-29.8 120.5L-32.7 114.5L-35.5 104.7L-44.5 90.5L-45.3 84.5L-46.3 83.0L-51.4 80.0L-51.6 78.5L-49.9 75.5L-43.4 68.0L-43.0 65.0L-44.2 59.0ZM20.0 116.0L18.6 120.5L20.0 122.0L23.7 120.5L24.9 119.0L25.1 117.5L24.5 115.9L23.0 115.0Z"/><path fill="#97d3f3" d="M35.9 -130.0L44.0 -133.9L45.9 -133.0L48.5 -122.5L48.1 -119.5L45.5 -116.6L44.0 -115.8L41.0 -116.6L36.5 -118.9L33.8 -124.0L34.0 -127.0ZM54.5 -133.1L56.0 -133.9L59.0 -134.1L62.0 -133.4L64.9 -131.5L66.6 -128.5L66.2 -124.0L62.0 -122.2L59.0 -122.5L57.5 -123.4L55.3 -127.0ZM42.5 23.8L44.0 25.2L45.5 30.5L46.7 32.0L56.0 36.3L58.9 39.5L59.4 42.5L58.7 47.0L57.5 49.9L56.0 51.5L53.0 52.0L48.9 50.0L42.5 48.9L38.0 45.6L30.7 42.5L29.7 41.0L30.6 38.0L36.5 33.4L41.0 24.8ZM-71.5 51.4L-70.0 50.2L-68.5 50.6L-68.2 51.5L-69.6 53.0L-71.5 53.1ZM-34.0 61.9L-29.5 60.9L-22.0 62.7L-16.0 61.8L-10.0 62.1L-7.8 63.5L-5.8 69.5L-2.5 71.9L8.0 74.1L9.5 74.2L15.5 71.9L18.3 72.5L25.3 83.0L28.1 92.0L30.5 93.9L32.0 93.8L33.5 92.5L36.3 86.0L38.0 84.3L42.5 84.2L48.5 86.2L50.0 86.0L51.8 81.5L53.0 80.8L57.5 79.8L62.0 81.0L65.4 83.0L66.9 86.0L66.0 89.0L63.0 93.5L63.9 99.5L63.3 101.0L59.7 105.5L57.5 112.6L54.5 114.5L53.0 114.2L48.5 110.2L39.5 111.4L35.0 110.3L33.7 108.5L33.5 103.8L32.3 102.5L27.5 103.5L26.0 104.5L23.1 108.5L16.5 113.0L13.2 120.5L11.8 126.5L11.0 127.7L9.5 128.2L7.6 126.5L7.3 120.5L6.5 119.0L0.5 116.9L-4.0 117.1L-8.5 121.1L-10.0 121.5L-17.5 120.1L-22.0 118.4L-28.0 118.6L-31.5 114.5L-34.8 102.5L-42.8 89.0L-43.7 83.0L-48.1 78.5L-47.4 75.5L-46.0 73.7L-43.0 72.0L-38.1 71.0L-36.9 69.5L-36.9 65.0L-36.2 63.5Z"/><path fill="#74bbe4" d="M59.0 -132.1L61.8 -131.5L63.6 -130.0L64.2 -127.0L63.0 -125.5L60.5 -124.9L59.0 -125.4L57.5 -127.0L57.0 -130.0L57.5 -131.5ZM39.5 -130.1L42.8 -130.0L44.9 -127.0L45.9 -122.5L45.5 -120.6L44.0 -119.0L42.5 -118.7L39.5 -119.6L37.5 -121.0L35.7 -124.0L35.7 -127.0L36.5 -128.3ZM41.0 32.5L42.5 32.5L50.0 35.3L56.0 38.4L57.5 40.7L57.7 42.5L56.0 47.8L54.5 48.8L44.0 47.5L38.0 43.4L32.9 41.0L32.6 39.5L33.6 38.0L38.0 35.6ZM-31.0 63.3L-26.5 63.6L-20.5 68.9L-19.0 68.2L-16.0 64.9L-11.5 64.6L-7.8 69.5L-4.0 73.0L8.0 77.3L11.0 76.8L15.5 74.1L17.0 74.5L23.4 84.5L25.8 93.5L25.7 96.5L23.7 99.5L21.6 105.5L20.5 107.0L15.5 109.7L11.0 114.2L9.5 114.9L5.0 115.4L0.5 114.4L-2.5 114.7L-11.5 118.9L-16.0 118.6L-22.0 115.9L-26.5 116.4L-29.5 115.2L-31.0 112.2L-32.7 104.0L-37.0 93.3L-41.1 87.5L-41.5 81.1L-44.7 77.0L-43.2 75.5L-40.0 75.2L-36.3 72.5L-34.2 69.5L-32.9 65.0ZM54.5 83.0L57.5 81.7L60.5 82.2L63.5 84.0L64.6 86.0L64.3 87.5L62.0 89.8L55.7 92.0L56.0 93.5L59.0 96.4L60.4 99.5L56.0 110.8L54.5 111.8L48.5 108.2L41.0 109.7L38.0 108.6L37.1 107.0L36.3 101.0L34.5 96.5L36.5 90.4L38.0 88.3L41.0 87.2L44.0 87.5L53.0 90.4Z"/><path fill="#559fd5" d="M39.5 -127.7L41.0 -127.6L42.5 -126.2L43.0 -124.0L42.5 -122.4L41.0 -122.0L39.6 -122.5L38.1 -124.0L38.0 -126.8ZM44.0 36.2L48.5 36.5L53.9 39.5L55.3 42.5L54.5 44.5L53.0 45.5L47.0 46.0L44.3 45.5L42.5 44.3L40.1 41.0L40.1 39.5ZM-29.5 66.0L-26.5 66.4L-22.0 72.2L-19.0 72.1L-14.5 69.1L-11.5 69.0L-4.0 75.0L6.5 79.2L9.5 79.5L15.5 77.6L17.0 78.4L20.8 84.5L23.3 93.5L19.6 104.0L18.5 105.5L8.0 112.3L0.5 111.9L-11.5 116.7L-16.0 116.2L-22.0 113.6L-28.0 113.9L-29.5 111.7L-30.3 105.5L-33.8 96.5L-33.1 90.5L-34.0 88.5L-37.0 87.3L-38.2 86.0L-37.5 77.0ZM39.5 89.9L42.5 89.3L47.0 90.5L50.0 92.2L56.1 98.0L57.2 99.5L57.3 102.5L54.5 107.5L48.5 106.3L40.9 107.0L39.5 105.0L36.6 95.0L37.5 92.0Z"/><path fill="#3c84c6" d="M45.5 38.8L47.0 38.4L50.0 39.4L51.1 41.0L50.8 42.5L48.5 43.5L45.5 43.1L44.2 41.0ZM-29.5 70.5L-28.0 70.0L-23.6 74.0L-22.0 74.6L-19.0 74.2L-14.5 71.6L-11.5 71.2L-4.0 77.3L6.5 81.5L9.5 81.6L14.0 80.0L15.5 80.1L18.0 83.0L21.2 92.0L21.0 95.0L17.6 102.5L9.5 108.8L0.5 109.2L-8.5 113.0L-16.0 112.9L-25.0 109.5L-29.2 102.5L-30.8 98.0L-30.2 90.5L-35.2 78.5L-34.3 75.5ZM-11.8 105.5L-13.0 108.5L-11.5 109.4L-10.4 107.0L-10.8 105.5ZM41.0 91.4L45.5 91.8L48.7 93.5L54.5 100.1L54.9 102.5L54.0 104.0L51.5 104.6L44.0 103.8L42.5 103.1L39.5 98.4L38.4 95.0L39.5 92.3Z"/><path fill="#2460b0" d="M-14.5 73.6L-11.5 73.3L-6.3 78.5L6.5 84.1L9.5 84.0L14.0 82.3L15.5 83.0L19.1 90.5L19.5 93.5L15.5 101.0L11.2 105.5L8.0 106.9L0.5 106.6L-4.0 107.5L-5.0 105.5L-4.9 101.0L-6.3 99.5L-8.5 99.2L-13.0 100.6L-17.5 106.8L-18.8 107.0L-23.5 104.9L-26.2 102.5L-26.6 99.5L-25.0 95.0L-29.6 86.0L-30.5 77.0L-28.0 75.6L-20.5 76.9ZM42.5 93.5L47.4 95.0L49.6 98.0L50.2 99.5L49.9 101.0L45.5 101.5L42.5 99.5L40.8 96.5L40.7 95.0Z"/><path fill="#1e4593" d="M-14.5 76.9L-12.9 77.0L-13.1 81.5L-11.5 85.0L-10.0 85.1L-7.0 82.7L-5.5 82.3L-2.5 82.9L6.5 87.1L14.0 85.5L15.5 86.8L17.5 90.5L17.8 93.5L17.0 95.4L12.5 99.6L9.1 104.0L6.5 104.9L3.5 104.6L0.5 103.4L-2.6 98.0L-5.5 96.7L-18.6 98.0L-19.2 101.0L-20.5 102.1L-22.0 101.8L-22.7 101.0L-22.5 99.5L-21.1 98.0L-20.9 96.5L-23.5 90.9L-27.3 86.0L-27.6 83.0L-27.1 81.5L-25.6 80.0L-20.5 79.5Z"/><path fill="#1b2f6e" d="M-23.5 83.0L-17.5 82.2L-16.4 83.0L-14.3 89.0L-13.0 90.4L-10.0 90.2L-4.0 86.9L-2.1 87.5L-1.0 89.0L-0.5 92.0L-3.9 93.5L-10.0 94.4L-19.0 92.2L-24.0 86.0L-24.4 84.5ZM12.5 88.7L14.0 88.8L15.5 90.3L15.5 93.8L14.0 95.1L9.5 95.2L8.0 96.6L6.5 101.5L5.0 102.0L3.5 101.6L1.6 99.5L-0.3 93.5L0.5 92.4L2.0 92.0L8.0 91.5Z"/></g></g><g clip-path="url(#land)"><path d="M-57.5 -55.5L-37.4 -56.5L-24.7 -43.8L-9.9 -31.1L-12.0 -14.2L-22.6 -4.7L-37.4 -12.1L-50.1 -22.7L-56.4 -39.6ZM-42.7 -126.4L-16.2 -125.3L-14.1 -94.6L-18.3 -73.4L-9.9 -67.1L-5.6 -48.0L-28.9 -52.3L-31.0 -69.2L-45.8 -86.1L-48.0 -103.1L-40.5 -115.8ZM36.5 -73.4L67.1 -75.6L69.3 -58.6L65.0 -39.6L50.2 -35.3L35.4 -39.6L31.2 -56.5ZM-133.2 66.7L-117.4 65.7L-104.7 85.8L-96.2 107.0L-75.0 130.2L-79.3 136.6L-96.2 132.3L-117.4 107.0L-130.1 87.9ZM-38.0 78.4L-20.0 74.1L0.3 73.1L0.3 115.4L-11.6 116.5L-24.3 98.5ZM-124.8 18.1L-116.3 18.1L-116.3 26.5L-124.8 26.5ZM-2.7 81.6L20.6 83.7L24.8 102.7L12.1 128.1L-2.7 128.1ZM40.7 35.0L59.7 35.0L59.7 48.8L40.7 48.8ZM5.8 139.8L25.9 139.8L25.9 155.6L5.8 155.6ZM44.9 124.9L60.8 132.3L57.6 145.0L44.9 138.7ZM42.8 99.5L56.6 99.5L56.6 107.0L42.8 107.0Z" fill="url(#xha)"/></g><use href="#coast"/><path d="M-62.6 22.8L-60.4 28.2L-57.7 33.3L-54.6 38.2L-51.1 42.8L-47.1 47.1L-42.8 51.1L-38.2 54.6L-33.3 57.7L-28.2 60.4L-22.8 62.6L-17.2 64.4L-11.6 65.6L-5.8 66.4L-0.0 66.6L-0.0 13.1L-1.1 13.1L-2.3 12.9L-3.4 12.7L-4.5 12.3L-5.5 11.9L-6.6 11.4L-7.5 10.8L-8.4 10.1L-9.3 9.3L-10.1 8.4L-10.8 7.5L-11.4 6.6L-11.9 5.5L-12.3 4.5Z" fill="none" stroke="#8430d6" stroke-width="2.6" stroke-linejoin="miter"/><use href="#grat"/></g><use href="#perim"/></g>
<g transform="translate(551.4,243.1) scale(1,1.0)"><g clip-path="url(#circ)"><use href="#grey0"/><g clip-path="url(#land)"><g fill-rule="evenodd"><path fill="#fff4d8" d="M-7.0 -160.0L161.0 -160.0L161.0 -90.1L155.0 -89.8L149.0 -91.4L141.5 -91.7L135.5 -92.9L134.0 -92.4L132.9 -91.0L132.5 -86.5L131.0 -85.5L129.5 -85.5L127.8 -86.5L126.8 -88.0L127.4 -92.5L125.5 -94.0L122.0 -94.5L117.5 -93.7L110.0 -89.4L107.0 -88.8L103.5 -89.5L99.5 -94.1L98.0 -93.7L95.0 -89.7L89.0 -90.3L80.0 -89.6L71.0 -90.0L60.5 -88.2L47.0 -87.8L42.5 -88.1L39.5 -89.1L25.3 -100.0L13.0 -116.5L12.3 -118.0L12.3 -124.0L11.6 -125.5L4.5 -131.5L-4.7 -143.5L-7.3 -149.5ZM-26.5 -98.6L-20.5 -98.1L-15.1 -95.5L-13.2 -91.0L-12.2 -80.5L-8.5 -75.2L-4.0 -74.1L11.0 -76.8L15.5 -75.4L17.9 -73.0L18.0 -70.0L11.7 -59.5L9.2 -53.5L5.8 -35.5L7.0 -32.5L17.0 -25.0L23.8 -16.0L41.0 -7.0L53.0 -5.5L79.4 0.5L87.5 5.5L95.1 8.0L104.0 13.1L106.8 15.5L109.5 24.5L109.4 26.0L107.0 29.7L105.7 35.0L107.0 35.9L110.0 35.7L117.5 33.2L120.5 34.7L121.7 36.5L121.7 39.5L120.9 41.0L116.0 45.1L114.7 47.0L114.1 53.0L112.4 59.0L112.2 63.5L114.6 77.0L117.5 79.5L124.3 81.5L125.1 83.0L124.0 84.5L120.5 85.6L117.7 84.5L113.0 81.2L110.0 80.3L107.0 80.7L96.5 85.0L84.5 81.9L66.5 81.4L62.0 79.8L48.5 71.4L45.5 70.6L42.5 71.7L37.9 75.5L34.7 77.0L27.5 78.3L8.0 79.8L-7.0 86.7L-14.5 87.4L-25.0 89.7L-34.0 88.3L-40.0 94.0L-43.0 93.8L-49.0 91.5L-58.0 91.7L-64.0 92.8L-73.0 95.8L-77.5 96.1L-85.0 95.8L-88.0 94.6L-95.5 86.6L-103.9 83.0L-106.0 81.3L-107.8 78.5L-110.3 71.0L-115.0 65.7L-116.6 62.0L-116.5 59.0L-113.3 51.5L-112.9 44.0L-111.9 41.0L-109.0 38.1L-106.0 36.7L-103.0 36.5L-97.0 37.7L-92.5 39.3L-90.0 41.0L-84.7 48.5L-82.0 50.9L-80.5 51.2L-77.7 50.0L-73.0 40.6L-58.8 29.0L-55.0 24.5L-52.3 17.0L-49.6 3.5L-41.5 -11.5L-37.0 -21.4L-35.0 -23.5L-26.5 -27.6L-23.5 -31.0L-23.0 -32.5L-23.4 -35.5L-26.2 -41.5L-34.0 -51.3L-38.5 -54.6L-41.5 -54.8L-46.0 -53.2L-49.1 -50.5L-53.3 -44.5L-55.0 -43.5L-59.5 -42.9L-62.5 -44.0L-64.6 -46.0L-66.4 -49.0L-67.7 -59.5L-68.5 -60.6L-71.5 -62.0L-72.4 -65.5L-72.3 -68.5L-71.1 -71.5L-66.6 -76.0L-61.3 -85.0L-55.0 -91.7L-50.5 -94.4L-46.0 -96.1L-32.5 -97.0ZM-113.5 106.8L-110.5 106.1L-107.8 107.0L-107.1 108.5L-108.2 111.5L-112.0 113.6L-115.2 113.0L-116.4 111.5L-116.4 110.0ZM-60.4 137.0L-56.5 136.0L-55.0 136.5L-54.4 138.5L-56.5 139.8L-58.0 139.5L-59.9 138.5Z"/><path fill="#fee9aa" d="M48.5 -160.0L65.7 -160.0L66.5 -159.5L67.5 -160.0L102.6 -160.0L101.4 -154.0L97.6 -145.0L99.5 -143.7L105.5 -143.3L108.5 -142.0L110.0 -139.0L109.3 -136.0L104.0 -128.9L101.0 -127.5L96.5 -126.9L95.0 -125.8L92.4 -121.0L93.1 -115.0L91.8 -112.0L86.0 -107.5L80.0 -104.3L75.5 -103.0L69.5 -102.9L62.0 -99.7L59.0 -99.3L54.5 -100.3L47.0 -103.8L39.7 -106.0L36.5 -108.4L35.0 -111.0L33.8 -116.5L33.8 -122.5L38.7 -136.0L40.7 -148.0ZM-25.0 -64.1L-22.0 -63.1L-17.8 -59.5L-16.1 -56.5L-17.2 -55.0L-22.0 -54.5L-25.4 -56.5L-26.5 -58.1L-27.1 -61.0L-26.5 -63.1ZM-22.0 -19.3L-16.0 -19.8L-7.0 -16.4L3.5 -14.8L7.1 -13.0L15.5 -6.2L35.0 2.4L51.5 3.5L66.5 6.7L72.5 9.6L74.8 12.5L78.2 20.0L82.6 26.0L83.3 30.5L78.8 45.5L70.8 56.0L67.7 66.5L66.5 67.7L65.0 67.9L54.5 63.1L45.5 61.2L33.5 64.4L21.5 69.1L11.0 70.4L2.0 75.0L-4.0 76.8L-17.5 77.3L-28.0 73.2L-34.0 72.7L-49.0 75.4L-60.3 81.5L-68.5 84.2L-74.5 84.8L-79.0 84.5L-85.0 81.4L-87.7 78.5L-89.3 75.5L-89.5 72.5L-88.2 69.5L-85.0 67.7L-76.0 68.3L-71.4 65.0L-61.3 42.5L-55.9 35.0L-45.9 24.5L-41.5 18.3L-39.1 12.5L-37.9 3.5L-35.5 -0.4L-29.9 -5.5L-27.3 -16.0L-25.0 -18.1Z"/><path fill="#fed67c" d="M56.0 -134.5L59.0 -134.3L63.5 -132.4L67.0 -130.0L71.1 -125.5L72.1 -121.0L70.8 -118.0L69.2 -116.5L65.0 -114.9L56.0 -113.8L51.5 -114.3L48.4 -116.5L46.6 -121.0L46.9 -125.5L51.5 -131.6ZM-13.0 -2.5L-5.5 -0.4L5.0 4.7L32.0 15.5L51.5 15.2L63.5 18.3L65.9 21.5L66.8 26.0L65.3 36.5L63.8 41.0L60.5 45.2L53.0 50.7L42.5 52.9L21.5 61.7L9.5 63.2L2.0 69.9L-2.5 71.6L-14.5 70.7L-28.0 67.4L-38.5 64.0L-47.5 63.4L-51.7 62.0L-53.9 59.0L-54.6 54.5L-54.2 47.0L-51.9 41.0L-48.7 36.5L-38.5 26.0L-33.2 18.5L-28.3 9.5L-21.3 5.0L-16.0 -1.7Z"/><path fill="#fdba4e" d="M-16.0 17.0L-13.0 16.8L-2.5 19.4L8.0 23.9L15.5 22.7L20.0 23.9L27.5 28.7L30.8 32.0L33.2 36.5L32.8 39.5L27.5 47.0L24.5 48.8L20.0 50.0L8.0 56.8L5.0 59.5L1.6 65.0L-1.0 67.0L-4.0 67.5L-20.5 65.4L-28.0 63.4L-39.8 56.0L-43.3 53.0L-44.8 50.0L-44.6 45.5L-40.8 38.0L-32.5 28.7L-22.0 19.9Z"/><path fill="#fb9e33" d="M-16.0 30.4L-8.5 30.8L-2.5 33.5L0.8 38.0L1.2 44.0L0.0 47.0L-3.3 51.5L-4.4 59.0L-5.4 60.5L-14.0 62.0L-23.5 61.8L-28.9 59.0L-34.4 53.0L-36.6 48.5L-36.6 44.0L-34.0 38.7L-29.5 34.6L-23.5 31.7Z"/><path fill="#f67c2b" d="M-22.0 39.3L-17.5 39.9L-14.5 41.9L-12.2 45.5L-11.8 48.5L-12.6 53.0L-14.6 56.0L-17.5 57.9L-22.0 58.8L-25.0 58.2L-27.9 56.0L-29.9 53.0L-31.1 48.5L-30.7 45.5L-28.9 42.5L-26.5 40.7Z"/><path fill="#ee552b" d="M-25.0 48.6L-22.0 48.1L-20.2 50.0L-20.2 53.0L-22.0 54.7L-23.5 54.8L-25.0 54.0L-26.2 51.5Z"/><path fill="#e8f4fc" d="M48.5 -62.9L54.5 -63.4L58.5 -61.0L60.0 -58.0L61.6 -49.0L65.0 -43.4L69.5 -41.5L77.0 -40.9L79.0 -40.0L79.9 -38.5L79.3 -35.5L75.6 -29.5L73.2 -26.5L70.9 -25.0L65.0 -22.5L60.5 -22.2L48.5 -26.1L45.8 -28.0L44.8 -29.5L41.4 -41.5L42.5 -56.5L44.0 -60.0ZM26.0 97.5L30.5 97.1L42.5 99.2L50.0 102.4L53.0 104.9L54.3 108.5L52.8 120.5L51.9 123.5L49.5 126.5L41.0 130.7L35.0 131.6L32.0 130.6L16.8 122.0L14.9 119.0L14.2 116.0L15.7 108.5L20.0 101.3Z"/></g></g><use href="#grey"/><g clip-path="url(#land)"><path d="M33.6 -149.6L47.4 -151.8L79.1 -134.8L78.1 -117.9L66.4 -103.1L53.7 -102.0L38.9 -124.2ZM-31.5 -20.5L-12.5 -22.7L-10.4 -10.0L-21.0 -4.7L-31.5 -10.0ZM-42.1 49.8L-25.2 45.6L3.6 37.1L3.6 66.7L-21.0 68.9L-31.5 60.4ZM-110.9 102.7L-102.4 102.7L-102.4 110.1L-110.9 110.1ZM-3.4 37.1L17.8 37.1L34.7 32.9L49.5 13.8L66.4 15.9L70.7 35.0L64.3 58.3L45.3 58.3L24.1 62.5L-3.4 60.4ZM28.3 103.8L46.3 103.8L46.3 116.5L28.3 116.5Z" fill="url(#xh)"/></g><use href="#coast"/><use href="#grat"/></g><use href="#perim"/></g>
<g transform="translate(177.7,649.9) scale(1,1.0)"><g clip-path="url(#circ)"><use href="#grey0"/><g clip-path="url(#land)"><g fill-rule="evenodd"><path fill="#fff4d8" d="M74.0 -160.0L161.0 -160.0L161.0 79.4L149.0 80.0L146.0 78.6L141.5 74.7L138.5 73.4L132.5 73.2L116.8 69.5L104.0 64.4L92.0 64.2L74.0 59.3L50.0 61.3L41.0 60.9L32.0 62.4L24.5 62.2L14.0 63.5L6.5 63.5L-2.8 68.0L-14.5 70.6L-31.0 70.0L-37.0 68.7L-42.3 65.0L-46.5 57.5L-49.5 44.0L-49.4 35.0L-56.0 24.5L-56.0 14.0L-61.0 -2.5L-62.8 -19.0L-63.9 -22.0L-65.2 -23.5L-70.0 -25.5L-103.0 -31.2L-106.0 -33.0L-110.5 -37.1L-115.0 -39.0L-127.0 -39.2L-137.5 -43.8L-142.0 -43.5L-146.5 -41.8L-148.0 -42.0L-148.7 -43.0L-148.8 -44.5L-147.3 -47.5L-144.6 -50.5L-137.4 -55.0L-135.4 -58.0L-134.4 -61.0L-134.1 -64.0L-135.3 -67.0L-137.5 -69.1L-142.3 -71.5L-143.6 -73.0L-144.6 -77.5L-143.5 -80.7L-136.0 -85.0L-134.9 -86.5L-134.7 -88.0L-138.1 -97.0L-138.2 -101.5L-137.5 -103.0L-136.0 -104.0L-128.5 -104.0L-125.5 -104.6L-118.3 -109.0L-116.8 -112.0L-116.2 -119.5L-113.5 -123.1L-101.5 -122.3L-95.5 -120.6L-92.5 -118.5L-86.5 -109.1L-82.0 -107.4L-56.5 -108.9L-46.0 -106.0L-37.0 -109.8L-28.0 -112.3L-17.5 -112.9L-8.4 -112.0L-5.5 -113.0L-3.3 -115.0L0.5 -121.9L2.0 -123.4L14.0 -129.8L20.0 -137.5L26.0 -142.3L36.5 -146.0L45.5 -151.0L59.0 -153.2L65.0 -151.7L68.0 -152.1L71.0 -154.4ZM-159.9 -95.5L-157.2 -92.5L-156.6 -89.5L-157.5 -88.0L-160.0 -87.0Z"/><path fill="#fee9aa" d="M134.4 -160.0L144.5 -160.0L144.5 -155.5L146.1 -154.0L155.0 -154.3L161.0 -153.2L161.0 -147.2L158.7 -146.5L156.9 -145.0L155.7 -140.5L156.5 -137.4L161.0 -137.6L161.0 54.7L150.5 55.1L144.5 54.1L138.5 51.7L135.5 51.6L132.1 53.0L128.0 58.3L125.0 59.1L113.0 55.9L104.0 55.7L93.5 56.8L74.0 53.5L57.5 54.1L48.5 55.3L38.0 54.2L24.5 55.8L15.5 58.0L6.5 58.2L3.5 59.7L-3.6 65.0L-13.0 67.0L-31.0 66.8L-35.5 65.6L-38.5 63.6L-41.1 60.5L-42.9 56.0L-43.8 44.0L-43.4 32.0L-44.5 28.8L-49.1 21.5L-50.3 12.5L-56.5 -3.9L-61.0 -22.6L-62.6 -25.0L-65.5 -27.3L-78.1 -32.5L-89.5 -41.2L-101.0 -47.5L-102.9 -50.5L-103.7 -65.5L-101.5 -76.0L-102.6 -85.0L-104.1 -91.0L-103.0 -92.5L-99.5 -88.0L-97.0 -87.4L-92.5 -89.0L-82.5 -95.5L-61.0 -101.0L-56.5 -101.3L-47.5 -100.6L-34.0 -103.9L-16.0 -104.6L-12.9 -103.0L-8.3 -97.0L-0.1 -91.0L4.5 -85.0L8.1 -76.0L7.5 -67.0L8.1 -65.5L11.0 -64.5L17.0 -65.2L20.0 -67.0L21.1 -68.5L22.3 -71.5L22.6 -74.5L20.0 -80.7L13.5 -88.0L12.9 -91.0L13.3 -94.0L15.1 -97.0L19.6 -101.5L26.1 -112.0L27.7 -122.5L36.5 -131.0L39.5 -132.8L44.0 -133.6L56.0 -132.7L65.0 -129.8L74.0 -128.8L86.0 -131.0L98.0 -132.0L110.0 -139.6L119.0 -142.6L125.0 -146.8L132.1 -149.5L134.7 -154.0Z"/><path fill="#fed67c" d="M44.0 -125.9L53.0 -125.7L65.0 -122.2L84.5 -110.5L93.5 -107.3L99.5 -102.9L102.8 -101.5L105.5 -101.4L113.0 -104.0L122.0 -103.8L125.0 -105.2L131.0 -110.8L134.0 -111.4L137.0 -110.5L140.5 -107.5L140.2 -104.5L131.6 -97.0L129.5 -90.4L121.2 -86.5L120.3 -85.0L120.3 -83.5L122.0 -82.2L125.0 -82.0L128.0 -82.8L129.5 -83.6L133.5 -88.0L140.0 -89.5L141.7 -91.0L145.2 -98.5L149.0 -101.3L152.0 -101.4L153.5 -100.1L156.7 -94.0L158.2 -92.5L161.0 -91.3L161.0 -76.6L159.4 -76.0L158.6 -74.5L158.9 -73.0L161.0 -71.3L161.0 9.1L153.3 15.5L152.0 18.5L153.5 20.8L156.7 17.0L161.0 15.8L161.0 27.7L158.0 26.8L153.5 23.7L140.6 36.5L135.5 39.1L132.5 37.9L128.0 32.9L125.0 31.9L120.5 34.5L113.3 42.5L110.0 45.0L98.0 49.2L74.0 48.9L50.0 49.7L45.5 48.8L38.0 45.4L35.0 45.0L27.5 49.0L17.0 52.5L8.0 53.2L5.0 54.1L-2.5 60.6L-7.0 62.8L-20.5 64.3L-28.0 64.1L-32.5 63.2L-37.0 60.4L-39.4 56.0L-38.7 29.0L-40.6 15.5L-43.4 8.0L-53.2 -7.0L-58.4 -22.0L-61.0 -26.5L-64.0 -29.3L-74.0 -35.5L-77.4 -38.5L-86.7 -49.0L-91.0 -55.5L-91.4 -61.0L-87.9 -76.0L-85.4 -80.5L-82.0 -84.3L-73.0 -89.3L-65.5 -91.2L-55.0 -95.3L-37.0 -97.8L-31.0 -97.4L-20.5 -92.5L-13.0 -86.5L-2.3 -74.5L0.5 -64.5L3.5 -59.7L12.6 -53.5L18.5 -48.1L20.0 -47.9L34.3 -56.5L39.5 -60.9L44.0 -63.0L46.1 -65.5L46.6 -68.5L46.0 -71.5L38.3 -89.5L37.6 -92.5L38.9 -103.0L37.1 -115.0L37.3 -119.5L40.1 -124.0ZM157.1 -107.5L161.0 -108.8L161.0 -104.9L158.0 -105.2L156.7 -106.0Z"/><path fill="#fdba4e" d="M54.5 -112.5L57.6 -112.0L58.7 -110.5L59.1 -107.5L57.5 -105.7L53.0 -104.7L51.2 -106.0L50.9 -109.0L51.5 -110.5ZM-53.5 -89.9L-47.5 -90.1L-41.5 -87.9L-35.5 -89.4L-31.0 -88.6L-25.0 -84.7L-20.3 -77.5L-10.4 -71.5L-7.0 -68.3L7.2 -47.5L8.5 -44.5L7.6 -40.0L1.9 -32.5L-1.4 -23.5L-0.7 -20.5L8.0 -13.9L12.5 -15.1L16.2 -17.5L18.0 -20.5L19.5 -28.0L21.0 -31.0L23.0 -32.8L29.0 -35.8L33.7 -44.5L38.6 -47.5L51.5 -52.6L55.0 -55.0L63.6 -71.5L66.5 -80.9L68.0 -81.5L75.5 -76.0L84.5 -73.7L89.0 -71.5L96.5 -63.8L104.8 -61.0L108.5 -56.7L110.0 -56.1L113.0 -57.0L117.3 -61.0L122.0 -64.0L125.0 -64.1L126.5 -63.0L128.4 -58.0L128.3 -49.0L129.2 -46.0L134.0 -40.3L140.0 -35.6L141.1 -32.5L140.0 -30.0L138.5 -28.9L132.5 -26.8L129.5 -24.5L127.7 -22.0L127.2 -19.0L128.0 -18.4L132.5 -21.4L134.0 -21.5L137.0 -19.1L137.9 -14.5L135.5 -11.5L128.0 -11.6L126.5 -10.7L124.7 -7.0L124.0 -1.0L122.9 2.0L120.5 3.1L115.0 3.5L112.9 5.0L112.4 8.0L114.4 12.5L114.3 15.5L112.7 18.5L107.4 23.0L105.8 30.5L104.0 32.4L98.0 35.0L90.5 40.3L66.5 44.7L59.0 44.8L54.5 44.0L51.6 42.5L45.5 35.4L32.0 35.0L28.3 36.5L23.4 42.5L18.9 45.5L14.0 47.7L6.5 49.0L3.5 50.4L-1.8 56.0L-5.5 58.5L-17.5 61.2L-25.0 61.2L-29.5 60.4L-34.2 57.5L-35.8 53.0L-35.4 44.0L-32.8 21.5L-30.2 12.5L-30.7 9.5L-49.9 -8.5L-58.6 -26.5L-62.5 -31.0L-69.7 -37.0L-73.9 -41.5L-77.9 -47.5L-79.9 -53.5L-81.0 -67.0L-80.4 -70.0L-78.1 -74.5L-75.5 -77.5L-69.8 -82.0Z"/><path fill="#fb9e33" d="M-55.0 -78.1L-50.5 -78.7L-43.0 -76.2L-34.0 -76.0L-25.8 -71.5L-14.5 -67.4L-10.0 -64.6L-7.0 -61.7L-4.3 -58.0L-2.3 -53.5L-0.3 -44.5L-0.8 -41.5L-3.0 -37.0L-7.0 -31.6L-16.2 -26.5L-17.9 -23.5L-19.5 -16.0L-21.0 -13.0L-28.0 -5.5L-31.0 -3.7L-34.0 -3.5L-38.5 -4.8L-44.5 -8.0L-47.5 -10.5L-51.3 -16.0L-57.3 -28.0L-68.9 -41.5L-72.9 -49.0L-73.4 -55.0L-69.4 -70.0L-65.5 -73.6ZM60.5 -41.7L65.5 -41.5L72.5 -39.5L83.0 -30.7L90.5 -27.8L92.0 -26.3L93.8 -17.5L96.4 -13.0L95.0 -11.3L90.5 -12.2L89.7 -11.5L86.5 -4.0L77.4 3.5L71.6 14.0L65.0 22.9L62.0 24.6L56.0 22.3L52.9 20.0L47.0 12.7L44.0 11.9L23.0 24.1L15.7 33.5L2.0 45.8L-2.5 51.6L-5.5 54.2L-14.3 57.5L-19.0 58.4L-25.0 57.7L-28.6 56.0L-30.0 54.5L-31.2 51.5L-31.6 47.0L-31.0 41.4L-28.2 32.0L-22.0 20.2L-19.0 17.7L-14.5 15.7L-4.0 16.3L-1.3 15.5L5.0 7.7L12.5 4.3L21.5 -2.4L29.0 -4.7L32.0 -6.4L35.0 -9.0L36.5 -11.5L36.7 -22.0L38.9 -26.5L44.0 -31.8L50.4 -35.5L56.0 -40.1Z"/><path fill="#f67c2b" d="M-55.0 -70.2L-49.0 -71.2L-32.5 -68.9L-23.5 -65.0L-13.0 -61.5L-8.7 -58.0L-7.1 -55.0L-6.5 -46.0L-8.5 -39.1L-11.5 -35.6L-19.0 -30.1L-21.2 -26.5L-25.0 -15.8L-28.5 -11.5L-32.5 -9.0L-35.5 -8.6L-40.0 -9.4L-44.5 -11.7L-47.5 -14.5L-50.5 -18.8L-55.9 -29.5L-64.5 -41.5L-67.4 -47.5L-68.1 -53.5L-65.5 -60.4L-61.0 -66.7ZM57.5 -28.3L60.5 -28.7L65.0 -28.0L67.6 -26.5L69.1 -23.5L67.1 -16.0L65.7 -5.5L63.5 -2.2L60.5 -0.3L57.5 -0.6L53.0 -3.5L49.9 -7.0L49.0 -10.0L51.7 -23.5L53.9 -26.5ZM-16.0 28.8L-11.5 27.8L-8.5 28.7L-5.5 30.8L-3.8 35.0L-4.9 42.5L-7.2 48.5L-10.4 51.5L-16.0 54.6L-19.0 55.2L-22.0 54.8L-25.0 53.1L-26.2 51.5L-27.1 48.5L-26.9 44.0L-23.5 36.3L-19.0 31.0Z"/><path fill="#ee552b" d="M-50.5 -65.8L-44.5 -65.8L-31.0 -62.7L-23.5 -59.2L-16.0 -56.9L-13.5 -55.0L-12.8 -53.5L-13.0 -46.7L-14.6 -41.5L-22.0 -32.2L-28.3 -17.5L-31.0 -14.4L-34.0 -12.7L-37.0 -12.3L-40.0 -12.8L-43.6 -14.5L-46.9 -17.5L-59.2 -38.5L-61.7 -44.5L-62.9 -52.0L-61.8 -56.5L-56.8 -62.5ZM-19.0 42.2L-16.0 42.3L-14.5 44.0L-14.1 45.5L-14.3 47.0L-16.0 49.6L-19.0 50.9L-21.2 50.0L-22.3 47.0L-21.2 44.0Z"/><path fill="#dc2c28" d="M-49.0 -61.2L-43.0 -60.8L-32.5 -57.5L-25.9 -53.5L-22.2 -49.0L-22.2 -43.0L-28.1 -25.0L-31.4 -19.0L-35.5 -16.0L-40.0 -16.1L-43.0 -17.5L-46.0 -20.1L-49.0 -24.5L-57.1 -41.5L-58.3 -49.0L-57.7 -53.5L-54.7 -58.0Z"/><path fill="#bf1a27" d="M-50.5 -55.1L-46.0 -56.3L-40.0 -54.9L-32.7 -50.5L-29.1 -46.0L-28.4 -38.5L-29.9 -29.5L-32.6 -23.5L-35.5 -20.5L-37.0 -19.9L-41.5 -20.4L-46.0 -24.0L-52.8 -38.5L-54.0 -43.0L-54.1 -49.0L-53.3 -52.0Z"/><path fill="#981922" d="M-46.0 -49.2L-43.0 -49.1L-39.9 -47.5L-35.5 -43.7L-33.5 -40.0L-32.9 -35.5L-33.6 -31.0L-35.5 -27.2L-38.5 -24.8L-41.5 -24.8L-44.5 -27.0L-48.8 -37.0L-49.7 -41.5L-49.5 -44.5L-48.3 -47.5Z"/><path fill="#e8f4fc" d="M-85.0 -3.9L-83.5 -3.6L-82.0 -2.3L-79.4 2.0L-74.5 7.6L-67.5 18.5L-66.8 21.5L-67.4 29.0L-67.0 35.2L-69.4 44.0L-69.5 48.5L-68.5 51.5L-64.4 57.5L-61.0 65.8L-55.9 71.0L-40.0 77.6L-17.5 79.9L-13.0 79.1L-5.5 76.0L8.0 74.0L15.5 74.3L24.5 76.7L32.0 77.6L41.0 76.7L51.5 76.9L69.5 73.2L72.5 73.4L75.5 75.3L81.5 82.9L87.5 87.0L102.0 101.0L103.6 104.0L104.5 108.5L103.1 120.5L103.4 123.5L105.5 125.8L115.0 126.5L117.1 134.0L116.5 137.0L114.5 138.5L111.5 139.0L105.5 137.3L102.5 137.1L93.5 142.3L89.0 142.8L78.5 139.3L65.3 129.5L59.0 126.3L53.0 126.1L41.0 128.9L38.0 128.4L29.0 124.7L26.0 124.3L15.5 126.6L8.0 126.0L5.4 126.5L3.4 128.0L-3.3 137.0L-7.0 139.1L-11.5 140.0L-16.0 140.1L-22.0 138.9L-41.5 131.8L-45.5 132.5L-52.0 135.7L-55.0 135.8L-56.5 135.2L-58.0 133.8L-62.5 123.7L-65.8 119.0L-74.5 110.8L-82.0 108.2L-85.0 104.5L-86.9 95.0L-91.5 86.0L-91.0 82.4L-87.3 77.0L-86.8 75.5L-87.3 74.0L-89.5 73.5L-92.5 74.7L-95.5 74.7L-107.1 71.0L-109.0 69.3L-112.9 62.0L-117.2 57.5L-118.8 54.5L-120.2 35.0L-119.2 27.5L-117.7 23.0L-115.0 19.8L-109.0 16.2L-97.0 14.0L-89.5 11.6L-85.7 9.5L-84.1 8.0L-82.7 5.0L-85.9 -1.0L-86.1 -2.5Z"/><path fill="#cde9f8" d="M-106.0 24.7L-95.5 24.8L-93.2 26.0L-84.3 33.5L-81.9 38.0L-82.0 44.6L-84.0 54.5L-86.9 57.5L-91.0 59.1L-95.5 59.3L-98.5 58.5L-104.5 54.5L-109.4 48.5L-113.2 39.5L-113.4 33.5L-112.0 29.0L-110.5 26.8ZM-64.0 78.8L-59.5 77.9L-53.5 79.0L-43.0 83.4L-38.5 84.5L-20.5 86.0L-14.5 85.5L-4.0 81.6L3.5 81.6L11.0 80.7L15.5 81.2L30.5 85.1L42.5 83.5L51.5 86.2L62.0 85.6L68.0 88.0L75.5 93.3L84.3 98.0L89.8 105.5L90.3 108.5L89.9 111.5L87.5 117.0L84.5 118.8L77.0 118.0L66.5 119.1L56.0 117.0L44.0 116.0L33.5 116.8L26.0 115.5L15.5 117.1L5.0 116.6L2.0 117.6L-7.0 123.1L-17.5 126.5L-22.0 126.5L-31.0 120.6L-41.5 118.9L-44.5 117.7L-46.0 116.3L-50.0 110.0L-54.5 105.5L-56.8 98.0L-61.0 93.3L-64.3 87.5L-65.5 81.5Z"/><path fill="#b2def4" d="M-100.0 37.9L-97.1 39.5L-97.0 41.1L-98.5 42.4L-100.0 41.9L-101.6 39.5ZM-8.5 90.4L-2.5 89.5L14.0 90.2L26.0 95.6L30.5 96.9L39.5 95.8L45.5 98.0L51.5 96.4L56.0 96.3L59.2 98.0L60.8 101.0L60.9 102.5L59.0 104.5L54.5 104.6L45.5 100.3L35.0 104.1L29.0 102.5L26.0 102.7L15.5 108.8L11.0 109.7L3.5 109.6L0.5 110.6L-5.5 114.5L-10.0 115.5L-14.1 114.5L-22.0 111.0L-29.5 110.7L-32.5 109.8L-34.3 108.5L-38.1 102.5L-43.0 98.8L-45.0 95.0L-44.5 92.9L-43.0 92.1L-22.0 94.2L-16.0 93.3Z"/></g></g><use href="#grey"/><g clip-path="url(#land)"><path d="M-48.0 -42.6L-31.0 -39.4L-9.9 -30.9L-12.0 -11.9L-22.6 -4.5L-37.4 -11.9L-48.0 -26.7ZM-54.3 -97.6L-34.2 -99.7L-18.3 -88.1L-18.3 -73.2L-31.0 -73.2L-48.0 -83.8ZM39.6 -126.2L72.4 -130.4L76.7 -115.6L66.1 -94.4L64.0 -73.2L55.5 -62.7L47.0 -77.5L40.7 -94.4ZM-112.1 22.5L-96.2 20.4L-81.4 35.2L-81.4 58.5L-98.3 58.5L-111.0 39.4ZM-34.8 49.0L-11.6 44.7L0.3 42.6L0.3 66.9L-15.8 68.0L-32.7 64.8ZM-52.8 86.0L0.3 83.9L0.3 122.0L-11.6 124.1L-36.9 111.4ZM-76.1 102.9L-54.9 102.9L-54.9 120.9L-76.1 120.9ZM-2.7 37.3L18.5 39.4L39.6 31.0L50.2 9.8L60.8 -0.8L75.6 5.6L75.6 33.1L67.1 47.9L56.6 56.4L29.0 58.5L-2.7 56.4ZM78.8 24.6L88.3 24.6L96.8 40.5L86.2 39.4ZM-2.7 82.8L39.6 79.6L60.8 90.2L86.2 92.3L88.3 111.4L60.8 119.9L22.7 115.6L-2.7 115.6Z" fill="url(#xh)"/></g><use href="#coast"/><use href="#grat"/></g><use href="#perim"/></g>
<g transform="translate(551.4,649.9) scale(1,1.0)"><g clip-path="url(#circ)"><use href="#grey0"/><g clip-path="url(#land)"><g fill-rule="evenodd"><path fill="#fff4d8" d="M6.5 -111.0L11.0 -111.5L23.0 -108.8L30.5 -110.3L35.0 -110.0L45.5 -105.9L56.0 -103.5L65.0 -99.4L69.5 -98.3L80.0 -99.1L90.5 -102.8L95.0 -103.3L119.0 -100.1L125.0 -96.9L128.0 -96.1L131.0 -96.7L137.0 -99.4L140.0 -99.2L147.5 -96.9L155.0 -98.8L158.3 -97.0L157.4 -91.0L159.3 -88.0L161.0 -87.4L161.0 40.4L156.5 38.6L153.5 38.4L140.0 51.1L137.0 52.4L134.0 52.5L129.5 51.2L126.5 49.4L124.9 47.0L123.5 42.3L122.0 40.5L120.5 39.9L116.0 40.6L110.0 43.4L102.5 40.0L93.5 42.5L90.5 42.4L87.5 40.6L84.5 33.9L82.4 32.0L80.0 31.4L72.5 32.4L68.0 31.9L65.0 30.1L59.5 24.5L56.0 22.8L51.5 22.1L46.5 23.0L35.0 27.5L32.7 30.5L30.3 36.5L27.5 40.5L24.5 42.9L21.5 43.3L3.5 33.7L-7.4 32.0L-13.0 30.1L-23.5 24.8L-38.2 14.0L-49.0 7.8L-54.2 3.5L-58.0 -1.0L-60.5 -5.5L-62.3 -11.5L-63.1 -20.5L-65.5 -24.9L-68.5 -26.9L-86.5 -35.4L-95.5 -42.9L-97.6 -46.0L-98.9 -50.5L-99.6 -59.5L-101.1 -65.5L-100.5 -77.5L-99.8 -80.5L-95.8 -88.0L-95.3 -95.5L-94.3 -98.5L-91.0 -102.3L-88.0 -103.7L-80.5 -101.7L-55.0 -102.3L-44.5 -100.4L-34.0 -101.2L-24.6 -104.5L-19.0 -105.6L-4.0 -106.3ZM24.5 127.5L26.0 127.0L27.8 128.0L28.8 131.0L27.5 133.5L26.0 133.5L24.5 132.2L23.7 129.5Z"/><path fill="#fee9aa" d="M-44.5 -94.2L-35.5 -94.2L-19.0 -91.5L-7.0 -93.3L-4.0 -92.2L-2.4 -89.5L-1.3 -85.0L-3.3 -74.5L-2.4 -68.5L6.5 -46.0L10.5 -41.5L14.0 -40.4L17.0 -41.9L18.3 -44.5L22.0 -62.5L21.6 -71.5L17.6 -80.5L17.2 -83.5L19.6 -88.0L24.5 -91.8L32.0 -93.0L45.5 -91.9L50.0 -90.0L57.5 -84.4L60.5 -84.0L69.5 -87.4L77.0 -86.7L84.1 -91.0L89.0 -91.5L98.0 -87.8L111.5 -83.8L117.5 -84.5L120.5 -83.8L122.3 -82.0L125.0 -76.0L134.0 -66.1L135.5 -66.1L138.4 -70.0L140.0 -70.9L143.0 -71.0L144.4 -70.0L144.7 -67.0L141.9 -61.0L142.6 -58.0L144.5 -55.6L147.5 -54.9L153.5 -58.6L161.0 -59.1L161.0 -3.8L152.0 -0.3L149.0 -1.7L146.0 -4.4L143.0 -4.8L140.4 -1.0L140.5 5.0L141.5 7.8L146.0 6.6L147.5 6.8L148.6 8.0L147.5 10.7L144.5 11.2L141.5 9.1L140.0 9.9L131.2 17.0L123.5 26.2L120.5 26.9L113.0 26.2L102.5 30.2L98.0 31.0L95.0 29.7L92.0 26.0L89.0 23.9L69.5 20.4L53.0 16.1L41.0 17.0L18.5 24.3L16.8 23.0L15.5 18.5L13.8 15.5L8.0 12.2L3.5 11.8L-4.0 13.1L-8.5 13.0L-14.5 11.5L-28.0 9.8L-44.5 4.7L-50.5 0.8L-56.5 -7.0L-58.4 -11.5L-60.7 -22.0L-63.1 -26.5L-68.5 -31.4L-77.6 -37.0L-81.5 -41.5L-84.0 -49.0L-85.6 -65.5L-85.2 -70.0L-83.2 -74.5L-68.5 -88.5L-64.0 -90.2L-56.5 -90.4Z"/><path fill="#fed67c" d="M-35.5 -86.6L-28.0 -86.7L-20.5 -85.4L-15.5 -83.5L-12.6 -80.5L-11.8 -77.5L-11.7 -65.5L-7.3 -53.5L-6.2 -44.5L-3.3 -35.5L-2.0 -28.0L-2.7 -22.0L-9.3 -10.0L-16.0 -5.8L-23.5 0.2L-29.5 1.8L-35.5 1.5L-43.0 -0.2L-47.5 -2.2L-50.5 -4.9L-55.0 -11.5L-60.5 -26.5L-65.5 -32.9L-74.3 -41.5L-75.8 -44.5L-76.7 -49.0L-76.4 -62.5L-73.8 -68.5L-70.0 -73.6L-65.5 -76.3ZM42.5 -79.2L57.5 -75.6L66.5 -75.0L84.5 -71.1L87.5 -71.1L95.0 -73.3L101.0 -72.6L105.5 -70.5L117.8 -61.0L120.9 -53.5L128.0 -47.0L131.7 -40.0L132.5 -35.5L132.2 -20.5L131.0 -18.2L128.0 -17.4L120.5 -20.8L113.3 -7.0L111.4 5.0L107.5 9.5L102.5 11.4L95.0 10.0L87.5 13.0L78.5 12.7L69.5 13.8L53.0 11.8L33.5 10.8L30.4 9.5L26.0 5.2L21.5 2.7L18.5 -0.6L17.1 -4.0L15.7 -17.5L16.8 -20.5L21.5 -26.5L23.6 -31.0L24.4 -35.5L24.5 -46.0L28.6 -58.0L30.0 -68.5L33.5 -73.6L39.5 -78.1Z"/><path fill="#fdba4e" d="M-46.0 -73.1L-35.5 -73.8L-32.5 -73.3L-31.0 -72.3L-24.8 -61.0L-22.0 -57.8L-14.5 -51.7L-11.8 -46.0L-10.4 -35.5L-13.5 -22.0L-23.4 -7.0L-26.5 -4.6L-29.5 -3.5L-35.5 -3.2L-41.5 -4.1L-46.0 -5.9L-49.0 -8.3L-53.3 -14.5L-59.5 -28.5L-67.5 -40.0L-69.6 -44.5L-70.4 -50.5L-70.1 -55.0L-68.5 -59.8L-65.5 -65.2L-62.5 -67.8L-59.5 -69.2ZM45.5 -68.9L51.5 -69.6L62.0 -66.4L74.0 -65.2L84.5 -61.4L96.5 -62.2L99.5 -60.8L102.8 -56.5L103.4 -52.0L102.4 -41.5L103.3 -38.5L106.2 -34.0L106.6 -29.5L105.4 -25.0L100.3 -16.0L97.7 -8.5L96.5 -6.7L95.0 -5.8L89.0 -4.6L86.0 -3.1L73.9 6.5L69.5 8.7L65.0 9.4L60.5 9.1L50.0 7.0L45.5 5.4L39.0 0.5L30.6 -8.5L28.9 -11.5L27.9 -19.0L30.1 -34.0L30.3 -46.0L34.1 -53.5L38.0 -63.7L41.0 -66.5Z"/><path fill="#fb9e33" d="M-47.5 -65.6L-38.5 -66.2L-34.0 -64.5L-20.3 -50.5L-16.8 -44.5L-16.0 -40.0L-16.4 -34.0L-21.3 -19.0L-26.5 -10.0L-31.0 -7.4L-35.5 -7.0L-41.5 -7.8L-44.5 -9.0L-47.8 -11.5L-52.0 -17.4L-64.9 -43.0L-65.2 -46.0L-64.6 -50.5L-62.7 -55.0L-59.9 -59.5L-55.0 -63.3ZM47.0 -55.1L51.5 -56.1L57.5 -56.0L81.5 -49.6L86.2 -46.0L91.0 -37.0L91.7 -32.5L90.0 -26.5L79.2 -8.5L76.5 -5.5L70.7 -1.0L66.8 3.5L64.2 5.0L60.5 5.2L57.5 4.4L51.6 2.0L48.5 -0.0L39.7 -10.0L36.5 -17.5L35.5 -25.0L36.7 -38.5L43.5 -52.0Z"/><path fill="#f67c2b" d="M-50.5 -59.6L-43.0 -61.0L-37.0 -59.9L-26.5 -51.6L-22.9 -47.5L-21.4 -44.5L-20.2 -37.0L-21.8 -28.0L-26.7 -16.0L-29.5 -12.6L-32.5 -11.1L-37.0 -10.5L-41.5 -11.3L-44.5 -12.7L-47.5 -15.2L-52.0 -21.8L-60.7 -40.0L-61.7 -44.5L-60.2 -50.5L-56.5 -55.8ZM53.0 -43.5L56.0 -43.3L60.5 -39.8L63.5 -38.6L74.0 -39.1L77.0 -38.7L78.5 -37.6L79.4 -35.5L78.4 -23.5L74.0 -13.0L71.0 -9.4L65.0 -4.6L60.5 -2.3L56.0 -3.7L51.1 -7.0L46.6 -13.0L44.3 -19.0L44.4 -25.0L46.7 -37.0L49.5 -41.5Z"/><path fill="#ee552b" d="M-46.0 -56.7L-40.0 -56.7L-34.0 -53.6L-27.3 -47.5L-24.2 -41.5L-23.6 -34.0L-25.3 -26.5L-29.5 -18.0L-34.0 -14.5L-37.0 -14.0L-41.5 -14.7L-44.5 -16.2L-47.5 -19.0L-53.1 -28.0L-58.1 -40.0L-58.4 -46.0L-56.2 -50.5L-52.0 -54.4ZM59.0 -28.6L62.0 -29.4L65.0 -29.0L66.8 -28.0L68.9 -25.0L69.9 -22.0L69.7 -19.0L66.5 -15.3L63.5 -14.4L60.5 -15.2L55.7 -20.5L54.8 -23.5L55.2 -25.0L56.1 -26.5Z"/><path fill="#dc2c28" d="M-49.0 -52.1L-43.0 -53.4L-38.5 -52.3L-32.0 -47.5L-27.8 -41.5L-26.5 -35.5L-27.6 -28.0L-31.0 -21.2L-35.5 -17.8L-38.5 -17.4L-41.5 -18.0L-46.0 -20.9L-50.0 -26.5L-53.6 -34.0L-55.5 -40.0L-55.5 -44.5L-53.2 -49.0Z"/><path fill="#bf1a27" d="M-46.0 -49.4L-41.5 -49.4L-37.0 -47.2L-32.8 -43.0L-30.3 -38.5L-29.5 -34.0L-30.5 -28.0L-33.2 -23.5L-37.0 -21.1L-41.5 -21.3L-45.1 -23.5L-48.4 -28.0L-52.0 -36.2L-52.9 -41.5L-52.2 -44.5L-49.8 -47.5Z"/><path fill="#981922" d="M-46.0 -44.9L-43.0 -45.3L-40.0 -44.3L-37.0 -42.3L-34.0 -38.5L-32.9 -35.5L-32.9 -31.0L-34.1 -28.0L-37.0 -25.2L-40.0 -24.6L-43.0 -25.6L-45.3 -28.0L-47.5 -31.8L-49.5 -37.0L-49.7 -40.0L-48.7 -43.0Z"/><path fill="#e8f4fc" d="M-131.4 -160.0L-128.5 -160.0L-122.7 -160.0L-124.2 -158.5L-127.0 -157.6L-130.0 -158.5ZM-122.4 -160.0L-90.4 -160.0L-93.8 -151.0L-91.0 -147.3L-90.3 -145.0L-90.7 -142.0L-92.5 -139.0L-94.4 -137.5L-97.0 -136.8L-101.5 -138.2L-104.4 -142.0L-103.7 -149.5L-110.1 -152.5L-119.0 -154.0ZM-82.0 -160.0L-80.5 -160.0L130.3 -160.0L128.0 -155.7L125.0 -154.0L117.5 -153.1L110.0 -148.4L107.0 -147.2L98.0 -147.5L96.5 -146.5L92.1 -140.5L87.5 -136.3L77.3 -131.5L74.7 -125.5L72.5 -122.9L69.5 -121.5L66.5 -121.2L54.5 -122.4L48.5 -121.8L45.5 -122.2L30.5 -128.1L20.3 -130.0L16.2 -133.0L9.5 -134.9L2.0 -138.3L-1.0 -137.8L-6.5 -133.0L-16.0 -128.7L-20.5 -128.4L-26.5 -130.1L-29.5 -130.1L-31.1 -128.5L-32.8 -124.0L-34.0 -123.0L-37.0 -122.2L-40.0 -122.5L-43.9 -125.5L-47.8 -136.0L-53.5 -142.7L-58.0 -145.9L-66.2 -148.0L-70.0 -154.8L-73.0 -158.0L-74.5 -158.5L-80.5 -158.0ZM-106.0 -5.7L-101.5 -6.9L-91.0 -2.6L-80.5 -3.1L-76.0 -1.6L-73.0 0.5L-67.0 8.5L-57.1 15.5L-51.1 23.0L-47.5 30.6L-40.0 35.9L-38.3 41.0L-40.3 48.5L-40.4 51.5L-37.0 57.5L-31.9 62.0L-22.0 63.6L-16.0 66.5L-13.0 67.1L-7.0 65.5L-1.0 65.4L0.5 64.7L5.0 59.5L8.0 57.8L11.0 57.9L17.0 61.3L21.5 62.2L24.5 61.1L30.5 56.9L35.0 55.7L38.0 57.1L41.0 60.5L42.5 61.3L50.0 61.2L57.9 63.5L60.0 66.5L60.3 72.5L62.0 75.1L63.5 75.5L69.5 74.2L78.5 77.3L84.5 75.5L86.0 75.7L87.5 77.0L88.6 84.5L90.5 87.3L95.0 89.4L101.0 88.3L104.0 89.9L109.5 95.0L116.7 105.5L117.8 111.5L114.0 117.5L115.8 126.5L113.8 134.0L109.0 140.0L105.5 142.0L92.0 143.1L77.0 142.0L74.4 140.0L72.3 132.5L68.2 129.5L59.0 126.7L45.5 124.8L42.5 122.9L36.5 116.2L33.5 114.7L29.0 114.2L23.0 114.8L15.5 117.0L11.4 120.5L-1.0 144.6L-4.0 146.2L-10.0 144.3L-11.6 144.5L-12.3 146.0L-11.5 150.1L-5.9 156.5L-4.9 161.0L-37.7 161.0L-36.3 158.0L-31.6 153.5L-30.6 150.5L-30.9 147.5L-32.2 144.5L-37.0 140.0L-41.5 138.7L-43.8 140.0L-46.4 153.5L-47.5 155.7L-50.5 157.6L-52.0 157.3L-53.5 155.9L-57.1 149.0L-57.8 146.0L-57.1 140.0L-57.7 137.0L-62.5 132.9L-67.0 132.1L-73.0 134.8L-76.0 134.9L-79.3 132.5L-84.4 125.0L-88.0 123.4L-91.0 123.6L-98.5 126.7L-100.5 126.5L-102.6 123.5L-104.7 114.5L-105.0 110.0L-107.0 108.5L-110.5 108.1L-113.5 106.4L-117.4 102.5L-119.0 99.5L-118.8 96.5L-113.5 89.5L-111.9 86.0L-111.7 77.0L-110.6 71.0L-111.9 68.0L-118.2 62.0L-119.9 59.0L-118.3 50.0L-122.7 27.5L-117.8 11.0L-115.7 8.0L-110.9 3.5L-107.9 -4.0ZM116.0 137.4L117.5 137.1L119.0 138.0L120.0 141.5L119.0 145.7L117.8 147.5L114.5 148.5L112.3 147.5L112.1 146.0ZM140.9 161.0L143.0 159.7L144.9 161.0Z"/><path fill="#cde9f8" d="M71.9 -160.0L74.0 -160.0L80.0 -160.0L77.7 -155.5L74.0 -154.0L71.9 -155.5ZM-76.0 18.1L-71.5 17.7L-66.9 20.0L-65.9 21.5L-65.6 24.5L-67.2 30.5L-67.2 33.5L-65.5 38.0L-62.6 41.0L-56.4 45.5L-55.0 48.5L-54.6 53.0L-53.5 56.0L-45.3 62.0L-35.5 70.4L-31.0 72.2L-23.5 73.5L-4.0 83.7L0.5 85.2L5.0 84.6L12.5 80.2L18.5 81.9L38.0 83.5L42.5 85.1L45.6 89.0L45.7 92.0L41.9 98.0L40.5 104.0L39.5 105.3L32.5 107.0L21.5 107.4L12.5 109.6L8.0 112.3L2.0 119.9L-1.0 122.3L-11.5 126.3L-16.0 127.2L-26.5 124.3L-34.0 125.1L-37.0 124.4L-52.0 116.3L-65.5 112.8L-70.0 112.3L-77.5 108.5L-83.5 107.8L-86.5 106.8L-97.5 95.0L-99.3 92.0L-98.9 87.5L-94.8 77.0L-94.5 72.5L-96.8 66.5L-102.6 57.5L-107.2 48.5L-110.5 41.0L-111.2 36.5L-108.6 30.5L-106.0 26.8L-103.0 24.3L-95.5 21.7L-83.5 20.4ZM75.5 100.9L80.0 99.8L85.2 101.0L86.3 102.5L86.9 105.5L86.0 110.7L80.0 111.6L72.5 109.7L71.4 108.5L71.4 107.0L72.7 104.0Z"/><path fill="#b2def4" d="M-92.5 32.0L-84.7 32.0L-77.5 43.9L-67.4 50.0L-66.2 53.0L-65.8 60.5L-64.0 63.7L-53.5 68.2L-47.0 74.0L-38.5 79.5L-25.0 84.2L-15.8 92.0L-13.4 96.5L-13.3 101.0L-19.0 112.2L-20.5 113.4L-23.5 114.2L-34.0 115.4L-38.5 114.9L-42.0 113.0L-49.0 106.0L-58.1 102.5L-64.0 96.1L-67.0 95.0L-71.5 95.5L-73.4 95.0L-74.6 90.5L-81.6 81.5L-84.4 71.0L-88.2 62.0L-90.2 54.5L-97.0 48.4L-100.1 44.0L-100.7 39.5L-100.0 36.5L-97.0 33.3Z"/><path fill="#97d3f3" d="M-52.5 84.5L-49.9 84.5L-34.0 91.4L-30.7 93.5L-28.9 96.5L-28.5 99.5L-29.0 102.5L-30.9 105.5L-32.5 106.4L-35.5 106.3L-46.7 98.0L-49.0 95.0L-50.5 89.0L-52.1 86.0Z"/></g></g><use href="#grey"/><g clip-path="url(#land)"><path d="M-47.7 -46.8L-30.7 -42.6L-9.6 -30.9L-11.7 -11.9L-22.3 -5.5L-37.1 -11.9L-47.7 -26.7ZM-44.5 -93.3L-29.7 -93.3L-29.7 -80.7L-44.5 -80.7ZM-107.5 28.8L-95.9 26.7L-82.2 39.4L-82.2 53.2L-98.0 53.2ZM-95.9 58.5L-70.5 60.6L-47.2 77.5L-49.3 90.2L-79.0 90.2L-93.8 77.5ZM-70.5 81.8L-32.4 81.8L-18.7 90.2L-24.0 107.2L-40.9 122.0L-68.4 122.0L-74.7 107.2ZM71.7 99.7L83.3 99.7L83.3 112.4L71.7 112.4ZM38.9 88.1L47.3 88.1L47.3 94.5L38.9 94.5Z" fill="url(#xh)"/></g><use href="#coast"/><use href="#grat"/></g><use href="#perim"/></g>
<text x="176.2" y="36.8" font-size="27" font-weight="bold" text-anchor="middle" textLength="82.8" lengthAdjust="spacingAndGlyphs">ERA-5</text>
<text x="551.9" y="31.7" font-size="27" font-weight="bold" text-anchor="middle" textLength="60.2" lengthAdjust="spacingAndGlyphs">ATM</text>
<text x="177.4" y="443.8" font-size="27" font-weight="bold" text-anchor="middle" textLength="54.4" lengthAdjust="spacingAndGlyphs">CPL</text>
<text x="551.7" y="439.0" font-size="27" font-weight="bold" text-anchor="middle" textLength="140.6" lengthAdjust="spacingAndGlyphs">CPL - ATM</text>
<text x="19.3" y="68.7" font-size="28" font-weight="normal" text-anchor="start">a</text>
<text x="393.0" y="68.4" font-size="28" font-weight="normal" text-anchor="start">b</text>
<text x="19.6" y="475.5" font-size="28" font-weight="normal" text-anchor="start">c</text>
<text x="393.6" y="475.0" font-size="28" font-weight="normal" text-anchor="start">d</text>
<text x="177.5" y="87.8" font-size="20" font-weight="normal" text-anchor="middle" textLength="42.6" lengthAdjust="spacingAndGlyphs">90W</text>
<text x="177.39999999999998" y="413.2" font-size="20" font-weight="normal" text-anchor="middle" textLength="35.8" lengthAdjust="spacingAndGlyphs">90E</text>
<text x="338.6" y="250.2" font-size="20" font-weight="normal" text-anchor="start" textLength="33.4" lengthAdjust="spacingAndGlyphs">180</text>
<text x="14.899999999999977" y="250.2" font-size="20" font-weight="normal" text-anchor="end">0</text>
<text x="551.1999999999999" y="87.8" font-size="20" font-weight="normal" text-anchor="middle" textLength="42.6" lengthAdjust="spacingAndGlyphs">90W</text>
<text x="551.1" y="413.2" font-size="20" font-weight="normal" text-anchor="middle" textLength="35.8" lengthAdjust="spacingAndGlyphs">90E</text>
<text x="713.3000000000001" y="250.2" font-size="20" font-weight="normal" text-anchor="start" textLength="33.4" lengthAdjust="spacingAndGlyphs">180</text>
<text x="389.29999999999995" y="250.2" font-size="20" font-weight="normal" text-anchor="end">0</text>
<text x="177.5" y="494.59999999999997" font-size="20" font-weight="normal" text-anchor="middle" textLength="42.6" lengthAdjust="spacingAndGlyphs">90W</text>
<text x="177.39999999999998" y="820.0" font-size="20" font-weight="normal" text-anchor="middle" textLength="35.8" lengthAdjust="spacingAndGlyphs">90E</text>
<text x="338.6" y="657.0" font-size="20" font-weight="normal" text-anchor="start" textLength="33.4" lengthAdjust="spacingAndGlyphs">180</text>
<text x="14.899999999999977" y="657.0" font-size="20" font-weight="normal" text-anchor="end">0</text>
<text x="551.1999999999999" y="494.59999999999997" font-size="20" font-weight="normal" text-anchor="middle" textLength="42.6" lengthAdjust="spacingAndGlyphs">90W</text>
<text x="551.1" y="820.0" font-size="20" font-weight="normal" text-anchor="middle" textLength="35.8" lengthAdjust="spacingAndGlyphs">90E</text>
<text x="713.3000000000001" y="657.0" font-size="20" font-weight="normal" text-anchor="start" textLength="33.4" lengthAdjust="spacingAndGlyphs">180</text>
<text x="389.29999999999995" y="657.0" font-size="20" font-weight="normal" text-anchor="end">0</text>
<rect x="192.30" y="863.6" width="16.94" height="25.7" fill="#1b2f6e"/>
<rect x="208.94" y="863.6" width="16.94" height="25.7" fill="#1e4593"/>
<rect x="225.58" y="863.6" width="16.94" height="25.7" fill="#2460b0"/>
<rect x="242.22" y="863.6" width="16.94" height="25.7" fill="#3c84c6"/>
<rect x="258.86" y="863.6" width="16.94" height="25.7" fill="#559fd5"/>
<rect x="275.50" y="863.6" width="16.94" height="25.7" fill="#74bbe4"/>
<rect x="292.15" y="863.6" width="16.94" height="25.7" fill="#97d3f3"/>
<rect x="308.79" y="863.6" width="16.94" height="25.7" fill="#b2def4"/>
<rect x="325.43" y="863.6" width="16.94" height="25.7" fill="#cde9f8"/>
<rect x="342.07" y="863.6" width="16.94" height="25.7" fill="#e8f4fc"/>
<rect x="358.71" y="863.6" width="16.94" height="25.7" fill="#ffffff"/>
<rect x="375.35" y="863.6" width="16.94" height="25.7" fill="#ffffff"/>
<rect x="391.99" y="863.6" width="16.94" height="25.7" fill="#fff4d8"/>
<rect x="408.63" y="863.6" width="16.94" height="25.7" fill="#fee9aa"/>
<rect x="425.27" y="863.6" width="16.94" height="25.7" fill="#fed67c"/>
<rect x="441.91" y="863.6" width="16.94" height="25.7" fill="#fdba4e"/>
<rect x="458.55" y="863.6" width="16.94" height="25.7" fill="#fb9e33"/>
<rect x="475.20" y="863.6" width="16.94" height="25.7" fill="#f67c2b"/>
<rect x="491.84" y="863.6" width="16.94" height="25.7" fill="#ee552b"/>
<rect x="508.48" y="863.6" width="16.94" height="25.7" fill="#dc2c28"/>
<rect x="525.12" y="863.6" width="16.94" height="25.7" fill="#bf1a27"/>
<rect x="541.76" y="863.6" width="16.94" height="25.7" fill="#981922"/>
<path d="M208.94 863.6V889.3M225.58 863.6V889.3M242.22 863.6V889.3M258.86 863.6V889.3M275.50 863.6V889.3M292.15 863.6V889.3M308.79 863.6V889.3M325.43 863.6V889.3M342.07 863.6V889.3M358.71 863.6V889.3M375.35 863.6V889.3M391.99 863.6V889.3M408.63 863.6V889.3M425.27 863.6V889.3M441.91 863.6V889.3M458.55 863.6V889.3M475.20 863.6V889.3M491.84 863.6V889.3M508.48 863.6V889.3M525.12 863.6V889.3M541.76 863.6V889.3" stroke="#222" stroke-width="0.9" fill="none"/>
<rect x="192.3" y="863.6" width="366.1" height="25.7" fill="none" stroke="#222" stroke-width="0.9"/>
<text x="225.6" y="910.6" font-size="17.6" font-weight="normal" text-anchor="middle">-1.8</text>
<text x="275.5" y="910.6" font-size="17.6" font-weight="normal" text-anchor="middle">-1.2</text>
<text x="325.4" y="910.6" font-size="17.6" font-weight="normal" text-anchor="middle">-0.6</text>
<text x="375.4" y="910.6" font-size="17.6" font-weight="normal" text-anchor="middle">0</text>
<text x="425.3" y="910.6" font-size="17.6" font-weight="normal" text-anchor="middle">0.6</text>
<text x="475.2" y="910.6" font-size="17.6" font-weight="normal" text-anchor="middle">1.2</text>
<text x="525.1" y="910.6" font-size="17.6" font-weight="normal" text-anchor="middle">1.8</text>
<text x="375.1" y="848.6" font-size="18.2" font-weight="normal" text-anchor="middle" textLength="248.5" lengthAdjust="spacingAndGlyphs">Near-surface Temperature (K)</text>
</svg></body></html>
